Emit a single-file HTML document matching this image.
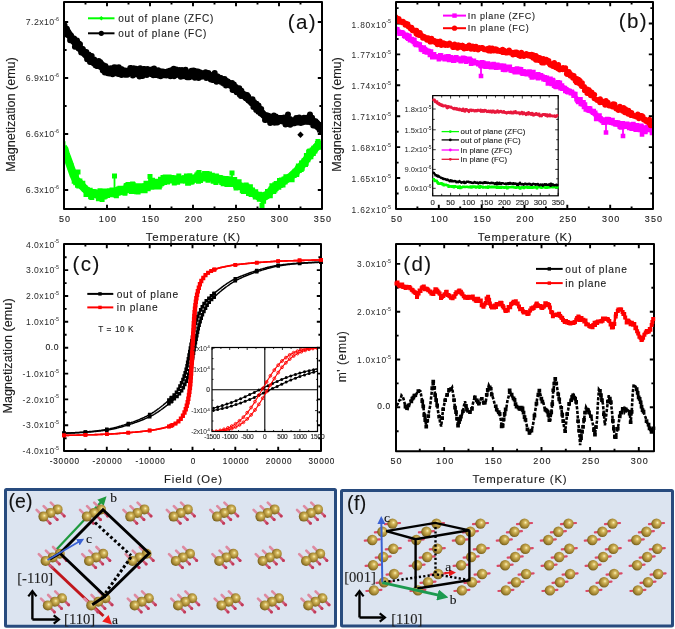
<!DOCTYPE html>
<html><head><meta charset="utf-8"><style>
html,body{margin:0;padding:0;background:#fff;}
svg{display:block;filter:blur(0.3px);}
</style></head><body>
<svg width="675" height="629" viewBox="0 0 675 629" font-family='"Liberation Sans", sans-serif'>
<rect x="64" y="2" width="258" height="207" fill="none" stroke="#000" stroke-width="2" stroke-linejoin="round"/><path d="M107.0 209v-4.2M107.0 2v4.2M150.0 209v-4.2M150.0 2v4.2M193.0 209v-4.2M193.0 2v4.2M236.0 209v-4.2M236.0 2v4.2M279.0 209v-4.2M279.0 2v4.2M85.5 209v-2.6M85.5 2v2.6M128.5 209v-2.6M128.5 2v2.6M171.5 209v-2.6M171.5 2v2.6M214.5 209v-2.6M214.5 2v2.6M257.5 209v-2.6M257.5 2v2.6M300.5 209v-2.6M300.5 2v2.6M64 22.0h4.2M322 22.0h-4.2M64 78.0h4.2M322 78.0h-4.2M64 134.0h4.2M322 134.0h-4.2M64 190.0h4.2M322 190.0h-4.2M64 50.0h2.6M322 50.0h-2.6M64 106.0h2.6M322 106.0h-2.6M64 162.0h2.6M322 162.0h-2.6" stroke="#000" stroke-width="1.9" fill="none"/>
<clipPath id="ca"><rect x="65" y="3" width="256" height="205"/></clipPath><g clip-path="url(#ca)">
<polyline points="63.0,147.0 64.5,149.2 66.0,154.5 67.5,158.3 69.0,162.4 70.5,166.7 72.1,171.1 73.6,175.4 75.1,178.6 76.6,180.4 78.1,181.8 79.6,183.1 81.1,184.7 82.6,186.5 84.1,188.2 85.6,189.5 87.1,190.8 88.6,191.8 90.2,192.6 91.7,193.1 93.2,193.7 94.7,194.1 96.2,194.5 97.7,194.8 99.2,195.0 100.7,195.0 102.2,194.9 103.7,194.6 105.2,194.4 106.8,194.1 108.3,193.7 109.8,193.4 111.3,193.2 112.8,192.9 114.3,192.7 115.8,192.4 117.3,192.1 118.8,191.8 120.3,191.4 121.8,190.8 123.4,190.1 124.9,189.3 126.4,188.6 127.9,188.0 129.4,187.6 130.9,187.6 132.4,187.7 133.9,187.7 135.4,187.8 136.9,187.9 138.4,188.0 139.9,188.0 141.5,187.9 143.0,187.6 144.5,187.2 146.0,186.6 147.5,186.1 149.0,185.6 150.5,185.2 152.0,184.8 153.5,184.4 155.0,184.0 156.5,183.6 158.1,183.2 159.6,182.7 161.1,182.2 162.6,181.6 164.1,180.8 165.6,180.1 167.1,179.5 168.6,179.1 170.1,179.0 171.6,179.0 173.1,179.1 174.6,179.2 176.2,179.3 177.7,179.4 179.2,179.5 180.7,179.5 182.2,179.4 183.7,179.4 185.2,179.2 186.7,179.1 188.2,179.0 189.7,178.8 191.2,178.7 192.8,178.4 194.3,178.2 195.8,177.9 197.3,177.7 198.8,177.5 200.3,177.5 201.8,177.5 203.3,177.5 204.8,177.5 206.3,177.5 207.8,177.5 209.4,177.5 210.9,177.5 212.4,177.6 213.9,177.8 215.4,178.1 216.9,178.4 218.4,178.7 219.9,179.0 221.4,179.3 222.9,179.6 224.4,179.9 225.9,180.3 227.5,180.7 229.0,181.1 230.5,181.6 232.0,182.1 233.5,182.8 235.0,183.5 236.5,184.2 238.0,185.0 239.5,185.8 241.0,186.5 242.5,187.3 244.1,188.0 245.6,188.8 247.1,189.6 248.6,190.4 250.1,191.2 251.6,192.2 253.1,193.1 254.6,194.0 256.1,194.8 257.6,195.8 259.1,196.7 260.6,197.3 262.2,197.5 263.7,197.2 265.2,196.5 266.7,195.5 268.2,193.8 269.7,192.0 271.2,190.6 272.7,189.2 274.2,187.9 275.7,186.7 277.2,185.5 278.8,184.3 280.3,183.2 281.8,182.2 283.3,181.3 284.8,180.4 286.3,179.5 287.8,178.5 289.3,177.5 290.8,176.4 292.3,175.1 293.8,173.7 295.4,172.3 296.9,170.8 298.4,169.2 299.9,167.6 301.4,165.9 302.9,164.1 304.4,162.1 305.9,160.1 307.4,158.1 308.9,156.1 310.4,154.3 311.9,152.4 313.5,150.6 315.0,148.8 316.5,147.0 318.0,145.3 319.5,143.7 321.0,142.0" fill="none" stroke="#00ff00" stroke-width="8.0" stroke-linejoin="round"/><path d="M114.5 192.6L114.5 176.0M262.0 197.5L262.0 205.5M150.0 185.3L150.0 176.5M199.0 177.5L199.0 172.5M232.0 182.1L232.0 173.0M78.0 181.7L78.0 172.0" stroke="#00ff00" stroke-width="1.8"/><path d="M60.5 141.2h5.0v5.0h-5.0zM61.6 147.7h5.0v5.0h-5.0zM61.6 147.6h5.0v5.0h-5.0zM63.0 154.2h5.0v5.0h-5.0zM63.2 152.2h5.0v5.0h-5.0zM64.0 150.6h5.0v5.0h-5.0zM65.1 155.4h5.0v5.0h-5.0zM65.4 156.5h5.0v5.0h-5.0zM66.3 160.6h5.0v5.0h-5.0zM66.6 159.6h5.0v5.0h-5.0zM67.9 165.1h5.0v5.0h-5.0zM68.4 163.1h5.0v5.0h-5.0zM69.0 165.3h5.0v5.0h-5.0zM70.0 170.1h5.0v5.0h-5.0zM70.4 170.2h5.0v5.0h-5.0zM71.2 169.8h5.0v5.0h-5.0zM71.7 178.7h5.0v5.0h-5.0zM72.6 178.1h5.0v5.0h-5.0zM73.2 180.2h5.0v5.0h-5.0zM73.9 176.5h5.0v5.0h-5.0zM75.0 182.7h5.0v5.0h-5.0zM75.4 181.5h5.0v5.0h-5.0zM76.3 183.5h5.0v5.0h-5.0zM77.4 178.4h5.0v5.0h-5.0zM78.1 181.5h5.0v5.0h-5.0zM78.6 180.9h5.0v5.0h-5.0zM79.2 184.1h5.0v5.0h-5.0zM79.7 180.7h5.0v5.0h-5.0zM80.3 180.8h5.0v5.0h-5.0zM81.7 185.3h5.0v5.0h-5.0zM82.0 187.1h5.0v5.0h-5.0zM82.4 185.1h5.0v5.0h-5.0zM83.5 191.9h5.0v5.0h-5.0zM84.4 187.5h5.0v5.0h-5.0zM85.0 187.2h5.0v5.0h-5.0zM85.9 191.9h5.0v5.0h-5.0zM85.9 188.4h5.0v5.0h-5.0zM87.0 187.7h5.0v5.0h-5.0zM87.7 187.8h5.0v5.0h-5.0zM88.1 194.2h5.0v5.0h-5.0zM89.3 195.0h5.0v5.0h-5.0zM90.2 192.3h5.0v5.0h-5.0zM90.7 189.1h5.0v5.0h-5.0zM91.1 193.0h5.0v5.0h-5.0zM92.3 189.3h5.0v5.0h-5.0zM92.8 189.8h5.0v5.0h-5.0zM93.5 192.4h5.0v5.0h-5.0zM94.4 191.4h5.0v5.0h-5.0zM94.6 190.8h5.0v5.0h-5.0zM95.9 196.3h5.0v5.0h-5.0zM96.5 189.7h5.0v5.0h-5.0zM97.3 193.2h5.0v5.0h-5.0zM97.5 188.3h5.0v5.0h-5.0zM98.7 189.3h5.0v5.0h-5.0zM99.0 190.0h5.0v5.0h-5.0zM99.6 197.1h5.0v5.0h-5.0zM100.9 193.8h5.0v5.0h-5.0zM101.6 194.6h5.0v5.0h-5.0zM102.4 188.4h5.0v5.0h-5.0zM102.8 193.7h5.0v5.0h-5.0zM103.3 191.0h5.0v5.0h-5.0zM103.8 190.4h5.0v5.0h-5.0zM105.0 193.1h5.0v5.0h-5.0zM105.8 189.0h5.0v5.0h-5.0zM106.6 191.0h5.0v5.0h-5.0zM106.9 188.2h5.0v5.0h-5.0zM107.6 189.9h5.0v5.0h-5.0zM108.6 190.2h5.0v5.0h-5.0zM109.5 187.6h5.0v5.0h-5.0zM110.3 189.0h5.0v5.0h-5.0zM110.4 189.6h5.0v5.0h-5.0zM111.4 190.3h5.0v5.0h-5.0zM112.4 192.4h5.0v5.0h-5.0zM112.8 190.9h5.0v5.0h-5.0zM113.6 189.8h5.0v5.0h-5.0zM113.9 193.3h5.0v5.0h-5.0zM115.1 186.9h5.0v5.0h-5.0zM116.0 186.5h5.0v5.0h-5.0zM116.7 187.9h5.0v5.0h-5.0zM117.4 185.8h5.0v5.0h-5.0zM118.0 189.4h5.0v5.0h-5.0zM118.3 189.8h5.0v5.0h-5.0zM119.5 185.8h5.0v5.0h-5.0zM119.8 189.7h5.0v5.0h-5.0zM121.0 187.6h5.0v5.0h-5.0zM121.1 186.2h5.0v5.0h-5.0zM122.4 190.8h5.0v5.0h-5.0zM122.6 189.7h5.0v5.0h-5.0zM123.5 183.6h5.0v5.0h-5.0zM124.1 183.1h5.0v5.0h-5.0zM125.2 188.2h5.0v5.0h-5.0zM125.5 181.9h5.0v5.0h-5.0zM126.4 187.7h5.0v5.0h-5.0zM126.8 183.7h5.0v5.0h-5.0zM127.7 184.0h5.0v5.0h-5.0zM128.5 185.2h5.0v5.0h-5.0zM129.0 188.9h5.0v5.0h-5.0zM130.1 181.5h5.0v5.0h-5.0zM130.6 181.9h5.0v5.0h-5.0zM131.6 187.1h5.0v5.0h-5.0zM132.3 184.2h5.0v5.0h-5.0zM132.8 183.6h5.0v5.0h-5.0zM133.9 189.3h5.0v5.0h-5.0zM134.4 183.3h5.0v5.0h-5.0zM135.3 186.9h5.0v5.0h-5.0zM135.6 189.4h5.0v5.0h-5.0zM136.5 187.5h5.0v5.0h-5.0zM136.9 187.2h5.0v5.0h-5.0zM138.3 187.3h5.0v5.0h-5.0zM138.4 188.3h5.0v5.0h-5.0zM139.1 183.2h5.0v5.0h-5.0zM139.7 186.2h5.0v5.0h-5.0zM140.6 188.0h5.0v5.0h-5.0zM141.7 188.0h5.0v5.0h-5.0zM142.4 187.9h5.0v5.0h-5.0zM142.6 188.2h5.0v5.0h-5.0zM143.5 180.8h5.0v5.0h-5.0zM144.3 182.8h5.0v5.0h-5.0zM145.2 183.2h5.0v5.0h-5.0zM145.7 186.2h5.0v5.0h-5.0zM146.6 182.5h5.0v5.0h-5.0zM147.5 181.3h5.0v5.0h-5.0zM148.1 178.7h5.0v5.0h-5.0zM148.5 180.2h5.0v5.0h-5.0zM149.3 184.8h5.0v5.0h-5.0zM150.0 177.7h5.0v5.0h-5.0zM150.5 179.1h5.0v5.0h-5.0zM151.3 180.2h5.0v5.0h-5.0zM152.1 181.5h5.0v5.0h-5.0zM152.8 180.7h5.0v5.0h-5.0zM153.5 184.4h5.0v5.0h-5.0zM154.4 178.8h5.0v5.0h-5.0zM155.5 181.4h5.0v5.0h-5.0zM156.0 183.4h5.0v5.0h-5.0zM156.8 184.4h5.0v5.0h-5.0zM157.5 182.8h5.0v5.0h-5.0zM158.0 176.8h5.0v5.0h-5.0zM159.0 181.3h5.0v5.0h-5.0zM159.6 180.6h5.0v5.0h-5.0zM160.1 178.6h5.0v5.0h-5.0zM160.5 175.1h5.0v5.0h-5.0zM161.5 176.0h5.0v5.0h-5.0zM162.0 180.1h5.0v5.0h-5.0zM162.7 174.4h5.0v5.0h-5.0zM163.7 175.8h5.0v5.0h-5.0zM164.6 175.4h5.0v5.0h-5.0zM165.0 179.6h5.0v5.0h-5.0zM166.1 175.3h5.0v5.0h-5.0zM166.6 174.4h5.0v5.0h-5.0zM167.0 175.4h5.0v5.0h-5.0zM168.4 174.9h5.0v5.0h-5.0zM168.6 178.6h5.0v5.0h-5.0zM169.3 175.3h5.0v5.0h-5.0zM170.4 178.4h5.0v5.0h-5.0zM170.6 176.7h5.0v5.0h-5.0zM171.8 180.5h5.0v5.0h-5.0zM172.1 178.7h5.0v5.0h-5.0zM172.9 176.5h5.0v5.0h-5.0zM173.5 177.2h5.0v5.0h-5.0zM174.7 176.2h5.0v5.0h-5.0zM175.1 179.7h5.0v5.0h-5.0zM176.3 173.5h5.0v5.0h-5.0zM176.7 176.4h5.0v5.0h-5.0zM177.5 177.3h5.0v5.0h-5.0zM178.1 176.5h5.0v5.0h-5.0zM178.6 177.5h5.0v5.0h-5.0zM179.4 177.1h5.0v5.0h-5.0zM180.5 176.7h5.0v5.0h-5.0zM180.7 178.0h5.0v5.0h-5.0zM182.0 175.3h5.0v5.0h-5.0zM182.5 177.7h5.0v5.0h-5.0zM182.9 178.6h5.0v5.0h-5.0zM183.9 173.4h5.0v5.0h-5.0zM184.4 175.7h5.0v5.0h-5.0zM185.1 180.8h5.0v5.0h-5.0zM185.9 180.7h5.0v5.0h-5.0zM186.2 180.3h5.0v5.0h-5.0zM187.3 173.2h5.0v5.0h-5.0zM188.4 179.1h5.0v5.0h-5.0zM188.6 179.7h5.0v5.0h-5.0zM189.7 179.3h5.0v5.0h-5.0zM190.2 177.6h5.0v5.0h-5.0zM190.7 178.1h5.0v5.0h-5.0zM192.0 177.6h5.0v5.0h-5.0zM192.0 176.3h5.0v5.0h-5.0zM192.9 177.2h5.0v5.0h-5.0zM194.2 175.5h5.0v5.0h-5.0zM194.3 172.5h5.0v5.0h-5.0zM195.5 171.3h5.0v5.0h-5.0zM196.0 178.7h5.0v5.0h-5.0zM196.9 176.9h5.0v5.0h-5.0zM197.5 172.5h5.0v5.0h-5.0zM198.0 178.1h5.0v5.0h-5.0zM199.0 172.7h5.0v5.0h-5.0zM199.2 176.1h5.0v5.0h-5.0zM200.2 173.2h5.0v5.0h-5.0zM200.9 172.5h5.0v5.0h-5.0zM201.7 172.6h5.0v5.0h-5.0zM202.1 170.9h5.0v5.0h-5.0zM202.9 172.0h5.0v5.0h-5.0zM203.9 171.2h5.0v5.0h-5.0zM204.5 171.1h5.0v5.0h-5.0zM205.5 177.8h5.0v5.0h-5.0zM206.1 175.4h5.0v5.0h-5.0zM207.0 171.4h5.0v5.0h-5.0zM207.6 175.2h5.0v5.0h-5.0zM208.2 174.9h5.0v5.0h-5.0zM208.7 175.4h5.0v5.0h-5.0zM209.8 172.7h5.0v5.0h-5.0zM210.1 174.4h5.0v5.0h-5.0zM210.7 178.7h5.0v5.0h-5.0zM212.1 174.0h5.0v5.0h-5.0zM212.5 175.4h5.0v5.0h-5.0zM213.4 180.0h5.0v5.0h-5.0zM213.9 173.5h5.0v5.0h-5.0zM214.7 178.3h5.0v5.0h-5.0zM214.9 175.9h5.0v5.0h-5.0zM215.8 178.4h5.0v5.0h-5.0zM216.9 175.1h5.0v5.0h-5.0zM217.5 176.9h5.0v5.0h-5.0zM217.9 175.3h5.0v5.0h-5.0zM219.2 179.7h5.0v5.0h-5.0zM219.3 180.1h5.0v5.0h-5.0zM220.3 177.6h5.0v5.0h-5.0zM220.7 181.3h5.0v5.0h-5.0zM221.9 179.5h5.0v5.0h-5.0zM222.3 180.6h5.0v5.0h-5.0zM222.9 180.3h5.0v5.0h-5.0zM223.5 176.1h5.0v5.0h-5.0zM224.4 182.1h5.0v5.0h-5.0zM225.1 176.8h5.0v5.0h-5.0zM226.1 178.5h5.0v5.0h-5.0zM226.7 176.2h5.0v5.0h-5.0zM227.8 181.9h5.0v5.0h-5.0zM228.6 178.1h5.0v5.0h-5.0zM229.2 181.4h5.0v5.0h-5.0zM229.8 177.6h5.0v5.0h-5.0zM230.6 178.8h5.0v5.0h-5.0zM231.4 178.7h5.0v5.0h-5.0zM231.4 177.9h5.0v5.0h-5.0zM232.2 177.0h5.0v5.0h-5.0zM233.1 183.4h5.0v5.0h-5.0zM233.6 185.6h5.0v5.0h-5.0zM234.7 180.0h5.0v5.0h-5.0zM235.2 179.5h5.0v5.0h-5.0zM235.9 182.1h5.0v5.0h-5.0zM236.6 179.2h5.0v5.0h-5.0zM237.2 184.9h5.0v5.0h-5.0zM238.4 182.7h5.0v5.0h-5.0zM239.1 184.5h5.0v5.0h-5.0zM239.8 188.3h5.0v5.0h-5.0zM240.0 187.6h5.0v5.0h-5.0zM241.0 189.1h5.0v5.0h-5.0zM242.0 189.0h5.0v5.0h-5.0zM242.3 186.7h5.0v5.0h-5.0zM243.2 186.1h5.0v5.0h-5.0zM243.6 182.6h5.0v5.0h-5.0zM244.3 183.5h5.0v5.0h-5.0zM245.2 187.2h5.0v5.0h-5.0zM246.0 191.1h5.0v5.0h-5.0zM246.8 187.3h5.0v5.0h-5.0zM247.9 184.3h5.0v5.0h-5.0zM248.1 186.9h5.0v5.0h-5.0zM248.6 191.9h5.0v5.0h-5.0zM250.0 187.5h5.0v5.0h-5.0zM250.1 187.8h5.0v5.0h-5.0zM250.8 189.7h5.0v5.0h-5.0zM252.2 192.0h5.0v5.0h-5.0zM252.8 194.4h5.0v5.0h-5.0zM253.2 189.3h5.0v5.0h-5.0zM253.7 193.6h5.0v5.0h-5.0zM254.6 193.3h5.0v5.0h-5.0zM255.3 193.3h5.0v5.0h-5.0zM256.4 195.1h5.0v5.0h-5.0zM256.8 196.8h5.0v5.0h-5.0zM257.2 191.8h5.0v5.0h-5.0zM258.6 194.5h5.0v5.0h-5.0zM259.1 192.3h5.0v5.0h-5.0zM259.4 195.4h5.0v5.0h-5.0zM260.1 197.6h5.0v5.0h-5.0zM261.1 198.8h5.0v5.0h-5.0zM261.6 194.2h5.0v5.0h-5.0zM262.7 192.1h5.0v5.0h-5.0zM263.4 194.1h5.0v5.0h-5.0zM263.7 191.5h5.0v5.0h-5.0zM265.0 188.9h5.0v5.0h-5.0zM265.7 191.4h5.0v5.0h-5.0zM266.5 192.9h5.0v5.0h-5.0zM267.0 193.1h5.0v5.0h-5.0zM267.8 193.3h5.0v5.0h-5.0zM268.1 187.5h5.0v5.0h-5.0zM268.7 186.3h5.0v5.0h-5.0zM269.4 183.2h5.0v5.0h-5.0zM270.9 185.2h5.0v5.0h-5.0zM271.3 189.0h5.0v5.0h-5.0zM272.3 182.3h5.0v5.0h-5.0zM272.5 187.6h5.0v5.0h-5.0zM273.6 185.9h5.0v5.0h-5.0zM273.7 180.9h5.0v5.0h-5.0zM274.5 184.5h5.0v5.0h-5.0zM275.3 184.7h5.0v5.0h-5.0zM276.3 184.8h5.0v5.0h-5.0zM277.0 177.9h5.0v5.0h-5.0zM277.6 182.9h5.0v5.0h-5.0zM278.3 182.7h5.0v5.0h-5.0zM279.1 177.5h5.0v5.0h-5.0zM280.2 177.5h5.0v5.0h-5.0zM280.5 182.5h5.0v5.0h-5.0zM281.5 178.1h5.0v5.0h-5.0zM281.6 176.5h5.0v5.0h-5.0zM282.6 179.6h5.0v5.0h-5.0zM283.4 174.2h5.0v5.0h-5.0zM284.2 176.5h5.0v5.0h-5.0zM284.6 175.0h5.0v5.0h-5.0zM285.5 176.3h5.0v5.0h-5.0zM286.6 176.4h5.0v5.0h-5.0zM287.1 176.2h5.0v5.0h-5.0zM287.8 174.1h5.0v5.0h-5.0zM288.1 177.2h5.0v5.0h-5.0zM288.8 176.1h5.0v5.0h-5.0zM289.6 177.2h5.0v5.0h-5.0zM290.3 171.7h5.0v5.0h-5.0zM291.7 173.1h5.0v5.0h-5.0zM291.6 170.7h5.0v5.0h-5.0zM292.6 168.7h5.0v5.0h-5.0zM293.1 170.4h5.0v5.0h-5.0zM294.2 172.0h5.0v5.0h-5.0zM294.5 170.6h5.0v5.0h-5.0zM295.2 165.5h5.0v5.0h-5.0zM295.9 163.5h5.0v5.0h-5.0zM296.8 168.0h5.0v5.0h-5.0zM297.8 165.4h5.0v5.0h-5.0zM298.7 166.9h5.0v5.0h-5.0zM299.0 160.5h5.0v5.0h-5.0zM299.7 165.7h5.0v5.0h-5.0zM300.8 160.0h5.0v5.0h-5.0zM301.5 158.5h5.0v5.0h-5.0zM301.7 158.2h5.0v5.0h-5.0zM303.0 161.9h5.0v5.0h-5.0zM303.7 160.7h5.0v5.0h-5.0zM303.9 153.1h5.0v5.0h-5.0zM305.0 154.0h5.0v5.0h-5.0zM305.4 157.2h5.0v5.0h-5.0zM306.1 149.4h5.0v5.0h-5.0zM307.0 148.7h5.0v5.0h-5.0zM307.8 148.4h5.0v5.0h-5.0zM308.4 154.3h5.0v5.0h-5.0zM309.2 149.0h5.0v5.0h-5.0zM309.7 147.6h5.0v5.0h-5.0zM310.8 151.1h5.0v5.0h-5.0zM311.2 145.8h5.0v5.0h-5.0zM312.4 148.5h5.0v5.0h-5.0zM312.8 145.3h5.0v5.0h-5.0zM313.3 144.2h5.0v5.0h-5.0zM313.9 143.8h5.0v5.0h-5.0zM314.9 141.0h5.0v5.0h-5.0zM315.5 138.9h5.0v5.0h-5.0zM316.4 144.7h5.0v5.0h-5.0zM317.1 144.6h5.0v5.0h-5.0zM317.4 140.4h5.0v5.0h-5.0zM318.5 141.1h5.0v5.0h-5.0zM112.0 173.5h5.0v5.0h-5.0zM259.5 203.0h5.0v5.0h-5.0zM147.5 174.0h5.0v5.0h-5.0zM196.5 170.0h5.0v5.0h-5.0zM229.5 170.5h5.0v5.0h-5.0zM75.5 169.5h5.0v5.0h-5.0z" fill="#00ff00"/>
<polyline points="63.0,28.0 64.5,28.4 66.0,29.8 67.5,31.9 69.0,34.5 70.5,36.8 72.1,38.9 73.6,40.8 75.1,42.6 76.6,44.4 78.1,46.1 79.6,47.8 81.1,49.5 82.6,51.2 84.1,53.0 85.6,54.6 87.1,56.1 88.6,57.5 90.2,58.8 91.7,60.0 93.2,61.1 94.7,62.1 96.2,63.1 97.7,64.1 99.2,65.1 100.7,66.1 102.2,67.2 103.7,68.4 105.2,69.5 106.8,70.0 108.3,70.5 109.8,70.8 111.3,71.0 112.8,71.1 114.3,71.1 115.8,71.1 117.3,71.2 118.8,71.2 120.3,71.3 121.8,71.4 123.4,71.4 124.9,71.5 126.4,71.5 127.9,71.6 129.4,71.6 130.9,71.7 132.4,71.7 133.9,71.8 135.4,71.8 136.9,71.9 138.4,71.9 139.9,71.9 141.5,72.0 143.0,72.0 144.5,72.1 146.0,72.1 147.5,72.2 149.0,72.2 150.5,72.2 152.0,72.3 153.5,72.3 155.0,72.4 156.5,72.4 158.1,72.5 159.6,72.6 161.1,72.6 162.6,72.7 164.1,72.8 165.6,72.8 167.1,72.8 168.6,72.9 170.1,72.9 171.6,72.9 173.1,72.9 174.6,73.0 176.2,73.0 177.7,73.1 179.2,73.1 180.7,73.2 182.2,73.2 183.7,73.3 185.2,73.4 186.7,73.4 188.2,73.5 189.7,73.6 191.2,73.7 192.8,73.8 194.3,73.9 195.8,74.0 197.3,74.1 198.8,74.2 200.3,74.4 201.8,74.6 203.3,74.8 204.8,75.0 206.3,75.2 207.8,75.5 209.4,75.7 210.9,76.0 212.4,76.4 213.9,76.7 215.4,77.2 216.9,77.6 218.4,78.1 219.9,78.7 221.4,79.4 222.9,80.1 224.4,80.8 225.9,81.6 227.5,82.5 229.0,83.5 230.5,84.7 232.0,85.8 233.5,87.0 235.0,88.2 236.5,89.4 238.0,90.6 239.5,91.8 241.0,93.0 242.5,94.2 244.1,95.5 245.6,96.8 247.1,98.1 248.6,99.3 250.1,100.6 251.6,101.9 253.1,103.3 254.6,104.7 256.1,106.2 257.6,108.0 259.1,109.8 260.6,111.6 262.2,113.3 263.7,114.9 265.2,116.3 266.7,117.5 268.2,118.7 269.7,119.4 271.2,119.7 272.7,119.8 274.2,119.9 275.7,120.0 277.2,120.1 278.8,120.2 280.3,120.3 281.8,120.5 283.3,120.7 284.8,120.8 286.3,121.0 287.8,121.1 289.3,121.2 290.8,121.2 292.3,121.2 293.8,121.1 295.4,121.1 296.9,121.1 298.4,121.0 299.9,121.0 301.4,121.0 302.9,121.0 304.4,120.9 305.9,120.9 307.4,120.9 308.9,120.9 310.4,120.9 311.9,121.2 313.5,121.7 315.0,122.4 316.5,123.4 318.0,125.3 319.5,128.0 321.0,131.3" fill="none" stroke="#000" stroke-width="7.5" stroke-linejoin="round"/><path d="M60.0 25.5a3.00 3.00 0 1 0 6.00 0a3.00 3.00 0 1 0 -6.00 0zM60.5 27.8a3.00 3.00 0 1 0 6.00 0a3.00 3.00 0 1 0 -6.00 0zM61.6 25.5a3.00 3.00 0 1 0 6.00 0a3.00 3.00 0 1 0 -6.00 0zM61.7 28.9a3.00 3.00 0 1 0 6.00 0a3.00 3.00 0 1 0 -6.00 0zM62.8 33.1a3.00 3.00 0 1 0 6.00 0a3.00 3.00 0 1 0 -6.00 0zM63.5 34.1a3.00 3.00 0 1 0 6.00 0a3.00 3.00 0 1 0 -6.00 0zM63.8 28.7a3.00 3.00 0 1 0 6.00 0a3.00 3.00 0 1 0 -6.00 0zM64.3 34.9a3.00 3.00 0 1 0 6.00 0a3.00 3.00 0 1 0 -6.00 0zM65.2 32.5a3.00 3.00 0 1 0 6.00 0a3.00 3.00 0 1 0 -6.00 0zM66.1 35.2a3.00 3.00 0 1 0 6.00 0a3.00 3.00 0 1 0 -6.00 0zM66.7 34.2a3.00 3.00 0 1 0 6.00 0a3.00 3.00 0 1 0 -6.00 0zM67.1 40.3a3.00 3.00 0 1 0 6.00 0a3.00 3.00 0 1 0 -6.00 0zM68.0 35.5a3.00 3.00 0 1 0 6.00 0a3.00 3.00 0 1 0 -6.00 0zM68.8 40.1a3.00 3.00 0 1 0 6.00 0a3.00 3.00 0 1 0 -6.00 0zM69.3 40.6a3.00 3.00 0 1 0 6.00 0a3.00 3.00 0 1 0 -6.00 0zM70.1 41.2a3.00 3.00 0 1 0 6.00 0a3.00 3.00 0 1 0 -6.00 0zM71.1 38.5a3.00 3.00 0 1 0 6.00 0a3.00 3.00 0 1 0 -6.00 0zM71.5 42.4a3.00 3.00 0 1 0 6.00 0a3.00 3.00 0 1 0 -6.00 0zM71.9 46.7a3.00 3.00 0 1 0 6.00 0a3.00 3.00 0 1 0 -6.00 0zM72.4 43.9a3.00 3.00 0 1 0 6.00 0a3.00 3.00 0 1 0 -6.00 0zM73.2 41.7a3.00 3.00 0 1 0 6.00 0a3.00 3.00 0 1 0 -6.00 0zM74.0 40.6a3.00 3.00 0 1 0 6.00 0a3.00 3.00 0 1 0 -6.00 0zM75.0 44.3a3.00 3.00 0 1 0 6.00 0a3.00 3.00 0 1 0 -6.00 0zM75.6 48.4a3.00 3.00 0 1 0 6.00 0a3.00 3.00 0 1 0 -6.00 0zM75.9 43.5a3.00 3.00 0 1 0 6.00 0a3.00 3.00 0 1 0 -6.00 0zM77.0 44.3a3.00 3.00 0 1 0 6.00 0a3.00 3.00 0 1 0 -6.00 0zM77.4 49.6a3.00 3.00 0 1 0 6.00 0a3.00 3.00 0 1 0 -6.00 0zM78.2 52.5a3.00 3.00 0 1 0 6.00 0a3.00 3.00 0 1 0 -6.00 0zM78.4 49.8a3.00 3.00 0 1 0 6.00 0a3.00 3.00 0 1 0 -6.00 0zM79.1 51.1a3.00 3.00 0 1 0 6.00 0a3.00 3.00 0 1 0 -6.00 0zM79.8 49.0a3.00 3.00 0 1 0 6.00 0a3.00 3.00 0 1 0 -6.00 0zM81.0 51.3a3.00 3.00 0 1 0 6.00 0a3.00 3.00 0 1 0 -6.00 0zM81.5 52.5a3.00 3.00 0 1 0 6.00 0a3.00 3.00 0 1 0 -6.00 0zM82.3 52.2a3.00 3.00 0 1 0 6.00 0a3.00 3.00 0 1 0 -6.00 0zM82.8 54.3a3.00 3.00 0 1 0 6.00 0a3.00 3.00 0 1 0 -6.00 0zM83.3 52.0a3.00 3.00 0 1 0 6.00 0a3.00 3.00 0 1 0 -6.00 0zM84.1 59.3a3.00 3.00 0 1 0 6.00 0a3.00 3.00 0 1 0 -6.00 0zM84.8 57.6a3.00 3.00 0 1 0 6.00 0a3.00 3.00 0 1 0 -6.00 0zM85.7 54.4a3.00 3.00 0 1 0 6.00 0a3.00 3.00 0 1 0 -6.00 0zM86.0 55.5a3.00 3.00 0 1 0 6.00 0a3.00 3.00 0 1 0 -6.00 0zM87.0 61.9a3.00 3.00 0 1 0 6.00 0a3.00 3.00 0 1 0 -6.00 0zM87.5 58.1a3.00 3.00 0 1 0 6.00 0a3.00 3.00 0 1 0 -6.00 0zM88.3 57.9a3.00 3.00 0 1 0 6.00 0a3.00 3.00 0 1 0 -6.00 0zM88.7 56.1a3.00 3.00 0 1 0 6.00 0a3.00 3.00 0 1 0 -6.00 0zM89.6 62.1a3.00 3.00 0 1 0 6.00 0a3.00 3.00 0 1 0 -6.00 0zM89.9 61.9a3.00 3.00 0 1 0 6.00 0a3.00 3.00 0 1 0 -6.00 0zM90.8 63.5a3.00 3.00 0 1 0 6.00 0a3.00 3.00 0 1 0 -6.00 0zM91.2 59.4a3.00 3.00 0 1 0 6.00 0a3.00 3.00 0 1 0 -6.00 0zM91.8 64.0a3.00 3.00 0 1 0 6.00 0a3.00 3.00 0 1 0 -6.00 0zM92.4 65.2a3.00 3.00 0 1 0 6.00 0a3.00 3.00 0 1 0 -6.00 0zM93.6 66.1a3.00 3.00 0 1 0 6.00 0a3.00 3.00 0 1 0 -6.00 0zM94.1 66.0a3.00 3.00 0 1 0 6.00 0a3.00 3.00 0 1 0 -6.00 0zM95.1 64.0a3.00 3.00 0 1 0 6.00 0a3.00 3.00 0 1 0 -6.00 0zM95.7 61.0a3.00 3.00 0 1 0 6.00 0a3.00 3.00 0 1 0 -6.00 0zM96.0 66.2a3.00 3.00 0 1 0 6.00 0a3.00 3.00 0 1 0 -6.00 0zM97.1 61.9a3.00 3.00 0 1 0 6.00 0a3.00 3.00 0 1 0 -6.00 0zM97.5 62.6a3.00 3.00 0 1 0 6.00 0a3.00 3.00 0 1 0 -6.00 0zM98.3 65.9a3.00 3.00 0 1 0 6.00 0a3.00 3.00 0 1 0 -6.00 0zM98.7 64.1a3.00 3.00 0 1 0 6.00 0a3.00 3.00 0 1 0 -6.00 0zM99.2 66.8a3.00 3.00 0 1 0 6.00 0a3.00 3.00 0 1 0 -6.00 0zM99.8 70.6a3.00 3.00 0 1 0 6.00 0a3.00 3.00 0 1 0 -6.00 0zM100.5 65.2a3.00 3.00 0 1 0 6.00 0a3.00 3.00 0 1 0 -6.00 0zM101.5 71.4a3.00 3.00 0 1 0 6.00 0a3.00 3.00 0 1 0 -6.00 0zM101.8 72.5a3.00 3.00 0 1 0 6.00 0a3.00 3.00 0 1 0 -6.00 0zM102.4 66.1a3.00 3.00 0 1 0 6.00 0a3.00 3.00 0 1 0 -6.00 0zM103.7 69.1a3.00 3.00 0 1 0 6.00 0a3.00 3.00 0 1 0 -6.00 0zM103.8 72.2a3.00 3.00 0 1 0 6.00 0a3.00 3.00 0 1 0 -6.00 0zM104.7 73.2a3.00 3.00 0 1 0 6.00 0a3.00 3.00 0 1 0 -6.00 0zM105.4 68.6a3.00 3.00 0 1 0 6.00 0a3.00 3.00 0 1 0 -6.00 0zM106.2 73.6a3.00 3.00 0 1 0 6.00 0a3.00 3.00 0 1 0 -6.00 0zM106.8 69.9a3.00 3.00 0 1 0 6.00 0a3.00 3.00 0 1 0 -6.00 0zM107.8 68.3a3.00 3.00 0 1 0 6.00 0a3.00 3.00 0 1 0 -6.00 0zM108.3 70.8a3.00 3.00 0 1 0 6.00 0a3.00 3.00 0 1 0 -6.00 0zM108.9 72.1a3.00 3.00 0 1 0 6.00 0a3.00 3.00 0 1 0 -6.00 0zM109.6 74.2a3.00 3.00 0 1 0 6.00 0a3.00 3.00 0 1 0 -6.00 0zM110.1 72.5a3.00 3.00 0 1 0 6.00 0a3.00 3.00 0 1 0 -6.00 0zM111.2 67.2a3.00 3.00 0 1 0 6.00 0a3.00 3.00 0 1 0 -6.00 0zM111.2 71.3a3.00 3.00 0 1 0 6.00 0a3.00 3.00 0 1 0 -6.00 0zM112.3 69.8a3.00 3.00 0 1 0 6.00 0a3.00 3.00 0 1 0 -6.00 0zM112.8 73.3a3.00 3.00 0 1 0 6.00 0a3.00 3.00 0 1 0 -6.00 0zM113.1 67.6a3.00 3.00 0 1 0 6.00 0a3.00 3.00 0 1 0 -6.00 0zM114.0 72.5a3.00 3.00 0 1 0 6.00 0a3.00 3.00 0 1 0 -6.00 0zM115.2 74.0a3.00 3.00 0 1 0 6.00 0a3.00 3.00 0 1 0 -6.00 0zM115.7 67.5a3.00 3.00 0 1 0 6.00 0a3.00 3.00 0 1 0 -6.00 0zM115.8 67.3a3.00 3.00 0 1 0 6.00 0a3.00 3.00 0 1 0 -6.00 0zM116.7 74.3a3.00 3.00 0 1 0 6.00 0a3.00 3.00 0 1 0 -6.00 0zM117.1 73.8a3.00 3.00 0 1 0 6.00 0a3.00 3.00 0 1 0 -6.00 0zM118.4 68.9a3.00 3.00 0 1 0 6.00 0a3.00 3.00 0 1 0 -6.00 0zM118.5 74.9a3.00 3.00 0 1 0 6.00 0a3.00 3.00 0 1 0 -6.00 0zM119.1 71.0a3.00 3.00 0 1 0 6.00 0a3.00 3.00 0 1 0 -6.00 0zM120.5 71.2a3.00 3.00 0 1 0 6.00 0a3.00 3.00 0 1 0 -6.00 0zM120.8 70.9a3.00 3.00 0 1 0 6.00 0a3.00 3.00 0 1 0 -6.00 0zM121.3 70.5a3.00 3.00 0 1 0 6.00 0a3.00 3.00 0 1 0 -6.00 0zM121.8 74.7a3.00 3.00 0 1 0 6.00 0a3.00 3.00 0 1 0 -6.00 0zM122.7 72.9a3.00 3.00 0 1 0 6.00 0a3.00 3.00 0 1 0 -6.00 0zM123.4 74.7a3.00 3.00 0 1 0 6.00 0a3.00 3.00 0 1 0 -6.00 0zM124.2 72.6a3.00 3.00 0 1 0 6.00 0a3.00 3.00 0 1 0 -6.00 0zM124.4 74.7a3.00 3.00 0 1 0 6.00 0a3.00 3.00 0 1 0 -6.00 0zM125.2 71.8a3.00 3.00 0 1 0 6.00 0a3.00 3.00 0 1 0 -6.00 0zM125.9 71.3a3.00 3.00 0 1 0 6.00 0a3.00 3.00 0 1 0 -6.00 0zM126.8 72.4a3.00 3.00 0 1 0 6.00 0a3.00 3.00 0 1 0 -6.00 0zM127.3 68.1a3.00 3.00 0 1 0 6.00 0a3.00 3.00 0 1 0 -6.00 0zM128.3 74.1a3.00 3.00 0 1 0 6.00 0a3.00 3.00 0 1 0 -6.00 0zM128.7 68.2a3.00 3.00 0 1 0 6.00 0a3.00 3.00 0 1 0 -6.00 0zM129.8 75.6a3.00 3.00 0 1 0 6.00 0a3.00 3.00 0 1 0 -6.00 0zM130.6 68.3a3.00 3.00 0 1 0 6.00 0a3.00 3.00 0 1 0 -6.00 0zM130.5 73.1a3.00 3.00 0 1 0 6.00 0a3.00 3.00 0 1 0 -6.00 0zM131.3 73.6a3.00 3.00 0 1 0 6.00 0a3.00 3.00 0 1 0 -6.00 0zM132.2 72.1a3.00 3.00 0 1 0 6.00 0a3.00 3.00 0 1 0 -6.00 0zM133.1 68.8a3.00 3.00 0 1 0 6.00 0a3.00 3.00 0 1 0 -6.00 0zM133.2 74.2a3.00 3.00 0 1 0 6.00 0a3.00 3.00 0 1 0 -6.00 0zM133.9 69.9a3.00 3.00 0 1 0 6.00 0a3.00 3.00 0 1 0 -6.00 0zM134.8 70.3a3.00 3.00 0 1 0 6.00 0a3.00 3.00 0 1 0 -6.00 0zM135.7 73.5a3.00 3.00 0 1 0 6.00 0a3.00 3.00 0 1 0 -6.00 0zM136.5 76.6a3.00 3.00 0 1 0 6.00 0a3.00 3.00 0 1 0 -6.00 0zM137.2 68.3a3.00 3.00 0 1 0 6.00 0a3.00 3.00 0 1 0 -6.00 0zM137.8 72.3a3.00 3.00 0 1 0 6.00 0a3.00 3.00 0 1 0 -6.00 0zM137.8 74.0a3.00 3.00 0 1 0 6.00 0a3.00 3.00 0 1 0 -6.00 0zM139.3 70.3a3.00 3.00 0 1 0 6.00 0a3.00 3.00 0 1 0 -6.00 0zM139.6 76.0a3.00 3.00 0 1 0 6.00 0a3.00 3.00 0 1 0 -6.00 0zM139.9 72.9a3.00 3.00 0 1 0 6.00 0a3.00 3.00 0 1 0 -6.00 0zM140.7 69.0a3.00 3.00 0 1 0 6.00 0a3.00 3.00 0 1 0 -6.00 0zM141.6 69.1a3.00 3.00 0 1 0 6.00 0a3.00 3.00 0 1 0 -6.00 0zM142.1 69.3a3.00 3.00 0 1 0 6.00 0a3.00 3.00 0 1 0 -6.00 0zM142.8 71.4a3.00 3.00 0 1 0 6.00 0a3.00 3.00 0 1 0 -6.00 0zM143.8 74.9a3.00 3.00 0 1 0 6.00 0a3.00 3.00 0 1 0 -6.00 0zM144.5 69.0a3.00 3.00 0 1 0 6.00 0a3.00 3.00 0 1 0 -6.00 0zM144.9 69.2a3.00 3.00 0 1 0 6.00 0a3.00 3.00 0 1 0 -6.00 0zM145.8 70.1a3.00 3.00 0 1 0 6.00 0a3.00 3.00 0 1 0 -6.00 0zM146.1 73.2a3.00 3.00 0 1 0 6.00 0a3.00 3.00 0 1 0 -6.00 0zM147.3 71.6a3.00 3.00 0 1 0 6.00 0a3.00 3.00 0 1 0 -6.00 0zM147.6 71.6a3.00 3.00 0 1 0 6.00 0a3.00 3.00 0 1 0 -6.00 0zM148.6 69.5a3.00 3.00 0 1 0 6.00 0a3.00 3.00 0 1 0 -6.00 0zM148.5 74.3a3.00 3.00 0 1 0 6.00 0a3.00 3.00 0 1 0 -6.00 0zM149.9 72.2a3.00 3.00 0 1 0 6.00 0a3.00 3.00 0 1 0 -6.00 0zM150.3 75.3a3.00 3.00 0 1 0 6.00 0a3.00 3.00 0 1 0 -6.00 0zM151.1 68.6a3.00 3.00 0 1 0 6.00 0a3.00 3.00 0 1 0 -6.00 0zM151.3 71.6a3.00 3.00 0 1 0 6.00 0a3.00 3.00 0 1 0 -6.00 0zM152.3 70.6a3.00 3.00 0 1 0 6.00 0a3.00 3.00 0 1 0 -6.00 0zM152.7 75.1a3.00 3.00 0 1 0 6.00 0a3.00 3.00 0 1 0 -6.00 0zM153.3 74.1a3.00 3.00 0 1 0 6.00 0a3.00 3.00 0 1 0 -6.00 0zM153.8 73.1a3.00 3.00 0 1 0 6.00 0a3.00 3.00 0 1 0 -6.00 0zM155.2 70.2a3.00 3.00 0 1 0 6.00 0a3.00 3.00 0 1 0 -6.00 0zM155.7 74.5a3.00 3.00 0 1 0 6.00 0a3.00 3.00 0 1 0 -6.00 0zM156.0 75.8a3.00 3.00 0 1 0 6.00 0a3.00 3.00 0 1 0 -6.00 0zM156.7 75.2a3.00 3.00 0 1 0 6.00 0a3.00 3.00 0 1 0 -6.00 0zM157.6 76.3a3.00 3.00 0 1 0 6.00 0a3.00 3.00 0 1 0 -6.00 0zM158.5 73.6a3.00 3.00 0 1 0 6.00 0a3.00 3.00 0 1 0 -6.00 0zM158.6 71.5a3.00 3.00 0 1 0 6.00 0a3.00 3.00 0 1 0 -6.00 0zM160.0 71.4a3.00 3.00 0 1 0 6.00 0a3.00 3.00 0 1 0 -6.00 0zM160.6 75.2a3.00 3.00 0 1 0 6.00 0a3.00 3.00 0 1 0 -6.00 0zM160.7 74.8a3.00 3.00 0 1 0 6.00 0a3.00 3.00 0 1 0 -6.00 0zM161.7 74.3a3.00 3.00 0 1 0 6.00 0a3.00 3.00 0 1 0 -6.00 0zM162.2 74.8a3.00 3.00 0 1 0 6.00 0a3.00 3.00 0 1 0 -6.00 0zM163.1 72.7a3.00 3.00 0 1 0 6.00 0a3.00 3.00 0 1 0 -6.00 0zM163.3 75.5a3.00 3.00 0 1 0 6.00 0a3.00 3.00 0 1 0 -6.00 0zM164.2 74.1a3.00 3.00 0 1 0 6.00 0a3.00 3.00 0 1 0 -6.00 0zM165.0 71.3a3.00 3.00 0 1 0 6.00 0a3.00 3.00 0 1 0 -6.00 0zM165.7 73.8a3.00 3.00 0 1 0 6.00 0a3.00 3.00 0 1 0 -6.00 0zM166.4 73.9a3.00 3.00 0 1 0 6.00 0a3.00 3.00 0 1 0 -6.00 0zM167.3 70.5a3.00 3.00 0 1 0 6.00 0a3.00 3.00 0 1 0 -6.00 0zM167.4 76.2a3.00 3.00 0 1 0 6.00 0a3.00 3.00 0 1 0 -6.00 0zM168.0 75.6a3.00 3.00 0 1 0 6.00 0a3.00 3.00 0 1 0 -6.00 0zM168.9 69.9a3.00 3.00 0 1 0 6.00 0a3.00 3.00 0 1 0 -6.00 0zM169.7 70.4a3.00 3.00 0 1 0 6.00 0a3.00 3.00 0 1 0 -6.00 0zM170.7 68.7a3.00 3.00 0 1 0 6.00 0a3.00 3.00 0 1 0 -6.00 0zM171.1 76.3a3.00 3.00 0 1 0 6.00 0a3.00 3.00 0 1 0 -6.00 0zM171.8 70.5a3.00 3.00 0 1 0 6.00 0a3.00 3.00 0 1 0 -6.00 0zM172.7 75.3a3.00 3.00 0 1 0 6.00 0a3.00 3.00 0 1 0 -6.00 0zM172.8 73.1a3.00 3.00 0 1 0 6.00 0a3.00 3.00 0 1 0 -6.00 0zM173.4 69.6a3.00 3.00 0 1 0 6.00 0a3.00 3.00 0 1 0 -6.00 0zM174.2 71.5a3.00 3.00 0 1 0 6.00 0a3.00 3.00 0 1 0 -6.00 0zM174.8 71.4a3.00 3.00 0 1 0 6.00 0a3.00 3.00 0 1 0 -6.00 0zM175.8 74.2a3.00 3.00 0 1 0 6.00 0a3.00 3.00 0 1 0 -6.00 0zM176.7 71.9a3.00 3.00 0 1 0 6.00 0a3.00 3.00 0 1 0 -6.00 0zM176.7 70.1a3.00 3.00 0 1 0 6.00 0a3.00 3.00 0 1 0 -6.00 0zM177.7 76.8a3.00 3.00 0 1 0 6.00 0a3.00 3.00 0 1 0 -6.00 0zM178.4 73.9a3.00 3.00 0 1 0 6.00 0a3.00 3.00 0 1 0 -6.00 0zM179.0 70.0a3.00 3.00 0 1 0 6.00 0a3.00 3.00 0 1 0 -6.00 0zM180.0 76.2a3.00 3.00 0 1 0 6.00 0a3.00 3.00 0 1 0 -6.00 0zM180.5 74.8a3.00 3.00 0 1 0 6.00 0a3.00 3.00 0 1 0 -6.00 0zM181.3 72.9a3.00 3.00 0 1 0 6.00 0a3.00 3.00 0 1 0 -6.00 0zM181.3 70.6a3.00 3.00 0 1 0 6.00 0a3.00 3.00 0 1 0 -6.00 0zM182.1 75.4a3.00 3.00 0 1 0 6.00 0a3.00 3.00 0 1 0 -6.00 0zM182.6 69.8a3.00 3.00 0 1 0 6.00 0a3.00 3.00 0 1 0 -6.00 0zM183.9 77.3a3.00 3.00 0 1 0 6.00 0a3.00 3.00 0 1 0 -6.00 0zM184.7 74.9a3.00 3.00 0 1 0 6.00 0a3.00 3.00 0 1 0 -6.00 0zM184.6 75.2a3.00 3.00 0 1 0 6.00 0a3.00 3.00 0 1 0 -6.00 0zM185.9 75.8a3.00 3.00 0 1 0 6.00 0a3.00 3.00 0 1 0 -6.00 0zM186.5 77.3a3.00 3.00 0 1 0 6.00 0a3.00 3.00 0 1 0 -6.00 0zM187.3 73.1a3.00 3.00 0 1 0 6.00 0a3.00 3.00 0 1 0 -6.00 0zM187.5 75.5a3.00 3.00 0 1 0 6.00 0a3.00 3.00 0 1 0 -6.00 0zM188.5 70.8a3.00 3.00 0 1 0 6.00 0a3.00 3.00 0 1 0 -6.00 0zM188.8 75.1a3.00 3.00 0 1 0 6.00 0a3.00 3.00 0 1 0 -6.00 0zM189.3 76.3a3.00 3.00 0 1 0 6.00 0a3.00 3.00 0 1 0 -6.00 0zM190.5 71.3a3.00 3.00 0 1 0 6.00 0a3.00 3.00 0 1 0 -6.00 0zM190.6 70.4a3.00 3.00 0 1 0 6.00 0a3.00 3.00 0 1 0 -6.00 0zM191.8 77.7a3.00 3.00 0 1 0 6.00 0a3.00 3.00 0 1 0 -6.00 0zM192.2 77.1a3.00 3.00 0 1 0 6.00 0a3.00 3.00 0 1 0 -6.00 0zM193.0 71.2a3.00 3.00 0 1 0 6.00 0a3.00 3.00 0 1 0 -6.00 0zM194.0 74.3a3.00 3.00 0 1 0 6.00 0a3.00 3.00 0 1 0 -6.00 0zM194.1 72.1a3.00 3.00 0 1 0 6.00 0a3.00 3.00 0 1 0 -6.00 0zM195.0 71.6a3.00 3.00 0 1 0 6.00 0a3.00 3.00 0 1 0 -6.00 0zM195.6 77.9a3.00 3.00 0 1 0 6.00 0a3.00 3.00 0 1 0 -6.00 0zM196.1 75.2a3.00 3.00 0 1 0 6.00 0a3.00 3.00 0 1 0 -6.00 0zM197.0 75.9a3.00 3.00 0 1 0 6.00 0a3.00 3.00 0 1 0 -6.00 0zM197.4 72.6a3.00 3.00 0 1 0 6.00 0a3.00 3.00 0 1 0 -6.00 0zM198.6 76.8a3.00 3.00 0 1 0 6.00 0a3.00 3.00 0 1 0 -6.00 0zM199.1 76.5a3.00 3.00 0 1 0 6.00 0a3.00 3.00 0 1 0 -6.00 0zM199.5 73.6a3.00 3.00 0 1 0 6.00 0a3.00 3.00 0 1 0 -6.00 0zM200.7 75.0a3.00 3.00 0 1 0 6.00 0a3.00 3.00 0 1 0 -6.00 0zM200.9 73.1a3.00 3.00 0 1 0 6.00 0a3.00 3.00 0 1 0 -6.00 0zM201.8 76.8a3.00 3.00 0 1 0 6.00 0a3.00 3.00 0 1 0 -6.00 0zM202.6 72.3a3.00 3.00 0 1 0 6.00 0a3.00 3.00 0 1 0 -6.00 0zM202.8 75.2a3.00 3.00 0 1 0 6.00 0a3.00 3.00 0 1 0 -6.00 0zM203.3 78.0a3.00 3.00 0 1 0 6.00 0a3.00 3.00 0 1 0 -6.00 0zM204.7 76.8a3.00 3.00 0 1 0 6.00 0a3.00 3.00 0 1 0 -6.00 0zM205.4 76.2a3.00 3.00 0 1 0 6.00 0a3.00 3.00 0 1 0 -6.00 0zM205.4 72.9a3.00 3.00 0 1 0 6.00 0a3.00 3.00 0 1 0 -6.00 0zM206.1 77.8a3.00 3.00 0 1 0 6.00 0a3.00 3.00 0 1 0 -6.00 0zM207.0 76.4a3.00 3.00 0 1 0 6.00 0a3.00 3.00 0 1 0 -6.00 0zM207.8 79.5a3.00 3.00 0 1 0 6.00 0a3.00 3.00 0 1 0 -6.00 0zM208.8 79.3a3.00 3.00 0 1 0 6.00 0a3.00 3.00 0 1 0 -6.00 0zM209.4 80.1a3.00 3.00 0 1 0 6.00 0a3.00 3.00 0 1 0 -6.00 0zM210.1 77.2a3.00 3.00 0 1 0 6.00 0a3.00 3.00 0 1 0 -6.00 0zM210.2 78.5a3.00 3.00 0 1 0 6.00 0a3.00 3.00 0 1 0 -6.00 0zM211.1 73.9a3.00 3.00 0 1 0 6.00 0a3.00 3.00 0 1 0 -6.00 0zM211.7 73.1a3.00 3.00 0 1 0 6.00 0a3.00 3.00 0 1 0 -6.00 0zM212.2 79.4a3.00 3.00 0 1 0 6.00 0a3.00 3.00 0 1 0 -6.00 0zM212.7 78.6a3.00 3.00 0 1 0 6.00 0a3.00 3.00 0 1 0 -6.00 0zM213.5 81.7a3.00 3.00 0 1 0 6.00 0a3.00 3.00 0 1 0 -6.00 0zM214.3 76.2a3.00 3.00 0 1 0 6.00 0a3.00 3.00 0 1 0 -6.00 0zM214.7 77.5a3.00 3.00 0 1 0 6.00 0a3.00 3.00 0 1 0 -6.00 0zM215.5 80.1a3.00 3.00 0 1 0 6.00 0a3.00 3.00 0 1 0 -6.00 0zM216.0 79.7a3.00 3.00 0 1 0 6.00 0a3.00 3.00 0 1 0 -6.00 0zM217.2 81.0a3.00 3.00 0 1 0 6.00 0a3.00 3.00 0 1 0 -6.00 0zM217.7 78.1a3.00 3.00 0 1 0 6.00 0a3.00 3.00 0 1 0 -6.00 0zM218.2 81.9a3.00 3.00 0 1 0 6.00 0a3.00 3.00 0 1 0 -6.00 0zM219.1 81.7a3.00 3.00 0 1 0 6.00 0a3.00 3.00 0 1 0 -6.00 0zM219.7 83.0a3.00 3.00 0 1 0 6.00 0a3.00 3.00 0 1 0 -6.00 0zM220.5 79.9a3.00 3.00 0 1 0 6.00 0a3.00 3.00 0 1 0 -6.00 0zM221.4 84.1a3.00 3.00 0 1 0 6.00 0a3.00 3.00 0 1 0 -6.00 0zM221.6 79.1a3.00 3.00 0 1 0 6.00 0a3.00 3.00 0 1 0 -6.00 0zM222.5 82.4a3.00 3.00 0 1 0 6.00 0a3.00 3.00 0 1 0 -6.00 0zM222.9 85.6a3.00 3.00 0 1 0 6.00 0a3.00 3.00 0 1 0 -6.00 0zM224.1 84.2a3.00 3.00 0 1 0 6.00 0a3.00 3.00 0 1 0 -6.00 0zM224.5 83.0a3.00 3.00 0 1 0 6.00 0a3.00 3.00 0 1 0 -6.00 0zM224.8 81.5a3.00 3.00 0 1 0 6.00 0a3.00 3.00 0 1 0 -6.00 0zM225.6 83.4a3.00 3.00 0 1 0 6.00 0a3.00 3.00 0 1 0 -6.00 0zM226.2 83.6a3.00 3.00 0 1 0 6.00 0a3.00 3.00 0 1 0 -6.00 0zM226.8 85.6a3.00 3.00 0 1 0 6.00 0a3.00 3.00 0 1 0 -6.00 0zM227.6 85.1a3.00 3.00 0 1 0 6.00 0a3.00 3.00 0 1 0 -6.00 0zM228.7 83.9a3.00 3.00 0 1 0 6.00 0a3.00 3.00 0 1 0 -6.00 0zM229.1 82.9a3.00 3.00 0 1 0 6.00 0a3.00 3.00 0 1 0 -6.00 0zM229.6 90.0a3.00 3.00 0 1 0 6.00 0a3.00 3.00 0 1 0 -6.00 0zM230.4 87.4a3.00 3.00 0 1 0 6.00 0a3.00 3.00 0 1 0 -6.00 0zM230.9 84.4a3.00 3.00 0 1 0 6.00 0a3.00 3.00 0 1 0 -6.00 0zM232.0 86.7a3.00 3.00 0 1 0 6.00 0a3.00 3.00 0 1 0 -6.00 0zM232.1 89.7a3.00 3.00 0 1 0 6.00 0a3.00 3.00 0 1 0 -6.00 0zM232.9 87.1a3.00 3.00 0 1 0 6.00 0a3.00 3.00 0 1 0 -6.00 0zM233.6 92.3a3.00 3.00 0 1 0 6.00 0a3.00 3.00 0 1 0 -6.00 0zM234.2 90.3a3.00 3.00 0 1 0 6.00 0a3.00 3.00 0 1 0 -6.00 0zM235.3 92.5a3.00 3.00 0 1 0 6.00 0a3.00 3.00 0 1 0 -6.00 0zM235.5 92.3a3.00 3.00 0 1 0 6.00 0a3.00 3.00 0 1 0 -6.00 0zM236.3 88.3a3.00 3.00 0 1 0 6.00 0a3.00 3.00 0 1 0 -6.00 0zM236.8 94.7a3.00 3.00 0 1 0 6.00 0a3.00 3.00 0 1 0 -6.00 0zM238.0 96.0a3.00 3.00 0 1 0 6.00 0a3.00 3.00 0 1 0 -6.00 0zM238.4 90.7a3.00 3.00 0 1 0 6.00 0a3.00 3.00 0 1 0 -6.00 0zM239.3 94.6a3.00 3.00 0 1 0 6.00 0a3.00 3.00 0 1 0 -6.00 0zM239.6 94.1a3.00 3.00 0 1 0 6.00 0a3.00 3.00 0 1 0 -6.00 0zM240.1 93.7a3.00 3.00 0 1 0 6.00 0a3.00 3.00 0 1 0 -6.00 0zM241.0 94.9a3.00 3.00 0 1 0 6.00 0a3.00 3.00 0 1 0 -6.00 0zM242.0 94.4a3.00 3.00 0 1 0 6.00 0a3.00 3.00 0 1 0 -6.00 0zM242.7 97.9a3.00 3.00 0 1 0 6.00 0a3.00 3.00 0 1 0 -6.00 0zM243.0 95.9a3.00 3.00 0 1 0 6.00 0a3.00 3.00 0 1 0 -6.00 0zM244.1 95.1a3.00 3.00 0 1 0 6.00 0a3.00 3.00 0 1 0 -6.00 0zM244.1 95.3a3.00 3.00 0 1 0 6.00 0a3.00 3.00 0 1 0 -6.00 0zM245.2 96.4a3.00 3.00 0 1 0 6.00 0a3.00 3.00 0 1 0 -6.00 0zM245.6 100.6a3.00 3.00 0 1 0 6.00 0a3.00 3.00 0 1 0 -6.00 0zM246.4 100.5a3.00 3.00 0 1 0 6.00 0a3.00 3.00 0 1 0 -6.00 0zM246.9 100.2a3.00 3.00 0 1 0 6.00 0a3.00 3.00 0 1 0 -6.00 0zM248.1 101.8a3.00 3.00 0 1 0 6.00 0a3.00 3.00 0 1 0 -6.00 0zM248.3 102.9a3.00 3.00 0 1 0 6.00 0a3.00 3.00 0 1 0 -6.00 0zM249.5 100.7a3.00 3.00 0 1 0 6.00 0a3.00 3.00 0 1 0 -6.00 0zM249.5 99.3a3.00 3.00 0 1 0 6.00 0a3.00 3.00 0 1 0 -6.00 0zM250.4 107.1a3.00 3.00 0 1 0 6.00 0a3.00 3.00 0 1 0 -6.00 0zM251.1 102.1a3.00 3.00 0 1 0 6.00 0a3.00 3.00 0 1 0 -6.00 0zM252.0 103.2a3.00 3.00 0 1 0 6.00 0a3.00 3.00 0 1 0 -6.00 0zM252.4 107.0a3.00 3.00 0 1 0 6.00 0a3.00 3.00 0 1 0 -6.00 0zM253.2 110.1a3.00 3.00 0 1 0 6.00 0a3.00 3.00 0 1 0 -6.00 0zM253.5 103.7a3.00 3.00 0 1 0 6.00 0a3.00 3.00 0 1 0 -6.00 0zM254.4 107.6a3.00 3.00 0 1 0 6.00 0a3.00 3.00 0 1 0 -6.00 0zM255.4 111.7a3.00 3.00 0 1 0 6.00 0a3.00 3.00 0 1 0 -6.00 0zM255.5 105.6a3.00 3.00 0 1 0 6.00 0a3.00 3.00 0 1 0 -6.00 0zM256.5 107.9a3.00 3.00 0 1 0 6.00 0a3.00 3.00 0 1 0 -6.00 0zM257.0 111.3a3.00 3.00 0 1 0 6.00 0a3.00 3.00 0 1 0 -6.00 0zM257.6 113.5a3.00 3.00 0 1 0 6.00 0a3.00 3.00 0 1 0 -6.00 0zM258.2 109.1a3.00 3.00 0 1 0 6.00 0a3.00 3.00 0 1 0 -6.00 0zM259.4 112.9a3.00 3.00 0 1 0 6.00 0a3.00 3.00 0 1 0 -6.00 0zM260.0 114.5a3.00 3.00 0 1 0 6.00 0a3.00 3.00 0 1 0 -6.00 0zM260.4 114.5a3.00 3.00 0 1 0 6.00 0a3.00 3.00 0 1 0 -6.00 0zM261.1 115.5a3.00 3.00 0 1 0 6.00 0a3.00 3.00 0 1 0 -6.00 0zM262.0 119.9a3.00 3.00 0 1 0 6.00 0a3.00 3.00 0 1 0 -6.00 0zM262.6 120.1a3.00 3.00 0 1 0 6.00 0a3.00 3.00 0 1 0 -6.00 0zM263.5 115.2a3.00 3.00 0 1 0 6.00 0a3.00 3.00 0 1 0 -6.00 0zM264.2 116.0a3.00 3.00 0 1 0 6.00 0a3.00 3.00 0 1 0 -6.00 0zM264.5 117.4a3.00 3.00 0 1 0 6.00 0a3.00 3.00 0 1 0 -6.00 0zM265.3 115.8a3.00 3.00 0 1 0 6.00 0a3.00 3.00 0 1 0 -6.00 0zM265.9 116.0a3.00 3.00 0 1 0 6.00 0a3.00 3.00 0 1 0 -6.00 0zM266.4 120.3a3.00 3.00 0 1 0 6.00 0a3.00 3.00 0 1 0 -6.00 0zM267.2 123.1a3.00 3.00 0 1 0 6.00 0a3.00 3.00 0 1 0 -6.00 0zM268.0 118.2a3.00 3.00 0 1 0 6.00 0a3.00 3.00 0 1 0 -6.00 0zM268.6 117.5a3.00 3.00 0 1 0 6.00 0a3.00 3.00 0 1 0 -6.00 0zM269.3 120.6a3.00 3.00 0 1 0 6.00 0a3.00 3.00 0 1 0 -6.00 0zM269.9 118.3a3.00 3.00 0 1 0 6.00 0a3.00 3.00 0 1 0 -6.00 0zM270.9 115.5a3.00 3.00 0 1 0 6.00 0a3.00 3.00 0 1 0 -6.00 0zM271.4 116.1a3.00 3.00 0 1 0 6.00 0a3.00 3.00 0 1 0 -6.00 0zM271.6 122.8a3.00 3.00 0 1 0 6.00 0a3.00 3.00 0 1 0 -6.00 0zM272.8 116.6a3.00 3.00 0 1 0 6.00 0a3.00 3.00 0 1 0 -6.00 0zM273.6 121.4a3.00 3.00 0 1 0 6.00 0a3.00 3.00 0 1 0 -6.00 0zM274.1 119.4a3.00 3.00 0 1 0 6.00 0a3.00 3.00 0 1 0 -6.00 0zM274.4 122.5a3.00 3.00 0 1 0 6.00 0a3.00 3.00 0 1 0 -6.00 0zM275.1 120.3a3.00 3.00 0 1 0 6.00 0a3.00 3.00 0 1 0 -6.00 0zM275.7 118.1a3.00 3.00 0 1 0 6.00 0a3.00 3.00 0 1 0 -6.00 0zM276.2 117.9a3.00 3.00 0 1 0 6.00 0a3.00 3.00 0 1 0 -6.00 0zM277.2 118.1a3.00 3.00 0 1 0 6.00 0a3.00 3.00 0 1 0 -6.00 0zM278.2 118.1a3.00 3.00 0 1 0 6.00 0a3.00 3.00 0 1 0 -6.00 0zM278.8 119.2a3.00 3.00 0 1 0 6.00 0a3.00 3.00 0 1 0 -6.00 0zM279.4 118.3a3.00 3.00 0 1 0 6.00 0a3.00 3.00 0 1 0 -6.00 0zM280.2 121.3a3.00 3.00 0 1 0 6.00 0a3.00 3.00 0 1 0 -6.00 0zM280.7 121.3a3.00 3.00 0 1 0 6.00 0a3.00 3.00 0 1 0 -6.00 0zM281.0 117.4a3.00 3.00 0 1 0 6.00 0a3.00 3.00 0 1 0 -6.00 0zM282.1 120.7a3.00 3.00 0 1 0 6.00 0a3.00 3.00 0 1 0 -6.00 0zM282.5 124.5a3.00 3.00 0 1 0 6.00 0a3.00 3.00 0 1 0 -6.00 0zM283.6 124.1a3.00 3.00 0 1 0 6.00 0a3.00 3.00 0 1 0 -6.00 0zM283.8 119.5a3.00 3.00 0 1 0 6.00 0a3.00 3.00 0 1 0 -6.00 0zM284.3 117.8a3.00 3.00 0 1 0 6.00 0a3.00 3.00 0 1 0 -6.00 0zM285.4 119.8a3.00 3.00 0 1 0 6.00 0a3.00 3.00 0 1 0 -6.00 0zM285.6 118.7a3.00 3.00 0 1 0 6.00 0a3.00 3.00 0 1 0 -6.00 0zM286.9 119.1a3.00 3.00 0 1 0 6.00 0a3.00 3.00 0 1 0 -6.00 0zM287.2 124.8a3.00 3.00 0 1 0 6.00 0a3.00 3.00 0 1 0 -6.00 0zM288.1 124.1a3.00 3.00 0 1 0 6.00 0a3.00 3.00 0 1 0 -6.00 0zM288.2 120.3a3.00 3.00 0 1 0 6.00 0a3.00 3.00 0 1 0 -6.00 0zM289.3 121.4a3.00 3.00 0 1 0 6.00 0a3.00 3.00 0 1 0 -6.00 0zM290.1 122.2a3.00 3.00 0 1 0 6.00 0a3.00 3.00 0 1 0 -6.00 0zM290.3 122.6a3.00 3.00 0 1 0 6.00 0a3.00 3.00 0 1 0 -6.00 0zM291.4 122.7a3.00 3.00 0 1 0 6.00 0a3.00 3.00 0 1 0 -6.00 0zM291.6 123.3a3.00 3.00 0 1 0 6.00 0a3.00 3.00 0 1 0 -6.00 0zM292.4 122.3a3.00 3.00 0 1 0 6.00 0a3.00 3.00 0 1 0 -6.00 0zM293.2 118.0a3.00 3.00 0 1 0 6.00 0a3.00 3.00 0 1 0 -6.00 0zM294.0 122.6a3.00 3.00 0 1 0 6.00 0a3.00 3.00 0 1 0 -6.00 0zM294.3 122.5a3.00 3.00 0 1 0 6.00 0a3.00 3.00 0 1 0 -6.00 0zM295.0 118.5a3.00 3.00 0 1 0 6.00 0a3.00 3.00 0 1 0 -6.00 0zM296.2 117.6a3.00 3.00 0 1 0 6.00 0a3.00 3.00 0 1 0 -6.00 0zM296.8 121.8a3.00 3.00 0 1 0 6.00 0a3.00 3.00 0 1 0 -6.00 0zM297.2 120.3a3.00 3.00 0 1 0 6.00 0a3.00 3.00 0 1 0 -6.00 0zM297.8 123.1a3.00 3.00 0 1 0 6.00 0a3.00 3.00 0 1 0 -6.00 0zM298.8 119.3a3.00 3.00 0 1 0 6.00 0a3.00 3.00 0 1 0 -6.00 0zM299.3 122.6a3.00 3.00 0 1 0 6.00 0a3.00 3.00 0 1 0 -6.00 0zM299.8 121.2a3.00 3.00 0 1 0 6.00 0a3.00 3.00 0 1 0 -6.00 0zM300.9 117.7a3.00 3.00 0 1 0 6.00 0a3.00 3.00 0 1 0 -6.00 0zM301.1 119.2a3.00 3.00 0 1 0 6.00 0a3.00 3.00 0 1 0 -6.00 0zM302.2 119.7a3.00 3.00 0 1 0 6.00 0a3.00 3.00 0 1 0 -6.00 0zM302.7 118.8a3.00 3.00 0 1 0 6.00 0a3.00 3.00 0 1 0 -6.00 0zM303.4 117.7a3.00 3.00 0 1 0 6.00 0a3.00 3.00 0 1 0 -6.00 0zM304.1 118.6a3.00 3.00 0 1 0 6.00 0a3.00 3.00 0 1 0 -6.00 0zM304.8 121.5a3.00 3.00 0 1 0 6.00 0a3.00 3.00 0 1 0 -6.00 0zM305.6 118.8a3.00 3.00 0 1 0 6.00 0a3.00 3.00 0 1 0 -6.00 0zM306.3 121.8a3.00 3.00 0 1 0 6.00 0a3.00 3.00 0 1 0 -6.00 0zM306.4 120.3a3.00 3.00 0 1 0 6.00 0a3.00 3.00 0 1 0 -6.00 0zM307.0 120.3a3.00 3.00 0 1 0 6.00 0a3.00 3.00 0 1 0 -6.00 0zM308.3 118.4a3.00 3.00 0 1 0 6.00 0a3.00 3.00 0 1 0 -6.00 0zM308.4 122.8a3.00 3.00 0 1 0 6.00 0a3.00 3.00 0 1 0 -6.00 0zM309.1 117.7a3.00 3.00 0 1 0 6.00 0a3.00 3.00 0 1 0 -6.00 0zM310.2 125.4a3.00 3.00 0 1 0 6.00 0a3.00 3.00 0 1 0 -6.00 0zM311.0 122.7a3.00 3.00 0 1 0 6.00 0a3.00 3.00 0 1 0 -6.00 0zM311.6 125.7a3.00 3.00 0 1 0 6.00 0a3.00 3.00 0 1 0 -6.00 0zM312.0 122.6a3.00 3.00 0 1 0 6.00 0a3.00 3.00 0 1 0 -6.00 0zM312.6 121.3a3.00 3.00 0 1 0 6.00 0a3.00 3.00 0 1 0 -6.00 0zM313.7 122.8a3.00 3.00 0 1 0 6.00 0a3.00 3.00 0 1 0 -6.00 0zM314.2 127.0a3.00 3.00 0 1 0 6.00 0a3.00 3.00 0 1 0 -6.00 0zM314.8 125.8a3.00 3.00 0 1 0 6.00 0a3.00 3.00 0 1 0 -6.00 0zM314.9 124.3a3.00 3.00 0 1 0 6.00 0a3.00 3.00 0 1 0 -6.00 0zM315.8 124.6a3.00 3.00 0 1 0 6.00 0a3.00 3.00 0 1 0 -6.00 0zM316.3 125.2a3.00 3.00 0 1 0 6.00 0a3.00 3.00 0 1 0 -6.00 0zM317.7 129.6a3.00 3.00 0 1 0 6.00 0a3.00 3.00 0 1 0 -6.00 0zM317.8 130.6a3.00 3.00 0 1 0 6.00 0a3.00 3.00 0 1 0 -6.00 0zM285.0 114.5a3.00 3.00 0 1 0 6.00 0a3.00 3.00 0 1 0 -6.00 0zM307.0 114.5a3.00 3.00 0 1 0 6.00 0a3.00 3.00 0 1 0 -6.00 0z" fill="#000"/>
<path d="M300.5 131.5l3.2 3.2-3.2 3.2-3.2-3.2z" fill="#000"/>
</g>
<path d="M88 18.3h26.5" stroke="#00ff00" stroke-width="2"/><path d="M101.3 16l2.3 2.3-2.3 2.3-2.3-2.3z" fill="#00ff00"/>
<path d="M88 33.3h26.5" stroke="#000" stroke-width="2"/><circle cx="101.3" cy="33.3" r="2.6" fill="#000"/>
<text x="118.2" y="22.3" font-size="10" text-anchor="start" letter-spacing="0.82" fill="#1c1c1c" stroke="#1c1c1c" stroke-width="0.12" font-family='"Liberation Sans", sans-serif' >out of plane (ZFC)</text>
<text x="118.2" y="37.3" font-size="10" text-anchor="start" letter-spacing="0.82" fill="#1c1c1c" stroke="#1c1c1c" stroke-width="0.12" font-family='"Liberation Sans", sans-serif' >out of plane (FC)</text>
<text x="302.3" y="28.7" font-size="20.5" text-anchor="middle" letter-spacing="1.4" fill="#111" stroke="#111" stroke-width="0.12" font-family='"Liberation Sans", sans-serif' >(a)</text>
<text x="59.0" y="25.0" font-size="8.8" text-anchor="end" fill="#2a2a2a" font-family='"Liberation Sans", sans-serif'><tspan letter-spacing="0.4">7.2x1</tspan><tspan>0</tspan><tspan font-size="5.4" dy="-4.2">-6</tspan></text>
<text x="59.0" y="81.0" font-size="8.8" text-anchor="end" fill="#2a2a2a" font-family='"Liberation Sans", sans-serif'><tspan letter-spacing="0.4">6.9x1</tspan><tspan>0</tspan><tspan font-size="5.4" dy="-4.2">-6</tspan></text>
<text x="59.0" y="137.0" font-size="8.8" text-anchor="end" fill="#2a2a2a" font-family='"Liberation Sans", sans-serif'><tspan letter-spacing="0.4">6.6x1</tspan><tspan>0</tspan><tspan font-size="5.4" dy="-4.2">-6</tspan></text>
<text x="59.0" y="193.0" font-size="8.8" text-anchor="end" fill="#2a2a2a" font-family='"Liberation Sans", sans-serif'><tspan letter-spacing="0.4">6.3x1</tspan><tspan>0</tspan><tspan font-size="5.4" dy="-4.2">-6</tspan></text>
<text x="65.0" y="221.6" font-size="9" text-anchor="middle" letter-spacing="1.1" fill="#1c1c1c" stroke="#1c1c1c" stroke-width="0.12" font-family='"Liberation Sans", sans-serif' >50</text>
<text x="108.0" y="221.6" font-size="9" text-anchor="middle" letter-spacing="1.1" fill="#1c1c1c" stroke="#1c1c1c" stroke-width="0.12" font-family='"Liberation Sans", sans-serif' >100</text>
<text x="151.0" y="221.6" font-size="9" text-anchor="middle" letter-spacing="1.1" fill="#1c1c1c" stroke="#1c1c1c" stroke-width="0.12" font-family='"Liberation Sans", sans-serif' >150</text>
<text x="194.0" y="221.6" font-size="9" text-anchor="middle" letter-spacing="1.1" fill="#1c1c1c" stroke="#1c1c1c" stroke-width="0.12" font-family='"Liberation Sans", sans-serif' >200</text>
<text x="237.0" y="221.6" font-size="9" text-anchor="middle" letter-spacing="1.1" fill="#1c1c1c" stroke="#1c1c1c" stroke-width="0.12" font-family='"Liberation Sans", sans-serif' >250</text>
<text x="280.0" y="221.6" font-size="9" text-anchor="middle" letter-spacing="1.1" fill="#1c1c1c" stroke="#1c1c1c" stroke-width="0.12" font-family='"Liberation Sans", sans-serif' >300</text>
<text x="323.0" y="221.6" font-size="9" text-anchor="middle" letter-spacing="1.1" fill="#1c1c1c" stroke="#1c1c1c" stroke-width="0.12" font-family='"Liberation Sans", sans-serif' >350</text>
<text x="193.3" y="240.6" font-size="11.4" text-anchor="middle" letter-spacing="0.85" fill="#1c1c1c" stroke="#1c1c1c" stroke-width="0.12" font-family='"Liberation Sans", sans-serif' >Temperature (K)</text>
<text x="0.0" y="0.0" font-size="13.4" text-anchor="middle" letter-spacing="0" fill="#1c1c1c" stroke="#1c1c1c" stroke-width="0.12" font-family='"Liberation Sans", sans-serif' textLength="114.6" lengthAdjust="spacingAndGlyphs" transform="translate(14.7 114.5) rotate(-90)">Magnetization (emu)</text>
<rect x="396" y="2" width="257" height="207" fill="none" stroke="#000" stroke-width="2" stroke-linejoin="round"/><path d="M438.8 209v-4.2M438.8 2v4.2M481.7 209v-4.2M481.7 2v4.2M524.5 209v-4.2M524.5 2v4.2M567.3 209v-4.2M567.3 2v4.2M610.2 209v-4.2M610.2 2v4.2M417.4 209v-2.6M417.4 2v2.6M460.2 209v-2.6M460.2 2v2.6M503.1 209v-2.6M503.1 2v2.6M545.9 209v-2.6M545.9 2v2.6M588.8 209v-2.6M588.8 2v2.6M631.6 209v-2.6M631.6 2v2.6M396 23.5h4.2M653 23.5h-4.2M396 54.4h4.2M653 54.4h-4.2M396 85.3h4.2M653 85.3h-4.2M396 116.2h4.2M653 116.2h-4.2M396 147.1h4.2M653 147.1h-4.2M396 178.0h4.2M653 178.0h-4.2M396 8.1h2.6M653 8.1h-2.6M396 39.0h2.6M653 39.0h-2.6M396 69.9h2.6M653 69.9h-2.6M396 100.8h2.6M653 100.8h-2.6M396 131.7h2.6M653 131.7h-2.6M396 162.6h2.6M653 162.6h-2.6M396 193.5h2.6M653 193.5h-2.6" stroke="#000" stroke-width="1.9" fill="none"/>
<clipPath id="cb"><rect x="397" y="3" width="255" height="205"/></clipPath><g clip-path="url(#cb)">
<polyline points="395.0,30.3 396.5,30.4 398.0,31.3 399.5,32.2 401.0,33.1 402.6,33.9 404.1,34.8 405.6,35.6 407.1,36.6 408.6,37.5 410.1,38.5 411.6,39.5 413.1,40.5 414.7,41.6 416.2,42.7 417.7,44.0 419.2,45.3 420.7,46.7 422.2,48.1 423.7,49.5 425.2,50.7 426.7,51.6 428.3,52.5 429.8,53.4 431.3,54.1 432.8,54.8 434.3,55.4 435.8,55.9 437.3,56.4 438.8,56.8 440.4,57.2 441.9,57.5 443.4,57.8 444.9,58.0 446.4,58.3 447.9,58.4 449.4,58.6 450.9,58.7 452.4,58.9 454.0,59.0 455.5,59.1 457.0,59.3 458.5,59.5 460.0,59.6 461.5,59.8 463.0,60.0 464.5,60.2 466.1,60.5 467.6,60.8 469.1,61.1 470.6,61.5 472.1,61.9 473.6,62.3 475.1,62.6 476.6,63.0 478.1,63.4 479.7,63.8 481.2,64.2 482.7,64.6 484.2,64.9 485.7,65.2 487.2,65.4 488.7,65.6 490.2,65.8 491.8,66.0 493.3,66.2 494.8,66.4 496.3,66.6 497.8,66.8 499.3,67.1 500.8,67.3 502.3,67.5 503.8,67.7 505.4,68.0 506.9,68.3 508.4,68.6 509.9,68.9 511.4,69.2 512.9,69.6 514.4,69.9 515.9,70.3 517.5,70.6 519.0,71.0 520.5,71.4 522.0,71.8 523.5,72.2 525.0,72.6 526.5,73.0 528.0,73.4 529.5,73.8 531.1,74.2 532.6,74.6 534.1,75.1 535.6,75.6 537.1,76.1 538.6,76.6 540.1,77.1 541.6,77.7 543.2,78.3 544.7,78.9 546.2,79.5 547.7,80.2 549.2,80.9 550.7,81.7 552.2,82.5 553.7,83.3 555.2,84.0 556.8,84.6 558.3,85.2 559.8,85.8 561.3,86.4 562.8,87.0 564.3,87.7 565.8,88.6 567.3,89.6 568.9,90.7 570.4,92.0 571.9,93.3 573.4,94.7 574.9,96.1 576.4,97.6 577.9,99.3 579.4,100.9 580.9,102.4 582.5,103.9 584.0,105.3 585.5,106.7 587.0,108.0 588.5,109.3 590.0,110.7 591.5,112.1 593.0,113.5 594.6,114.7 596.1,115.9 597.6,116.9 599.1,117.8 600.6,118.6 602.1,119.3 603.6,120.0 605.1,120.6 606.6,121.2 608.2,121.8 609.7,122.3 611.2,122.9 612.7,123.4 614.2,123.8 615.7,124.3 617.2,124.6 618.7,124.9 620.3,125.2 621.8,125.4 623.3,125.6 624.8,125.8 626.3,126.0 627.8,126.2 629.3,126.4 630.8,126.6 632.3,126.9 633.9,127.1 635.4,127.4 636.9,127.6 638.4,127.9 639.9,128.1 641.4,128.3 642.9,128.6 644.4,128.9 646.0,129.2 647.5,129.6 649.0,130.0 650.5,130.4 652.0,130.8" fill="none" stroke="#ff00ff" stroke-width="3.9" stroke-linejoin="round"/><path d="M481.0 64.2L481.0 76.0M606.0 120.9L606.0 132.5M623.0 125.6L623.0 136.0M642.0 128.4L642.0 134.5" stroke="#ff00ff" stroke-width="1.8"/><path d="M392.7 25.9h4.6v4.6h-4.6zM393.3 27.0h4.6v4.6h-4.6zM394.5 26.9h4.6v4.6h-4.6zM395.1 27.2h4.6v4.6h-4.6zM395.5 29.8h4.6v4.6h-4.6zM396.5 29.6h4.6v4.6h-4.6zM397.3 31.5h4.6v4.6h-4.6zM397.8 31.1h4.6v4.6h-4.6zM399.1 30.0h4.6v4.6h-4.6zM399.3 30.3h4.6v4.6h-4.6zM400.3 30.6h4.6v4.6h-4.6zM401.2 31.4h4.6v4.6h-4.6zM401.9 33.4h4.6v4.6h-4.6zM402.8 34.1h4.6v4.6h-4.6zM403.7 32.5h4.6v4.6h-4.6zM404.6 33.0h4.6v4.6h-4.6zM404.9 35.5h4.6v4.6h-4.6zM405.9 36.3h4.6v4.6h-4.6zM406.7 33.5h4.6v4.6h-4.6zM407.2 34.2h4.6v4.6h-4.6zM407.7 37.9h4.6v4.6h-4.6zM409.3 37.5h4.6v4.6h-4.6zM409.5 36.7h4.6v4.6h-4.6zM410.3 38.6h4.6v4.6h-4.6zM411.5 39.6h4.6v4.6h-4.6zM412.1 37.5h4.6v4.6h-4.6zM412.7 41.6h4.6v4.6h-4.6zM413.8 42.7h4.6v4.6h-4.6zM413.9 41.0h4.6v4.6h-4.6zM415.2 41.7h4.6v4.6h-4.6zM415.8 41.8h4.6v4.6h-4.6zM416.3 42.9h4.6v4.6h-4.6zM417.5 42.2h4.6v4.6h-4.6zM418.5 45.1h4.6v4.6h-4.6zM418.7 47.1h4.6v4.6h-4.6zM419.8 45.6h4.6v4.6h-4.6zM420.3 47.7h4.6v4.6h-4.6zM421.4 45.3h4.6v4.6h-4.6zM422.2 49.4h4.6v4.6h-4.6zM422.6 46.7h4.6v4.6h-4.6zM423.8 47.7h4.6v4.6h-4.6zM424.5 50.1h4.6v4.6h-4.6zM425.3 48.5h4.6v4.6h-4.6zM426.1 48.8h4.6v4.6h-4.6zM426.6 49.1h4.6v4.6h-4.6zM427.6 52.6h4.6v4.6h-4.6zM428.5 49.6h4.6v4.6h-4.6zM428.7 49.3h4.6v4.6h-4.6zM430.0 54.9h4.6v4.6h-4.6zM430.4 53.7h4.6v4.6h-4.6zM431.3 52.2h4.6v4.6h-4.6zM431.8 51.9h4.6v4.6h-4.6zM433.0 54.3h4.6v4.6h-4.6zM433.4 54.9h4.6v4.6h-4.6zM434.7 54.7h4.6v4.6h-4.6zM435.0 54.3h4.6v4.6h-4.6zM436.0 54.9h4.6v4.6h-4.6zM436.6 56.8h4.6v4.6h-4.6zM437.6 54.2h4.6v4.6h-4.6zM438.0 52.9h4.6v4.6h-4.6zM438.8 53.2h4.6v4.6h-4.6zM440.0 55.7h4.6v4.6h-4.6zM440.8 56.0h4.6v4.6h-4.6zM441.4 55.5h4.6v4.6h-4.6zM442.4 57.0h4.6v4.6h-4.6zM442.6 55.0h4.6v4.6h-4.6zM443.9 55.4h4.6v4.6h-4.6zM444.1 54.3h4.6v4.6h-4.6zM445.6 56.2h4.6v4.6h-4.6zM446.1 54.1h4.6v4.6h-4.6zM446.8 57.6h4.6v4.6h-4.6zM447.9 55.5h4.6v4.6h-4.6zM448.5 55.1h4.6v4.6h-4.6zM449.3 57.5h4.6v4.6h-4.6zM449.5 55.6h4.6v4.6h-4.6zM450.5 56.4h4.6v4.6h-4.6zM451.0 58.3h4.6v4.6h-4.6zM451.9 58.5h4.6v4.6h-4.6zM452.7 55.6h4.6v4.6h-4.6zM454.0 55.0h4.6v4.6h-4.6zM454.1 57.2h4.6v4.6h-4.6zM455.1 56.9h4.6v4.6h-4.6zM456.0 56.2h4.6v4.6h-4.6zM457.0 57.7h4.6v4.6h-4.6zM457.9 58.0h4.6v4.6h-4.6zM458.5 59.0h4.6v4.6h-4.6zM458.8 56.7h4.6v4.6h-4.6zM459.9 58.1h4.6v4.6h-4.6zM460.8 55.6h4.6v4.6h-4.6zM461.0 55.7h4.6v4.6h-4.6zM462.3 55.9h4.6v4.6h-4.6zM462.8 56.6h4.6v4.6h-4.6zM463.8 59.3h4.6v4.6h-4.6zM464.6 57.9h4.6v4.6h-4.6zM465.4 58.4h4.6v4.6h-4.6zM466.0 58.1h4.6v4.6h-4.6zM466.8 57.8h4.6v4.6h-4.6zM467.3 56.6h4.6v4.6h-4.6zM468.3 57.8h4.6v4.6h-4.6zM468.8 61.4h4.6v4.6h-4.6zM469.9 58.5h4.6v4.6h-4.6zM470.7 59.4h4.6v4.6h-4.6zM471.6 58.4h4.6v4.6h-4.6zM472.1 61.0h4.6v4.6h-4.6zM472.6 60.6h4.6v4.6h-4.6zM473.8 59.9h4.6v4.6h-4.6zM474.3 60.5h4.6v4.6h-4.6zM475.5 60.6h4.6v4.6h-4.6zM476.0 62.0h4.6v4.6h-4.6zM476.7 61.9h4.6v4.6h-4.6zM477.9 62.2h4.6v4.6h-4.6zM478.3 63.5h4.6v4.6h-4.6zM479.0 63.8h4.6v4.6h-4.6zM479.8 59.9h4.6v4.6h-4.6zM480.7 61.2h4.6v4.6h-4.6zM481.1 60.4h4.6v4.6h-4.6zM482.3 62.7h4.6v4.6h-4.6zM483.3 64.4h4.6v4.6h-4.6zM483.8 63.6h4.6v4.6h-4.6zM484.7 64.0h4.6v4.6h-4.6zM485.7 61.3h4.6v4.6h-4.6zM486.4 64.5h4.6v4.6h-4.6zM487.1 63.5h4.6v4.6h-4.6zM487.9 62.3h4.6v4.6h-4.6zM488.7 64.8h4.6v4.6h-4.6zM489.0 62.3h4.6v4.6h-4.6zM489.9 62.3h4.6v4.6h-4.6zM490.6 64.8h4.6v4.6h-4.6zM491.3 61.8h4.6v4.6h-4.6zM492.3 62.4h4.6v4.6h-4.6zM492.9 63.6h4.6v4.6h-4.6zM493.9 65.3h4.6v4.6h-4.6zM494.6 65.1h4.6v4.6h-4.6zM495.0 62.6h4.6v4.6h-4.6zM496.1 63.8h4.6v4.6h-4.6zM496.8 65.2h4.6v4.6h-4.6zM497.8 63.6h4.6v4.6h-4.6zM498.1 64.0h4.6v4.6h-4.6zM498.9 63.2h4.6v4.6h-4.6zM500.0 63.6h4.6v4.6h-4.6zM500.7 67.3h4.6v4.6h-4.6zM501.7 63.4h4.6v4.6h-4.6zM502.2 66.0h4.6v4.6h-4.6zM502.8 67.6h4.6v4.6h-4.6zM504.2 66.6h4.6v4.6h-4.6zM504.4 65.0h4.6v4.6h-4.6zM505.1 66.8h4.6v4.6h-4.6zM506.0 64.5h4.6v4.6h-4.6zM506.8 65.7h4.6v4.6h-4.6zM507.5 64.4h4.6v4.6h-4.6zM508.5 68.2h4.6v4.6h-4.6zM509.6 68.1h4.6v4.6h-4.6zM509.7 68.3h4.6v4.6h-4.6zM510.7 66.9h4.6v4.6h-4.6zM511.7 69.0h4.6v4.6h-4.6zM512.6 69.8h4.6v4.6h-4.6zM513.5 67.3h4.6v4.6h-4.6zM513.6 68.5h4.6v4.6h-4.6zM514.7 66.3h4.6v4.6h-4.6zM515.7 66.9h4.6v4.6h-4.6zM515.8 69.8h4.6v4.6h-4.6zM517.0 66.8h4.6v4.6h-4.6zM517.5 69.9h4.6v4.6h-4.6zM518.7 67.1h4.6v4.6h-4.6zM519.6 70.6h4.6v4.6h-4.6zM520.1 70.5h4.6v4.6h-4.6zM520.4 71.5h4.6v4.6h-4.6zM521.2 69.0h4.6v4.6h-4.6zM522.3 69.8h4.6v4.6h-4.6zM523.4 69.6h4.6v4.6h-4.6zM523.7 71.6h4.6v4.6h-4.6zM524.8 71.9h4.6v4.6h-4.6zM525.4 69.4h4.6v4.6h-4.6zM526.0 70.9h4.6v4.6h-4.6zM527.2 69.3h4.6v4.6h-4.6zM527.6 70.8h4.6v4.6h-4.6zM528.4 73.2h4.6v4.6h-4.6zM529.5 75.1h4.6v4.6h-4.6zM530.1 74.7h4.6v4.6h-4.6zM531.1 69.8h4.6v4.6h-4.6zM531.6 72.8h4.6v4.6h-4.6zM532.1 74.8h4.6v4.6h-4.6zM533.1 72.9h4.6v4.6h-4.6zM534.2 72.6h4.6v4.6h-4.6zM534.8 74.6h4.6v4.6h-4.6zM535.8 75.9h4.6v4.6h-4.6zM535.9 71.9h4.6v4.6h-4.6zM536.9 75.1h4.6v4.6h-4.6zM538.0 73.3h4.6v4.6h-4.6zM538.7 72.9h4.6v4.6h-4.6zM539.4 75.0h4.6v4.6h-4.6zM540.2 74.2h4.6v4.6h-4.6zM541.2 77.0h4.6v4.6h-4.6zM541.8 75.6h4.6v4.6h-4.6zM542.5 74.9h4.6v4.6h-4.6zM543.2 77.3h4.6v4.6h-4.6zM544.1 75.8h4.6v4.6h-4.6zM544.6 75.4h4.6v4.6h-4.6zM545.6 81.2h4.6v4.6h-4.6zM546.4 77.2h4.6v4.6h-4.6zM547.3 76.9h4.6v4.6h-4.6zM547.8 79.3h4.6v4.6h-4.6zM548.2 76.4h4.6v4.6h-4.6zM549.4 81.7h4.6v4.6h-4.6zM550.4 77.8h4.6v4.6h-4.6zM551.0 78.5h4.6v4.6h-4.6zM551.8 83.3h4.6v4.6h-4.6zM552.4 81.2h4.6v4.6h-4.6zM553.1 84.1h4.6v4.6h-4.6zM554.2 84.6h4.6v4.6h-4.6zM554.4 83.1h4.6v4.6h-4.6zM555.8 80.1h4.6v4.6h-4.6zM556.6 84.0h4.6v4.6h-4.6zM557.5 81.1h4.6v4.6h-4.6zM557.6 80.5h4.6v4.6h-4.6zM558.3 85.8h4.6v4.6h-4.6zM559.7 83.2h4.6v4.6h-4.6zM560.1 86.4h4.6v4.6h-4.6zM560.8 85.2h4.6v4.6h-4.6zM561.6 86.4h4.6v4.6h-4.6zM562.6 85.8h4.6v4.6h-4.6zM563.0 88.6h4.6v4.6h-4.6zM564.0 86.9h4.6v4.6h-4.6zM564.9 89.3h4.6v4.6h-4.6zM565.8 89.9h4.6v4.6h-4.6zM566.0 88.3h4.6v4.6h-4.6zM567.4 88.7h4.6v4.6h-4.6zM567.8 89.4h4.6v4.6h-4.6zM568.6 91.0h4.6v4.6h-4.6zM569.5 89.5h4.6v4.6h-4.6zM570.0 90.6h4.6v4.6h-4.6zM571.3 93.5h4.6v4.6h-4.6zM571.5 91.5h4.6v4.6h-4.6zM572.6 92.5h4.6v4.6h-4.6zM573.0 91.8h4.6v4.6h-4.6zM574.2 96.9h4.6v4.6h-4.6zM575.2 98.4h4.6v4.6h-4.6zM575.9 99.6h4.6v4.6h-4.6zM576.1 98.7h4.6v4.6h-4.6zM577.3 99.1h4.6v4.6h-4.6zM578.2 96.9h4.6v4.6h-4.6zM578.5 101.7h4.6v4.6h-4.6zM579.4 101.2h4.6v4.6h-4.6zM580.4 102.2h4.6v4.6h-4.6zM581.2 100.1h4.6v4.6h-4.6zM581.7 104.7h4.6v4.6h-4.6zM582.7 102.3h4.6v4.6h-4.6zM583.5 107.1h4.6v4.6h-4.6zM584.0 106.5h4.6v4.6h-4.6zM585.0 106.4h4.6v4.6h-4.6zM585.7 107.8h4.6v4.6h-4.6zM586.6 105.9h4.6v4.6h-4.6zM587.2 108.5h4.6v4.6h-4.6zM587.8 106.3h4.6v4.6h-4.6zM588.7 108.6h4.6v4.6h-4.6zM589.8 108.8h4.6v4.6h-4.6zM590.0 109.0h4.6v4.6h-4.6zM590.8 110.3h4.6v4.6h-4.6zM591.4 108.8h4.6v4.6h-4.6zM592.9 110.5h4.6v4.6h-4.6zM593.8 112.4h4.6v4.6h-4.6zM593.9 116.7h4.6v4.6h-4.6zM594.7 115.2h4.6v4.6h-4.6zM595.4 114.9h4.6v4.6h-4.6zM596.5 113.7h4.6v4.6h-4.6zM597.2 113.2h4.6v4.6h-4.6zM598.2 115.9h4.6v4.6h-4.6zM598.5 117.6h4.6v4.6h-4.6zM599.8 118.6h4.6v4.6h-4.6zM600.3 117.2h4.6v4.6h-4.6zM601.3 120.4h4.6v4.6h-4.6zM602.1 120.1h4.6v4.6h-4.6zM603.0 120.3h4.6v4.6h-4.6zM603.4 117.4h4.6v4.6h-4.6zM604.3 118.9h4.6v4.6h-4.6zM605.0 116.7h4.6v4.6h-4.6zM605.5 118.7h4.6v4.6h-4.6zM606.5 116.9h4.6v4.6h-4.6zM607.6 119.6h4.6v4.6h-4.6zM608.4 119.1h4.6v4.6h-4.6zM608.4 120.3h4.6v4.6h-4.6zM609.7 118.7h4.6v4.6h-4.6zM610.2 117.8h4.6v4.6h-4.6zM610.8 121.0h4.6v4.6h-4.6zM611.6 120.8h4.6v4.6h-4.6zM612.9 121.9h4.6v4.6h-4.6zM613.8 120.0h4.6v4.6h-4.6zM614.2 122.2h4.6v4.6h-4.6zM614.9 121.3h4.6v4.6h-4.6zM615.7 120.2h4.6v4.6h-4.6zM616.8 122.7h4.6v4.6h-4.6zM617.5 124.4h4.6v4.6h-4.6zM617.7 121.2h4.6v4.6h-4.6zM618.6 125.1h4.6v4.6h-4.6zM619.9 124.8h4.6v4.6h-4.6zM620.4 121.0h4.6v4.6h-4.6zM621.3 121.5h4.6v4.6h-4.6zM622.1 122.4h4.6v4.6h-4.6zM622.8 124.1h4.6v4.6h-4.6zM623.6 123.6h4.6v4.6h-4.6zM624.3 124.4h4.6v4.6h-4.6zM624.8 121.6h4.6v4.6h-4.6zM625.5 122.4h4.6v4.6h-4.6zM626.9 122.2h4.6v4.6h-4.6zM626.9 125.7h4.6v4.6h-4.6zM628.2 125.6h4.6v4.6h-4.6zM629.2 123.3h4.6v4.6h-4.6zM629.4 126.5h4.6v4.6h-4.6zM630.0 122.5h4.6v4.6h-4.6zM631.1 121.7h4.6v4.6h-4.6zM631.8 123.7h4.6v4.6h-4.6zM632.7 126.5h4.6v4.6h-4.6zM633.4 127.5h4.6v4.6h-4.6zM634.6 125.4h4.6v4.6h-4.6zM634.7 123.1h4.6v4.6h-4.6zM636.2 126.6h4.6v4.6h-4.6zM636.2 123.5h4.6v4.6h-4.6zM637.7 127.6h4.6v4.6h-4.6zM638.0 125.1h4.6v4.6h-4.6zM639.1 123.6h4.6v4.6h-4.6zM639.3 124.8h4.6v4.6h-4.6zM640.4 128.5h4.6v4.6h-4.6zM641.4 128.4h4.6v4.6h-4.6zM642.1 125.3h4.6v4.6h-4.6zM643.0 129.7h4.6v4.6h-4.6zM643.2 129.0h4.6v4.6h-4.6zM644.2 126.2h4.6v4.6h-4.6zM645.2 124.5h4.6v4.6h-4.6zM645.5 125.2h4.6v4.6h-4.6zM646.9 127.6h4.6v4.6h-4.6zM647.3 126.2h4.6v4.6h-4.6zM648.0 125.9h4.6v4.6h-4.6zM648.7 127.7h4.6v4.6h-4.6zM649.7 130.6h4.6v4.6h-4.6zM478.7 73.7h4.6v4.6h-4.6zM603.7 130.2h4.6v4.6h-4.6zM620.7 133.7h4.6v4.6h-4.6zM639.7 132.2h4.6v4.6h-4.6z" fill="#ff00ff"/>
<polyline points="395.0,18.6 396.5,18.7 398.0,19.7 399.5,20.7 401.0,21.7 402.6,22.6 404.1,23.5 405.6,24.4 407.1,25.4 408.6,26.4 410.1,27.4 411.6,28.5 413.1,29.5 414.7,30.6 416.2,31.6 417.7,32.7 419.2,33.8 420.7,34.9 422.2,36.0 423.7,37.1 425.2,38.0 426.7,38.8 428.3,39.5 429.8,40.2 431.3,40.8 432.8,41.4 434.3,41.9 435.8,42.4 437.3,42.7 438.8,43.0 440.4,43.3 441.9,43.6 443.4,43.9 444.9,44.1 446.4,44.4 447.9,44.6 449.4,44.9 450.9,45.1 452.4,45.4 454.0,45.6 455.5,45.8 457.0,46.0 458.5,46.2 460.0,46.4 461.5,46.5 463.0,46.7 464.5,46.8 466.1,47.0 467.6,47.1 469.1,47.3 470.6,47.4 472.1,47.5 473.6,47.7 475.1,47.8 476.6,48.0 478.1,48.1 479.7,48.3 481.2,48.4 482.7,48.6 484.2,48.7 485.7,48.8 487.2,49.0 488.7,49.1 490.2,49.3 491.8,49.4 493.3,49.6 494.8,49.7 496.3,49.9 497.8,50.2 499.3,50.4 500.8,50.7 502.3,50.9 503.8,51.2 505.4,51.5 506.9,51.7 508.4,52.0 509.9,52.3 511.4,52.6 512.9,52.9 514.4,53.2 515.9,53.4 517.5,53.7 519.0,54.0 520.5,54.3 522.0,54.5 523.5,54.8 525.0,55.1 526.5,55.4 528.0,55.8 529.5,56.1 531.1,56.5 532.6,56.9 534.1,57.3 535.6,57.8 537.1,58.2 538.6,58.8 540.1,59.3 541.6,59.9 543.2,60.5 544.7,61.1 546.2,61.7 547.7,62.3 549.2,63.0 550.7,63.7 552.2,64.4 553.7,65.1 555.2,65.8 556.8,66.5 558.3,67.2 559.8,67.8 561.3,68.5 562.8,69.3 564.3,70.1 565.8,71.0 567.3,72.1 568.9,73.2 570.4,74.5 571.9,75.8 573.4,77.2 574.9,78.5 576.4,79.9 577.9,81.5 579.4,83.0 580.9,84.4 582.5,85.8 584.0,87.1 585.5,88.4 587.0,89.8 588.5,91.2 590.0,92.6 591.5,94.2 593.0,95.7 594.6,97.2 596.1,98.5 597.6,99.6 599.1,100.6 600.6,101.4 602.1,102.2 603.6,102.9 605.1,103.5 606.6,104.1 608.2,104.7 609.7,105.1 611.2,105.6 612.7,106.0 614.2,106.3 615.7,106.8 617.2,107.2 618.7,107.8 620.3,108.5 621.8,109.2 623.3,110.1 624.8,110.9 626.3,111.7 627.8,112.4 629.3,113.1 630.8,113.7 632.3,114.2 633.9,114.8 635.4,115.4 636.9,115.9 638.4,116.6 639.9,117.2 641.4,117.8 642.9,118.5 644.4,119.2 646.0,120.0 647.5,120.9 649.0,121.9 650.5,123.0 652.0,124.1" fill="none" stroke="#ff0000" stroke-width="3.1" stroke-linejoin="round"/><path d="M392.7 19.5a2.70 2.70 0 1 0 5.40 0a2.70 2.70 0 1 0 -5.40 0zM393.1 17.1a2.70 2.70 0 1 0 5.40 0a2.70 2.70 0 1 0 -5.40 0zM394.2 21.1a2.70 2.70 0 1 0 5.40 0a2.70 2.70 0 1 0 -5.40 0zM394.3 19.6a2.70 2.70 0 1 0 5.40 0a2.70 2.70 0 1 0 -5.40 0zM395.5 19.5a2.70 2.70 0 1 0 5.40 0a2.70 2.70 0 1 0 -5.40 0zM396.1 18.8a2.70 2.70 0 1 0 5.40 0a2.70 2.70 0 1 0 -5.40 0zM397.2 20.6a2.70 2.70 0 1 0 5.40 0a2.70 2.70 0 1 0 -5.40 0zM397.4 21.4a2.70 2.70 0 1 0 5.40 0a2.70 2.70 0 1 0 -5.40 0zM398.8 21.6a2.70 2.70 0 1 0 5.40 0a2.70 2.70 0 1 0 -5.40 0zM399.3 22.5a2.70 2.70 0 1 0 5.40 0a2.70 2.70 0 1 0 -5.40 0zM400.3 21.5a2.70 2.70 0 1 0 5.40 0a2.70 2.70 0 1 0 -5.40 0zM400.8 22.3a2.70 2.70 0 1 0 5.40 0a2.70 2.70 0 1 0 -5.40 0zM401.5 22.9a2.70 2.70 0 1 0 5.40 0a2.70 2.70 0 1 0 -5.40 0zM402.6 25.1a2.70 2.70 0 1 0 5.40 0a2.70 2.70 0 1 0 -5.40 0zM403.5 23.4a2.70 2.70 0 1 0 5.40 0a2.70 2.70 0 1 0 -5.40 0zM403.8 24.9a2.70 2.70 0 1 0 5.40 0a2.70 2.70 0 1 0 -5.40 0zM405.0 24.0a2.70 2.70 0 1 0 5.40 0a2.70 2.70 0 1 0 -5.40 0zM405.8 26.7a2.70 2.70 0 1 0 5.40 0a2.70 2.70 0 1 0 -5.40 0zM405.9 26.1a2.70 2.70 0 1 0 5.40 0a2.70 2.70 0 1 0 -5.40 0zM407.1 27.1a2.70 2.70 0 1 0 5.40 0a2.70 2.70 0 1 0 -5.40 0zM407.9 28.8a2.70 2.70 0 1 0 5.40 0a2.70 2.70 0 1 0 -5.40 0zM408.9 27.5a2.70 2.70 0 1 0 5.40 0a2.70 2.70 0 1 0 -5.40 0zM409.4 28.8a2.70 2.70 0 1 0 5.40 0a2.70 2.70 0 1 0 -5.40 0zM409.8 30.6a2.70 2.70 0 1 0 5.40 0a2.70 2.70 0 1 0 -5.40 0zM410.8 30.8a2.70 2.70 0 1 0 5.40 0a2.70 2.70 0 1 0 -5.40 0zM411.6 30.3a2.70 2.70 0 1 0 5.40 0a2.70 2.70 0 1 0 -5.40 0zM412.4 31.3a2.70 2.70 0 1 0 5.40 0a2.70 2.70 0 1 0 -5.40 0zM413.5 33.7a2.70 2.70 0 1 0 5.40 0a2.70 2.70 0 1 0 -5.40 0zM413.8 30.5a2.70 2.70 0 1 0 5.40 0a2.70 2.70 0 1 0 -5.40 0zM414.5 34.5a2.70 2.70 0 1 0 5.40 0a2.70 2.70 0 1 0 -5.40 0zM415.5 33.2a2.70 2.70 0 1 0 5.40 0a2.70 2.70 0 1 0 -5.40 0zM416.3 35.2a2.70 2.70 0 1 0 5.40 0a2.70 2.70 0 1 0 -5.40 0zM417.3 32.7a2.70 2.70 0 1 0 5.40 0a2.70 2.70 0 1 0 -5.40 0zM417.8 34.2a2.70 2.70 0 1 0 5.40 0a2.70 2.70 0 1 0 -5.40 0zM418.4 35.3a2.70 2.70 0 1 0 5.40 0a2.70 2.70 0 1 0 -5.40 0zM419.7 36.2a2.70 2.70 0 1 0 5.40 0a2.70 2.70 0 1 0 -5.40 0zM420.1 38.0a2.70 2.70 0 1 0 5.40 0a2.70 2.70 0 1 0 -5.40 0zM421.0 36.4a2.70 2.70 0 1 0 5.40 0a2.70 2.70 0 1 0 -5.40 0zM421.6 36.8a2.70 2.70 0 1 0 5.40 0a2.70 2.70 0 1 0 -5.40 0zM422.2 38.0a2.70 2.70 0 1 0 5.40 0a2.70 2.70 0 1 0 -5.40 0zM423.3 38.1a2.70 2.70 0 1 0 5.40 0a2.70 2.70 0 1 0 -5.40 0zM424.2 40.0a2.70 2.70 0 1 0 5.40 0a2.70 2.70 0 1 0 -5.40 0zM424.5 37.9a2.70 2.70 0 1 0 5.40 0a2.70 2.70 0 1 0 -5.40 0zM425.5 38.0a2.70 2.70 0 1 0 5.40 0a2.70 2.70 0 1 0 -5.40 0zM426.1 40.0a2.70 2.70 0 1 0 5.40 0a2.70 2.70 0 1 0 -5.40 0zM426.8 38.9a2.70 2.70 0 1 0 5.40 0a2.70 2.70 0 1 0 -5.40 0zM427.6 41.9a2.70 2.70 0 1 0 5.40 0a2.70 2.70 0 1 0 -5.40 0zM428.9 38.5a2.70 2.70 0 1 0 5.40 0a2.70 2.70 0 1 0 -5.40 0zM429.7 41.1a2.70 2.70 0 1 0 5.40 0a2.70 2.70 0 1 0 -5.40 0zM430.0 41.4a2.70 2.70 0 1 0 5.40 0a2.70 2.70 0 1 0 -5.40 0zM431.1 41.7a2.70 2.70 0 1 0 5.40 0a2.70 2.70 0 1 0 -5.40 0zM431.3 40.4a2.70 2.70 0 1 0 5.40 0a2.70 2.70 0 1 0 -5.40 0zM432.8 42.6a2.70 2.70 0 1 0 5.40 0a2.70 2.70 0 1 0 -5.40 0zM433.2 41.6a2.70 2.70 0 1 0 5.40 0a2.70 2.70 0 1 0 -5.40 0zM434.2 41.5a2.70 2.70 0 1 0 5.40 0a2.70 2.70 0 1 0 -5.40 0zM434.6 44.5a2.70 2.70 0 1 0 5.40 0a2.70 2.70 0 1 0 -5.40 0zM435.4 42.0a2.70 2.70 0 1 0 5.40 0a2.70 2.70 0 1 0 -5.40 0zM436.2 41.9a2.70 2.70 0 1 0 5.40 0a2.70 2.70 0 1 0 -5.40 0zM437.4 41.2a2.70 2.70 0 1 0 5.40 0a2.70 2.70 0 1 0 -5.40 0zM437.8 44.6a2.70 2.70 0 1 0 5.40 0a2.70 2.70 0 1 0 -5.40 0zM438.6 45.3a2.70 2.70 0 1 0 5.40 0a2.70 2.70 0 1 0 -5.40 0zM439.7 44.9a2.70 2.70 0 1 0 5.40 0a2.70 2.70 0 1 0 -5.40 0zM440.5 44.4a2.70 2.70 0 1 0 5.40 0a2.70 2.70 0 1 0 -5.40 0zM440.8 42.9a2.70 2.70 0 1 0 5.40 0a2.70 2.70 0 1 0 -5.40 0zM441.5 44.6a2.70 2.70 0 1 0 5.40 0a2.70 2.70 0 1 0 -5.40 0zM442.7 45.3a2.70 2.70 0 1 0 5.40 0a2.70 2.70 0 1 0 -5.40 0zM442.9 43.7a2.70 2.70 0 1 0 5.40 0a2.70 2.70 0 1 0 -5.40 0zM443.9 44.6a2.70 2.70 0 1 0 5.40 0a2.70 2.70 0 1 0 -5.40 0zM445.1 45.2a2.70 2.70 0 1 0 5.40 0a2.70 2.70 0 1 0 -5.40 0zM445.9 44.7a2.70 2.70 0 1 0 5.40 0a2.70 2.70 0 1 0 -5.40 0zM446.1 45.0a2.70 2.70 0 1 0 5.40 0a2.70 2.70 0 1 0 -5.40 0zM446.8 43.2a2.70 2.70 0 1 0 5.40 0a2.70 2.70 0 1 0 -5.40 0zM448.1 44.7a2.70 2.70 0 1 0 5.40 0a2.70 2.70 0 1 0 -5.40 0zM448.7 44.7a2.70 2.70 0 1 0 5.40 0a2.70 2.70 0 1 0 -5.40 0zM449.2 44.8a2.70 2.70 0 1 0 5.40 0a2.70 2.70 0 1 0 -5.40 0zM450.2 47.2a2.70 2.70 0 1 0 5.40 0a2.70 2.70 0 1 0 -5.40 0zM450.6 47.4a2.70 2.70 0 1 0 5.40 0a2.70 2.70 0 1 0 -5.40 0zM451.9 44.2a2.70 2.70 0 1 0 5.40 0a2.70 2.70 0 1 0 -5.40 0zM452.5 45.7a2.70 2.70 0 1 0 5.40 0a2.70 2.70 0 1 0 -5.40 0zM453.4 45.3a2.70 2.70 0 1 0 5.40 0a2.70 2.70 0 1 0 -5.40 0zM453.7 46.6a2.70 2.70 0 1 0 5.40 0a2.70 2.70 0 1 0 -5.40 0zM454.9 48.0a2.70 2.70 0 1 0 5.40 0a2.70 2.70 0 1 0 -5.40 0zM455.5 45.0a2.70 2.70 0 1 0 5.40 0a2.70 2.70 0 1 0 -5.40 0zM456.4 45.3a2.70 2.70 0 1 0 5.40 0a2.70 2.70 0 1 0 -5.40 0zM457.0 46.0a2.70 2.70 0 1 0 5.40 0a2.70 2.70 0 1 0 -5.40 0zM458.0 47.0a2.70 2.70 0 1 0 5.40 0a2.70 2.70 0 1 0 -5.40 0zM458.7 47.2a2.70 2.70 0 1 0 5.40 0a2.70 2.70 0 1 0 -5.40 0zM459.5 45.4a2.70 2.70 0 1 0 5.40 0a2.70 2.70 0 1 0 -5.40 0zM459.9 45.5a2.70 2.70 0 1 0 5.40 0a2.70 2.70 0 1 0 -5.40 0zM460.8 46.4a2.70 2.70 0 1 0 5.40 0a2.70 2.70 0 1 0 -5.40 0zM461.4 48.8a2.70 2.70 0 1 0 5.40 0a2.70 2.70 0 1 0 -5.40 0zM462.4 48.4a2.70 2.70 0 1 0 5.40 0a2.70 2.70 0 1 0 -5.40 0zM463.3 46.8a2.70 2.70 0 1 0 5.40 0a2.70 2.70 0 1 0 -5.40 0zM463.8 48.4a2.70 2.70 0 1 0 5.40 0a2.70 2.70 0 1 0 -5.40 0zM465.0 47.0a2.70 2.70 0 1 0 5.40 0a2.70 2.70 0 1 0 -5.40 0zM465.6 48.1a2.70 2.70 0 1 0 5.40 0a2.70 2.70 0 1 0 -5.40 0zM466.4 45.2a2.70 2.70 0 1 0 5.40 0a2.70 2.70 0 1 0 -5.40 0zM467.2 46.5a2.70 2.70 0 1 0 5.40 0a2.70 2.70 0 1 0 -5.40 0zM468.3 49.0a2.70 2.70 0 1 0 5.40 0a2.70 2.70 0 1 0 -5.40 0zM468.8 48.9a2.70 2.70 0 1 0 5.40 0a2.70 2.70 0 1 0 -5.40 0zM469.2 48.1a2.70 2.70 0 1 0 5.40 0a2.70 2.70 0 1 0 -5.40 0zM470.0 46.2a2.70 2.70 0 1 0 5.40 0a2.70 2.70 0 1 0 -5.40 0zM471.2 47.1a2.70 2.70 0 1 0 5.40 0a2.70 2.70 0 1 0 -5.40 0zM471.7 49.3a2.70 2.70 0 1 0 5.40 0a2.70 2.70 0 1 0 -5.40 0zM472.8 47.5a2.70 2.70 0 1 0 5.40 0a2.70 2.70 0 1 0 -5.40 0zM473.3 46.4a2.70 2.70 0 1 0 5.40 0a2.70 2.70 0 1 0 -5.40 0zM474.0 47.1a2.70 2.70 0 1 0 5.40 0a2.70 2.70 0 1 0 -5.40 0zM475.1 48.0a2.70 2.70 0 1 0 5.40 0a2.70 2.70 0 1 0 -5.40 0zM475.4 49.8a2.70 2.70 0 1 0 5.40 0a2.70 2.70 0 1 0 -5.40 0zM476.3 48.3a2.70 2.70 0 1 0 5.40 0a2.70 2.70 0 1 0 -5.40 0zM477.0 47.6a2.70 2.70 0 1 0 5.40 0a2.70 2.70 0 1 0 -5.40 0zM477.9 48.4a2.70 2.70 0 1 0 5.40 0a2.70 2.70 0 1 0 -5.40 0zM479.1 47.8a2.70 2.70 0 1 0 5.40 0a2.70 2.70 0 1 0 -5.40 0zM479.8 47.7a2.70 2.70 0 1 0 5.40 0a2.70 2.70 0 1 0 -5.40 0zM480.5 48.5a2.70 2.70 0 1 0 5.40 0a2.70 2.70 0 1 0 -5.40 0zM481.2 48.9a2.70 2.70 0 1 0 5.40 0a2.70 2.70 0 1 0 -5.40 0zM481.4 49.5a2.70 2.70 0 1 0 5.40 0a2.70 2.70 0 1 0 -5.40 0zM482.4 49.1a2.70 2.70 0 1 0 5.40 0a2.70 2.70 0 1 0 -5.40 0zM483.4 49.6a2.70 2.70 0 1 0 5.40 0a2.70 2.70 0 1 0 -5.40 0zM484.5 48.7a2.70 2.70 0 1 0 5.40 0a2.70 2.70 0 1 0 -5.40 0zM484.8 50.2a2.70 2.70 0 1 0 5.40 0a2.70 2.70 0 1 0 -5.40 0zM485.7 50.7a2.70 2.70 0 1 0 5.40 0a2.70 2.70 0 1 0 -5.40 0zM486.7 47.9a2.70 2.70 0 1 0 5.40 0a2.70 2.70 0 1 0 -5.40 0zM487.1 50.2a2.70 2.70 0 1 0 5.40 0a2.70 2.70 0 1 0 -5.40 0zM488.2 51.0a2.70 2.70 0 1 0 5.40 0a2.70 2.70 0 1 0 -5.40 0zM488.8 49.4a2.70 2.70 0 1 0 5.40 0a2.70 2.70 0 1 0 -5.40 0zM489.6 48.1a2.70 2.70 0 1 0 5.40 0a2.70 2.70 0 1 0 -5.40 0zM490.4 49.0a2.70 2.70 0 1 0 5.40 0a2.70 2.70 0 1 0 -5.40 0zM491.1 50.7a2.70 2.70 0 1 0 5.40 0a2.70 2.70 0 1 0 -5.40 0zM491.5 49.2a2.70 2.70 0 1 0 5.40 0a2.70 2.70 0 1 0 -5.40 0zM492.9 49.0a2.70 2.70 0 1 0 5.40 0a2.70 2.70 0 1 0 -5.40 0zM493.8 49.3a2.70 2.70 0 1 0 5.40 0a2.70 2.70 0 1 0 -5.40 0zM494.4 51.0a2.70 2.70 0 1 0 5.40 0a2.70 2.70 0 1 0 -5.40 0zM494.8 50.1a2.70 2.70 0 1 0 5.40 0a2.70 2.70 0 1 0 -5.40 0zM495.8 50.8a2.70 2.70 0 1 0 5.40 0a2.70 2.70 0 1 0 -5.40 0zM496.7 50.8a2.70 2.70 0 1 0 5.40 0a2.70 2.70 0 1 0 -5.40 0zM496.9 51.3a2.70 2.70 0 1 0 5.40 0a2.70 2.70 0 1 0 -5.40 0zM498.3 50.2a2.70 2.70 0 1 0 5.40 0a2.70 2.70 0 1 0 -5.40 0zM498.5 50.1a2.70 2.70 0 1 0 5.40 0a2.70 2.70 0 1 0 -5.40 0zM499.9 49.4a2.70 2.70 0 1 0 5.40 0a2.70 2.70 0 1 0 -5.40 0zM500.1 52.4a2.70 2.70 0 1 0 5.40 0a2.70 2.70 0 1 0 -5.40 0zM501.5 50.5a2.70 2.70 0 1 0 5.40 0a2.70 2.70 0 1 0 -5.40 0zM501.7 52.0a2.70 2.70 0 1 0 5.40 0a2.70 2.70 0 1 0 -5.40 0zM502.7 52.1a2.70 2.70 0 1 0 5.40 0a2.70 2.70 0 1 0 -5.40 0zM503.7 52.9a2.70 2.70 0 1 0 5.40 0a2.70 2.70 0 1 0 -5.40 0zM504.6 51.6a2.70 2.70 0 1 0 5.40 0a2.70 2.70 0 1 0 -5.40 0zM505.1 52.5a2.70 2.70 0 1 0 5.40 0a2.70 2.70 0 1 0 -5.40 0zM506.0 51.4a2.70 2.70 0 1 0 5.40 0a2.70 2.70 0 1 0 -5.40 0zM506.4 50.2a2.70 2.70 0 1 0 5.40 0a2.70 2.70 0 1 0 -5.40 0zM507.5 52.5a2.70 2.70 0 1 0 5.40 0a2.70 2.70 0 1 0 -5.40 0zM508.0 52.9a2.70 2.70 0 1 0 5.40 0a2.70 2.70 0 1 0 -5.40 0zM509.2 52.4a2.70 2.70 0 1 0 5.40 0a2.70 2.70 0 1 0 -5.40 0zM509.8 53.8a2.70 2.70 0 1 0 5.40 0a2.70 2.70 0 1 0 -5.40 0zM510.3 54.8a2.70 2.70 0 1 0 5.40 0a2.70 2.70 0 1 0 -5.40 0zM511.4 52.5a2.70 2.70 0 1 0 5.40 0a2.70 2.70 0 1 0 -5.40 0zM511.6 52.7a2.70 2.70 0 1 0 5.40 0a2.70 2.70 0 1 0 -5.40 0zM513.0 52.2a2.70 2.70 0 1 0 5.40 0a2.70 2.70 0 1 0 -5.40 0zM513.6 54.4a2.70 2.70 0 1 0 5.40 0a2.70 2.70 0 1 0 -5.40 0zM514.1 52.3a2.70 2.70 0 1 0 5.40 0a2.70 2.70 0 1 0 -5.40 0zM515.1 53.3a2.70 2.70 0 1 0 5.40 0a2.70 2.70 0 1 0 -5.40 0zM516.0 55.5a2.70 2.70 0 1 0 5.40 0a2.70 2.70 0 1 0 -5.40 0zM516.7 53.3a2.70 2.70 0 1 0 5.40 0a2.70 2.70 0 1 0 -5.40 0zM517.6 56.2a2.70 2.70 0 1 0 5.40 0a2.70 2.70 0 1 0 -5.40 0zM518.0 54.3a2.70 2.70 0 1 0 5.40 0a2.70 2.70 0 1 0 -5.40 0zM518.7 52.4a2.70 2.70 0 1 0 5.40 0a2.70 2.70 0 1 0 -5.40 0zM519.5 55.9a2.70 2.70 0 1 0 5.40 0a2.70 2.70 0 1 0 -5.40 0zM520.2 54.9a2.70 2.70 0 1 0 5.40 0a2.70 2.70 0 1 0 -5.40 0zM521.2 56.3a2.70 2.70 0 1 0 5.40 0a2.70 2.70 0 1 0 -5.40 0zM522.2 54.8a2.70 2.70 0 1 0 5.40 0a2.70 2.70 0 1 0 -5.40 0zM523.0 55.1a2.70 2.70 0 1 0 5.40 0a2.70 2.70 0 1 0 -5.40 0zM523.6 53.6a2.70 2.70 0 1 0 5.40 0a2.70 2.70 0 1 0 -5.40 0zM524.5 54.2a2.70 2.70 0 1 0 5.40 0a2.70 2.70 0 1 0 -5.40 0zM525.4 55.7a2.70 2.70 0 1 0 5.40 0a2.70 2.70 0 1 0 -5.40 0zM525.9 55.3a2.70 2.70 0 1 0 5.40 0a2.70 2.70 0 1 0 -5.40 0zM526.3 54.6a2.70 2.70 0 1 0 5.40 0a2.70 2.70 0 1 0 -5.40 0zM527.5 54.8a2.70 2.70 0 1 0 5.40 0a2.70 2.70 0 1 0 -5.40 0zM527.7 56.3a2.70 2.70 0 1 0 5.40 0a2.70 2.70 0 1 0 -5.40 0zM529.0 54.5a2.70 2.70 0 1 0 5.40 0a2.70 2.70 0 1 0 -5.40 0zM530.1 54.8a2.70 2.70 0 1 0 5.40 0a2.70 2.70 0 1 0 -5.40 0zM530.4 58.0a2.70 2.70 0 1 0 5.40 0a2.70 2.70 0 1 0 -5.40 0zM531.6 55.4a2.70 2.70 0 1 0 5.40 0a2.70 2.70 0 1 0 -5.40 0zM531.6 56.6a2.70 2.70 0 1 0 5.40 0a2.70 2.70 0 1 0 -5.40 0zM533.1 60.0a2.70 2.70 0 1 0 5.40 0a2.70 2.70 0 1 0 -5.40 0zM533.3 55.7a2.70 2.70 0 1 0 5.40 0a2.70 2.70 0 1 0 -5.40 0zM534.6 57.7a2.70 2.70 0 1 0 5.40 0a2.70 2.70 0 1 0 -5.40 0zM534.9 57.1a2.70 2.70 0 1 0 5.40 0a2.70 2.70 0 1 0 -5.40 0zM535.8 60.2a2.70 2.70 0 1 0 5.40 0a2.70 2.70 0 1 0 -5.40 0zM536.3 58.2a2.70 2.70 0 1 0 5.40 0a2.70 2.70 0 1 0 -5.40 0zM537.0 57.8a2.70 2.70 0 1 0 5.40 0a2.70 2.70 0 1 0 -5.40 0zM538.4 61.2a2.70 2.70 0 1 0 5.40 0a2.70 2.70 0 1 0 -5.40 0zM539.1 62.7a2.70 2.70 0 1 0 5.40 0a2.70 2.70 0 1 0 -5.40 0zM539.4 62.3a2.70 2.70 0 1 0 5.40 0a2.70 2.70 0 1 0 -5.40 0zM540.6 58.8a2.70 2.70 0 1 0 5.40 0a2.70 2.70 0 1 0 -5.40 0zM541.1 62.9a2.70 2.70 0 1 0 5.40 0a2.70 2.70 0 1 0 -5.40 0zM542.3 62.2a2.70 2.70 0 1 0 5.40 0a2.70 2.70 0 1 0 -5.40 0zM542.5 61.0a2.70 2.70 0 1 0 5.40 0a2.70 2.70 0 1 0 -5.40 0zM543.6 59.5a2.70 2.70 0 1 0 5.40 0a2.70 2.70 0 1 0 -5.40 0zM544.7 62.2a2.70 2.70 0 1 0 5.40 0a2.70 2.70 0 1 0 -5.40 0zM545.1 60.7a2.70 2.70 0 1 0 5.40 0a2.70 2.70 0 1 0 -5.40 0zM546.0 60.6a2.70 2.70 0 1 0 5.40 0a2.70 2.70 0 1 0 -5.40 0zM546.9 64.0a2.70 2.70 0 1 0 5.40 0a2.70 2.70 0 1 0 -5.40 0zM547.6 65.1a2.70 2.70 0 1 0 5.40 0a2.70 2.70 0 1 0 -5.40 0zM548.5 64.4a2.70 2.70 0 1 0 5.40 0a2.70 2.70 0 1 0 -5.40 0zM548.7 64.0a2.70 2.70 0 1 0 5.40 0a2.70 2.70 0 1 0 -5.40 0zM550.1 66.3a2.70 2.70 0 1 0 5.40 0a2.70 2.70 0 1 0 -5.40 0zM550.5 66.1a2.70 2.70 0 1 0 5.40 0a2.70 2.70 0 1 0 -5.40 0zM551.6 62.8a2.70 2.70 0 1 0 5.40 0a2.70 2.70 0 1 0 -5.40 0zM552.2 66.8a2.70 2.70 0 1 0 5.40 0a2.70 2.70 0 1 0 -5.40 0zM553.0 67.5a2.70 2.70 0 1 0 5.40 0a2.70 2.70 0 1 0 -5.40 0zM554.0 67.0a2.70 2.70 0 1 0 5.40 0a2.70 2.70 0 1 0 -5.40 0zM554.1 66.2a2.70 2.70 0 1 0 5.40 0a2.70 2.70 0 1 0 -5.40 0zM555.4 68.7a2.70 2.70 0 1 0 5.40 0a2.70 2.70 0 1 0 -5.40 0zM555.7 64.8a2.70 2.70 0 1 0 5.40 0a2.70 2.70 0 1 0 -5.40 0zM556.9 69.8a2.70 2.70 0 1 0 5.40 0a2.70 2.70 0 1 0 -5.40 0zM557.2 68.0a2.70 2.70 0 1 0 5.40 0a2.70 2.70 0 1 0 -5.40 0zM558.2 68.6a2.70 2.70 0 1 0 5.40 0a2.70 2.70 0 1 0 -5.40 0zM558.7 69.2a2.70 2.70 0 1 0 5.40 0a2.70 2.70 0 1 0 -5.40 0zM560.0 69.5a2.70 2.70 0 1 0 5.40 0a2.70 2.70 0 1 0 -5.40 0zM560.4 67.6a2.70 2.70 0 1 0 5.40 0a2.70 2.70 0 1 0 -5.40 0zM561.3 68.6a2.70 2.70 0 1 0 5.40 0a2.70 2.70 0 1 0 -5.40 0zM562.3 68.1a2.70 2.70 0 1 0 5.40 0a2.70 2.70 0 1 0 -5.40 0zM562.8 67.9a2.70 2.70 0 1 0 5.40 0a2.70 2.70 0 1 0 -5.40 0zM563.9 73.7a2.70 2.70 0 1 0 5.40 0a2.70 2.70 0 1 0 -5.40 0zM564.4 74.3a2.70 2.70 0 1 0 5.40 0a2.70 2.70 0 1 0 -5.40 0zM565.5 74.2a2.70 2.70 0 1 0 5.40 0a2.70 2.70 0 1 0 -5.40 0zM566.2 71.8a2.70 2.70 0 1 0 5.40 0a2.70 2.70 0 1 0 -5.40 0zM567.1 73.3a2.70 2.70 0 1 0 5.40 0a2.70 2.70 0 1 0 -5.40 0zM567.7 75.9a2.70 2.70 0 1 0 5.40 0a2.70 2.70 0 1 0 -5.40 0zM568.1 74.7a2.70 2.70 0 1 0 5.40 0a2.70 2.70 0 1 0 -5.40 0zM569.1 74.9a2.70 2.70 0 1 0 5.40 0a2.70 2.70 0 1 0 -5.40 0zM570.2 78.0a2.70 2.70 0 1 0 5.40 0a2.70 2.70 0 1 0 -5.40 0zM570.9 76.1a2.70 2.70 0 1 0 5.40 0a2.70 2.70 0 1 0 -5.40 0zM571.2 75.8a2.70 2.70 0 1 0 5.40 0a2.70 2.70 0 1 0 -5.40 0zM571.9 77.7a2.70 2.70 0 1 0 5.40 0a2.70 2.70 0 1 0 -5.40 0zM572.7 81.0a2.70 2.70 0 1 0 5.40 0a2.70 2.70 0 1 0 -5.40 0zM573.8 82.5a2.70 2.70 0 1 0 5.40 0a2.70 2.70 0 1 0 -5.40 0zM574.2 78.6a2.70 2.70 0 1 0 5.40 0a2.70 2.70 0 1 0 -5.40 0zM575.4 82.5a2.70 2.70 0 1 0 5.40 0a2.70 2.70 0 1 0 -5.40 0zM575.8 79.5a2.70 2.70 0 1 0 5.40 0a2.70 2.70 0 1 0 -5.40 0zM577.0 84.0a2.70 2.70 0 1 0 5.40 0a2.70 2.70 0 1 0 -5.40 0zM577.3 80.7a2.70 2.70 0 1 0 5.40 0a2.70 2.70 0 1 0 -5.40 0zM578.6 83.4a2.70 2.70 0 1 0 5.40 0a2.70 2.70 0 1 0 -5.40 0zM578.9 86.3a2.70 2.70 0 1 0 5.40 0a2.70 2.70 0 1 0 -5.40 0zM579.5 83.0a2.70 2.70 0 1 0 5.40 0a2.70 2.70 0 1 0 -5.40 0zM580.3 86.1a2.70 2.70 0 1 0 5.40 0a2.70 2.70 0 1 0 -5.40 0zM581.6 86.7a2.70 2.70 0 1 0 5.40 0a2.70 2.70 0 1 0 -5.40 0zM581.9 90.4a2.70 2.70 0 1 0 5.40 0a2.70 2.70 0 1 0 -5.40 0zM582.7 89.8a2.70 2.70 0 1 0 5.40 0a2.70 2.70 0 1 0 -5.40 0zM584.1 89.0a2.70 2.70 0 1 0 5.40 0a2.70 2.70 0 1 0 -5.40 0zM584.4 93.2a2.70 2.70 0 1 0 5.40 0a2.70 2.70 0 1 0 -5.40 0zM585.4 91.0a2.70 2.70 0 1 0 5.40 0a2.70 2.70 0 1 0 -5.40 0zM586.1 89.8a2.70 2.70 0 1 0 5.40 0a2.70 2.70 0 1 0 -5.40 0zM586.8 90.6a2.70 2.70 0 1 0 5.40 0a2.70 2.70 0 1 0 -5.40 0zM587.9 94.3a2.70 2.70 0 1 0 5.40 0a2.70 2.70 0 1 0 -5.40 0zM588.0 95.5a2.70 2.70 0 1 0 5.40 0a2.70 2.70 0 1 0 -5.40 0zM589.0 92.2a2.70 2.70 0 1 0 5.40 0a2.70 2.70 0 1 0 -5.40 0zM589.8 95.4a2.70 2.70 0 1 0 5.40 0a2.70 2.70 0 1 0 -5.40 0zM590.8 94.3a2.70 2.70 0 1 0 5.40 0a2.70 2.70 0 1 0 -5.40 0zM591.6 98.5a2.70 2.70 0 1 0 5.40 0a2.70 2.70 0 1 0 -5.40 0zM591.8 94.6a2.70 2.70 0 1 0 5.40 0a2.70 2.70 0 1 0 -5.40 0zM592.6 99.1a2.70 2.70 0 1 0 5.40 0a2.70 2.70 0 1 0 -5.40 0zM593.5 99.4a2.70 2.70 0 1 0 5.40 0a2.70 2.70 0 1 0 -5.40 0zM594.4 100.2a2.70 2.70 0 1 0 5.40 0a2.70 2.70 0 1 0 -5.40 0zM595.5 99.7a2.70 2.70 0 1 0 5.40 0a2.70 2.70 0 1 0 -5.40 0zM596.2 101.0a2.70 2.70 0 1 0 5.40 0a2.70 2.70 0 1 0 -5.40 0zM597.2 102.6a2.70 2.70 0 1 0 5.40 0a2.70 2.70 0 1 0 -5.40 0zM597.5 98.9a2.70 2.70 0 1 0 5.40 0a2.70 2.70 0 1 0 -5.40 0zM598.3 101.1a2.70 2.70 0 1 0 5.40 0a2.70 2.70 0 1 0 -5.40 0zM598.8 100.6a2.70 2.70 0 1 0 5.40 0a2.70 2.70 0 1 0 -5.40 0zM600.2 102.4a2.70 2.70 0 1 0 5.40 0a2.70 2.70 0 1 0 -5.40 0zM601.0 103.0a2.70 2.70 0 1 0 5.40 0a2.70 2.70 0 1 0 -5.40 0zM601.8 103.1a2.70 2.70 0 1 0 5.40 0a2.70 2.70 0 1 0 -5.40 0zM602.4 105.1a2.70 2.70 0 1 0 5.40 0a2.70 2.70 0 1 0 -5.40 0zM603.3 100.8a2.70 2.70 0 1 0 5.40 0a2.70 2.70 0 1 0 -5.40 0zM603.8 101.8a2.70 2.70 0 1 0 5.40 0a2.70 2.70 0 1 0 -5.40 0zM604.8 102.5a2.70 2.70 0 1 0 5.40 0a2.70 2.70 0 1 0 -5.40 0zM605.2 102.5a2.70 2.70 0 1 0 5.40 0a2.70 2.70 0 1 0 -5.40 0zM606.3 105.8a2.70 2.70 0 1 0 5.40 0a2.70 2.70 0 1 0 -5.40 0zM607.1 105.7a2.70 2.70 0 1 0 5.40 0a2.70 2.70 0 1 0 -5.40 0zM607.7 105.3a2.70 2.70 0 1 0 5.40 0a2.70 2.70 0 1 0 -5.40 0zM608.7 106.1a2.70 2.70 0 1 0 5.40 0a2.70 2.70 0 1 0 -5.40 0zM609.3 105.0a2.70 2.70 0 1 0 5.40 0a2.70 2.70 0 1 0 -5.40 0zM609.7 106.8a2.70 2.70 0 1 0 5.40 0a2.70 2.70 0 1 0 -5.40 0zM610.4 103.9a2.70 2.70 0 1 0 5.40 0a2.70 2.70 0 1 0 -5.40 0zM611.3 105.1a2.70 2.70 0 1 0 5.40 0a2.70 2.70 0 1 0 -5.40 0zM612.0 104.3a2.70 2.70 0 1 0 5.40 0a2.70 2.70 0 1 0 -5.40 0zM613.4 108.7a2.70 2.70 0 1 0 5.40 0a2.70 2.70 0 1 0 -5.40 0zM613.8 108.1a2.70 2.70 0 1 0 5.40 0a2.70 2.70 0 1 0 -5.40 0zM614.8 108.9a2.70 2.70 0 1 0 5.40 0a2.70 2.70 0 1 0 -5.40 0zM615.7 110.3a2.70 2.70 0 1 0 5.40 0a2.70 2.70 0 1 0 -5.40 0zM616.3 107.6a2.70 2.70 0 1 0 5.40 0a2.70 2.70 0 1 0 -5.40 0zM617.2 106.4a2.70 2.70 0 1 0 5.40 0a2.70 2.70 0 1 0 -5.40 0zM617.7 107.1a2.70 2.70 0 1 0 5.40 0a2.70 2.70 0 1 0 -5.40 0zM618.6 109.6a2.70 2.70 0 1 0 5.40 0a2.70 2.70 0 1 0 -5.40 0zM619.6 110.4a2.70 2.70 0 1 0 5.40 0a2.70 2.70 0 1 0 -5.40 0zM619.9 111.0a2.70 2.70 0 1 0 5.40 0a2.70 2.70 0 1 0 -5.40 0zM620.9 107.6a2.70 2.70 0 1 0 5.40 0a2.70 2.70 0 1 0 -5.40 0zM621.9 108.8a2.70 2.70 0 1 0 5.40 0a2.70 2.70 0 1 0 -5.40 0zM622.1 112.5a2.70 2.70 0 1 0 5.40 0a2.70 2.70 0 1 0 -5.40 0zM622.7 109.0a2.70 2.70 0 1 0 5.40 0a2.70 2.70 0 1 0 -5.40 0zM623.8 112.0a2.70 2.70 0 1 0 5.40 0a2.70 2.70 0 1 0 -5.40 0zM624.9 112.1a2.70 2.70 0 1 0 5.40 0a2.70 2.70 0 1 0 -5.40 0zM625.4 114.0a2.70 2.70 0 1 0 5.40 0a2.70 2.70 0 1 0 -5.40 0zM625.9 110.4a2.70 2.70 0 1 0 5.40 0a2.70 2.70 0 1 0 -5.40 0zM627.3 114.6a2.70 2.70 0 1 0 5.40 0a2.70 2.70 0 1 0 -5.40 0zM627.7 112.7a2.70 2.70 0 1 0 5.40 0a2.70 2.70 0 1 0 -5.40 0zM628.4 115.4a2.70 2.70 0 1 0 5.40 0a2.70 2.70 0 1 0 -5.40 0zM628.9 112.7a2.70 2.70 0 1 0 5.40 0a2.70 2.70 0 1 0 -5.40 0zM629.9 114.8a2.70 2.70 0 1 0 5.40 0a2.70 2.70 0 1 0 -5.40 0zM631.2 116.0a2.70 2.70 0 1 0 5.40 0a2.70 2.70 0 1 0 -5.40 0zM631.5 115.6a2.70 2.70 0 1 0 5.40 0a2.70 2.70 0 1 0 -5.40 0zM632.5 115.9a2.70 2.70 0 1 0 5.40 0a2.70 2.70 0 1 0 -5.40 0zM633.4 116.7a2.70 2.70 0 1 0 5.40 0a2.70 2.70 0 1 0 -5.40 0zM633.5 115.9a2.70 2.70 0 1 0 5.40 0a2.70 2.70 0 1 0 -5.40 0zM634.8 116.4a2.70 2.70 0 1 0 5.40 0a2.70 2.70 0 1 0 -5.40 0zM635.1 114.3a2.70 2.70 0 1 0 5.40 0a2.70 2.70 0 1 0 -5.40 0zM636.2 118.5a2.70 2.70 0 1 0 5.40 0a2.70 2.70 0 1 0 -5.40 0zM637.2 115.4a2.70 2.70 0 1 0 5.40 0a2.70 2.70 0 1 0 -5.40 0zM637.6 117.3a2.70 2.70 0 1 0 5.40 0a2.70 2.70 0 1 0 -5.40 0zM638.7 117.6a2.70 2.70 0 1 0 5.40 0a2.70 2.70 0 1 0 -5.40 0zM639.1 115.6a2.70 2.70 0 1 0 5.40 0a2.70 2.70 0 1 0 -5.40 0zM640.1 116.5a2.70 2.70 0 1 0 5.40 0a2.70 2.70 0 1 0 -5.40 0zM641.0 119.7a2.70 2.70 0 1 0 5.40 0a2.70 2.70 0 1 0 -5.40 0zM641.6 119.9a2.70 2.70 0 1 0 5.40 0a2.70 2.70 0 1 0 -5.40 0zM642.2 119.3a2.70 2.70 0 1 0 5.40 0a2.70 2.70 0 1 0 -5.40 0zM643.3 121.3a2.70 2.70 0 1 0 5.40 0a2.70 2.70 0 1 0 -5.40 0zM643.6 120.2a2.70 2.70 0 1 0 5.40 0a2.70 2.70 0 1 0 -5.40 0zM644.5 120.9a2.70 2.70 0 1 0 5.40 0a2.70 2.70 0 1 0 -5.40 0zM645.7 121.4a2.70 2.70 0 1 0 5.40 0a2.70 2.70 0 1 0 -5.40 0zM646.2 123.1a2.70 2.70 0 1 0 5.40 0a2.70 2.70 0 1 0 -5.40 0zM646.7 119.4a2.70 2.70 0 1 0 5.40 0a2.70 2.70 0 1 0 -5.40 0zM647.9 125.5a2.70 2.70 0 1 0 5.40 0a2.70 2.70 0 1 0 -5.40 0zM648.9 121.4a2.70 2.70 0 1 0 5.40 0a2.70 2.70 0 1 0 -5.40 0zM649.0 123.4a2.70 2.70 0 1 0 5.40 0a2.70 2.70 0 1 0 -5.40 0z" fill="#ff0000"/>
</g>
<path d="M443 15.6h23" stroke="#ff00ff" stroke-width="2"/><rect x="452.3" y="13.4" width="4.4" height="4.4" fill="#ff00ff"/>
<path d="M443 28.2h23" stroke="#ff0000" stroke-width="2"/><circle cx="454.5" cy="28.2" r="2.6" fill="#ff0000"/>
<text x="467.8" y="19.2" font-size="9" text-anchor="start" letter-spacing="0.7" fill="#1c1c1c" stroke="#1c1c1c" stroke-width="0.12" font-family='"Liberation Sans", sans-serif' >In plane (ZFC)</text>
<text x="467.8" y="31.2" font-size="9" text-anchor="start" letter-spacing="0.7" fill="#1c1c1c" stroke="#1c1c1c" stroke-width="0.12" font-family='"Liberation Sans", sans-serif' >In plane (FC)</text>
<text x="633.3" y="27.8" font-size="20.5" text-anchor="middle" letter-spacing="1.4" fill="#111" stroke="#111" stroke-width="0.12" font-family='"Liberation Sans", sans-serif' >(b)</text>
<text x="391.0" y="27.5" font-size="8.4" text-anchor="end" fill="#2a2a2a" font-family='"Liberation Sans", sans-serif'><tspan letter-spacing="0.8">1.80x1</tspan><tspan>0</tspan><tspan font-size="5.4" dy="-4.2">-5</tspan></text>
<text x="391.0" y="58.4" font-size="8.4" text-anchor="end" fill="#2a2a2a" font-family='"Liberation Sans", sans-serif'><tspan letter-spacing="0.8">1.77x1</tspan><tspan>0</tspan><tspan font-size="5.4" dy="-4.2">-5</tspan></text>
<text x="391.0" y="89.3" font-size="8.4" text-anchor="end" fill="#2a2a2a" font-family='"Liberation Sans", sans-serif'><tspan letter-spacing="0.8">1.74x1</tspan><tspan>0</tspan><tspan font-size="5.4" dy="-4.2">-5</tspan></text>
<text x="391.0" y="120.2" font-size="8.4" text-anchor="end" fill="#2a2a2a" font-family='"Liberation Sans", sans-serif'><tspan letter-spacing="0.8">1.71x1</tspan><tspan>0</tspan><tspan font-size="5.4" dy="-4.2">-5</tspan></text>
<text x="391.0" y="151.1" font-size="8.4" text-anchor="end" fill="#2a2a2a" font-family='"Liberation Sans", sans-serif'><tspan letter-spacing="0.8">1.68x1</tspan><tspan>0</tspan><tspan font-size="5.4" dy="-4.2">-5</tspan></text>
<text x="391.0" y="182.0" font-size="8.4" text-anchor="end" fill="#2a2a2a" font-family='"Liberation Sans", sans-serif'><tspan letter-spacing="0.8">1.65x1</tspan><tspan>0</tspan><tspan font-size="5.4" dy="-4.2">-5</tspan></text>
<text x="391.0" y="212.9" font-size="8.4" text-anchor="end" fill="#2a2a2a" font-family='"Liberation Sans", sans-serif'><tspan letter-spacing="0.8">1.62x1</tspan><tspan>0</tspan><tspan font-size="5.4" dy="-4.2">-5</tspan></text>
<text x="397.0" y="221.6" font-size="9" text-anchor="middle" letter-spacing="1.1" fill="#1c1c1c" stroke="#1c1c1c" stroke-width="0.12" font-family='"Liberation Sans", sans-serif' >50</text>
<text x="439.8" y="221.6" font-size="9" text-anchor="middle" letter-spacing="1.1" fill="#1c1c1c" stroke="#1c1c1c" stroke-width="0.12" font-family='"Liberation Sans", sans-serif' >100</text>
<text x="482.7" y="221.6" font-size="9" text-anchor="middle" letter-spacing="1.1" fill="#1c1c1c" stroke="#1c1c1c" stroke-width="0.12" font-family='"Liberation Sans", sans-serif' >150</text>
<text x="525.5" y="221.6" font-size="9" text-anchor="middle" letter-spacing="1.1" fill="#1c1c1c" stroke="#1c1c1c" stroke-width="0.12" font-family='"Liberation Sans", sans-serif' >200</text>
<text x="568.3" y="221.6" font-size="9" text-anchor="middle" letter-spacing="1.1" fill="#1c1c1c" stroke="#1c1c1c" stroke-width="0.12" font-family='"Liberation Sans", sans-serif' >250</text>
<text x="611.2" y="221.6" font-size="9" text-anchor="middle" letter-spacing="1.1" fill="#1c1c1c" stroke="#1c1c1c" stroke-width="0.12" font-family='"Liberation Sans", sans-serif' >300</text>
<text x="654.0" y="221.6" font-size="9" text-anchor="middle" letter-spacing="1.1" fill="#1c1c1c" stroke="#1c1c1c" stroke-width="0.12" font-family='"Liberation Sans", sans-serif' >350</text>
<text x="525.2" y="240.6" font-size="11.4" text-anchor="middle" letter-spacing="0.85" fill="#1c1c1c" stroke="#1c1c1c" stroke-width="0.12" font-family='"Liberation Sans", sans-serif' >Temperature (K)</text>
<text x="0.0" y="0.0" font-size="13.4" text-anchor="middle" letter-spacing="0" fill="#1c1c1c" stroke="#1c1c1c" stroke-width="0.12" font-family='"Liberation Sans", sans-serif' textLength="114.6" lengthAdjust="spacingAndGlyphs" transform="translate(341.2 114.5) rotate(-90)">Magnetization (emu)</text>
<rect x="432.7" y="95.6" width="125.5" height="100.2" fill="#fff" stroke="#000" stroke-width="1.2"/>
<path d="M432.7 195.8v-3M432.7 95.6v3M441.7 195.8v-2M441.7 95.6v2M450.6 195.8v-3M450.6 95.6v3M459.6 195.8v-2M459.6 95.6v2M468.6 195.8v-3M468.6 95.6v3M477.5 195.8v-2M477.5 95.6v2M486.5 195.8v-3M486.5 95.6v3M495.5 195.8v-2M495.5 95.6v2M504.4 195.8v-3M504.4 95.6v3M513.4 195.8v-2M513.4 95.6v2M522.3 195.8v-3M522.3 95.6v3M531.3 195.8v-2M531.3 95.6v2M540.3 195.8v-3M540.3 95.6v3M549.2 195.8v-2M549.2 95.6v2M558.2 195.8v-3M558.2 95.6v3M432.7 109h3M558.2 109h-3M432.7 129.8h3M558.2 129.8h-3M432.7 149.7h3M558.2 149.7h-3M432.7 169.4h3M558.2 169.4h-3M432.7 188.3h3M558.2 188.3h-3M432.7 119.4h2M558.2 119.4h-2M432.7 139.7h2M558.2 139.7h-2M432.7 159.5h2M558.2 159.5h-2M432.7 178.8h2M558.2 178.8h-2" stroke="#000" stroke-width="0.8" fill="none"/>
<polyline points="433.5,179.5 435.0,180.8 436.6,181.8 438.1,182.7 439.6,183.4 441.2,183.9 442.7,184.4 444.2,184.8 445.7,185.2 447.3,185.5 448.8,185.8 450.3,186.0 451.9,186.3 453.4,186.5 454.9,186.7 456.5,186.8 458.0,186.9 459.5,187.0 461.1,187.0 462.6,187.0 464.1,187.0 465.6,187.0 467.2,187.0 468.7,187.0 470.2,187.0 471.8,187.0 473.3,187.0 474.8,187.0 476.4,187.0 477.9,187.0 479.4,187.0 481.0,187.0 482.5,187.0 484.0,187.0 485.5,187.0 487.1,187.0 488.6,187.0 490.1,187.0 491.7,187.0 493.2,187.0 494.7,187.0 496.3,187.1 497.8,187.1 499.3,187.1 500.9,187.1 502.4,187.2 503.9,187.2 505.5,187.3 507.0,187.3 508.5,187.3 510.0,187.4 511.6,187.4 513.1,187.4 514.6,187.5 516.2,187.5 517.7,187.5 519.2,187.5 520.8,187.5 522.3,187.5 523.8,187.5 525.4,187.5 526.9,187.5 528.4,187.5 529.9,187.5 531.5,187.5 533.0,187.5 534.5,187.4 536.1,187.4 537.6,187.4 539.1,187.4 540.7,187.4 542.2,187.3 543.7,187.3 545.3,187.3 546.8,187.3 548.3,187.2 549.8,187.2 551.4,187.2 552.9,187.1 554.4,187.1 556.0,187.1 557.5,187.0" fill="none" stroke="#00ff00" stroke-width="1.0" stroke-linejoin="round"/><path d="M432.5 177.9h2.4v2.4h-2.4zM433.2 179.0h2.4v2.4h-2.4zM433.7 179.5h2.4v2.4h-2.4zM434.1 179.8h2.4v2.4h-2.4zM434.6 179.4h2.4v2.4h-2.4zM435.6 179.8h2.4v2.4h-2.4zM436.2 181.1h2.4v2.4h-2.4zM436.6 181.5h2.4v2.4h-2.4zM437.3 182.5h2.4v2.4h-2.4zM438.7 182.3h2.4v2.4h-2.4zM439.1 182.7h2.4v2.4h-2.4zM439.5 182.3h2.4v2.4h-2.4zM440.3 182.1h2.4v2.4h-2.4zM441.4 183.3h2.4v2.4h-2.4zM442.0 182.8h2.4v2.4h-2.4zM442.6 184.0h2.4v2.4h-2.4zM442.9 183.5h2.4v2.4h-2.4zM443.7 183.6h2.4v2.4h-2.4zM444.5 183.9h2.4v2.4h-2.4zM444.7 183.5h2.4v2.4h-2.4zM445.7 183.9h2.4v2.4h-2.4zM446.2 184.0h2.4v2.4h-2.4zM447.3 184.5h2.4v2.4h-2.4zM447.4 185.5h2.4v2.4h-2.4zM448.5 184.9h2.4v2.4h-2.4zM449.4 185.1h2.4v2.4h-2.4zM449.5 185.3h2.4v2.4h-2.4zM450.7 185.7h2.4v2.4h-2.4zM451.4 185.1h2.4v2.4h-2.4zM451.4 185.1h2.4v2.4h-2.4zM452.6 185.4h2.4v2.4h-2.4zM452.7 186.1h2.4v2.4h-2.4zM453.8 185.1h2.4v2.4h-2.4zM454.4 185.6h2.4v2.4h-2.4zM454.9 185.4h2.4v2.4h-2.4zM455.6 185.5h2.4v2.4h-2.4zM456.7 185.6h2.4v2.4h-2.4zM457.0 186.6h2.4v2.4h-2.4zM457.5 185.6h2.4v2.4h-2.4zM458.6 185.2h2.4v2.4h-2.4zM459.1 186.8h2.4v2.4h-2.4zM460.0 186.0h2.4v2.4h-2.4zM460.2 186.3h2.4v2.4h-2.4zM461.0 185.9h2.4v2.4h-2.4zM462.0 185.6h2.4v2.4h-2.4zM462.5 185.6h2.4v2.4h-2.4zM463.1 185.7h2.4v2.4h-2.4zM463.6 185.9h2.4v2.4h-2.4zM464.1 185.9h2.4v2.4h-2.4zM465.5 185.5h2.4v2.4h-2.4zM465.5 185.7h2.4v2.4h-2.4zM466.8 185.7h2.4v2.4h-2.4zM467.0 185.8h2.4v2.4h-2.4zM468.2 186.0h2.4v2.4h-2.4zM468.4 186.0h2.4v2.4h-2.4zM469.5 185.3h2.4v2.4h-2.4zM469.9 186.1h2.4v2.4h-2.4zM470.3 186.4h2.4v2.4h-2.4zM471.4 185.7h2.4v2.4h-2.4zM472.0 185.3h2.4v2.4h-2.4zM472.7 185.9h2.4v2.4h-2.4zM473.2 185.2h2.4v2.4h-2.4zM473.6 185.5h2.4v2.4h-2.4zM474.6 185.6h2.4v2.4h-2.4zM474.9 186.4h2.4v2.4h-2.4zM476.0 185.7h2.4v2.4h-2.4zM476.6 185.9h2.4v2.4h-2.4zM477.1 185.2h2.4v2.4h-2.4zM478.1 186.1h2.4v2.4h-2.4zM478.3 186.6h2.4v2.4h-2.4zM479.1 184.9h2.4v2.4h-2.4zM480.1 185.9h2.4v2.4h-2.4zM480.5 185.8h2.4v2.4h-2.4zM481.4 185.5h2.4v2.4h-2.4zM482.0 186.3h2.4v2.4h-2.4zM482.9 185.9h2.4v2.4h-2.4zM483.6 186.0h2.4v2.4h-2.4zM484.1 185.9h2.4v2.4h-2.4zM484.8 185.8h2.4v2.4h-2.4zM485.0 186.4h2.4v2.4h-2.4zM486.1 186.2h2.4v2.4h-2.4zM486.9 186.5h2.4v2.4h-2.4zM487.2 185.3h2.4v2.4h-2.4zM488.0 185.5h2.4v2.4h-2.4zM488.6 185.7h2.4v2.4h-2.4zM489.6 186.0h2.4v2.4h-2.4zM489.8 186.1h2.4v2.4h-2.4zM490.5 186.1h2.4v2.4h-2.4zM490.9 185.5h2.4v2.4h-2.4zM491.9 186.0h2.4v2.4h-2.4zM492.7 185.5h2.4v2.4h-2.4zM493.6 186.2h2.4v2.4h-2.4zM494.3 185.5h2.4v2.4h-2.4zM494.5 185.5h2.4v2.4h-2.4zM495.7 186.2h2.4v2.4h-2.4zM495.7 186.5h2.4v2.4h-2.4zM496.9 185.9h2.4v2.4h-2.4zM497.0 185.4h2.4v2.4h-2.4zM497.9 186.5h2.4v2.4h-2.4zM498.3 185.7h2.4v2.4h-2.4zM499.6 186.5h2.4v2.4h-2.4zM500.3 186.3h2.4v2.4h-2.4zM500.4 185.7h2.4v2.4h-2.4zM501.4 186.1h2.4v2.4h-2.4zM501.8 186.4h2.4v2.4h-2.4zM502.7 186.1h2.4v2.4h-2.4zM503.4 186.5h2.4v2.4h-2.4zM503.7 186.1h2.4v2.4h-2.4zM505.0 185.8h2.4v2.4h-2.4zM505.2 185.4h2.4v2.4h-2.4zM506.0 187.0h2.4v2.4h-2.4zM506.3 186.8h2.4v2.4h-2.4zM507.0 186.4h2.4v2.4h-2.4zM507.8 186.1h2.4v2.4h-2.4zM508.6 186.1h2.4v2.4h-2.4zM509.7 186.1h2.4v2.4h-2.4zM510.4 185.8h2.4v2.4h-2.4zM510.7 186.0h2.4v2.4h-2.4zM511.4 185.6h2.4v2.4h-2.4zM512.2 185.9h2.4v2.4h-2.4zM513.0 186.2h2.4v2.4h-2.4zM513.3 186.4h2.4v2.4h-2.4zM514.3 186.3h2.4v2.4h-2.4zM514.7 186.7h2.4v2.4h-2.4zM515.5 186.0h2.4v2.4h-2.4zM516.3 186.4h2.4v2.4h-2.4zM516.8 185.4h2.4v2.4h-2.4zM517.6 186.1h2.4v2.4h-2.4zM518.3 186.8h2.4v2.4h-2.4zM518.4 186.2h2.4v2.4h-2.4zM519.1 187.3h2.4v2.4h-2.4zM519.8 186.3h2.4v2.4h-2.4zM520.5 186.4h2.4v2.4h-2.4zM521.2 186.1h2.4v2.4h-2.4zM521.8 186.3h2.4v2.4h-2.4zM522.6 186.9h2.4v2.4h-2.4zM523.5 185.8h2.4v2.4h-2.4zM524.4 186.0h2.4v2.4h-2.4zM524.7 186.3h2.4v2.4h-2.4zM525.4 186.2h2.4v2.4h-2.4zM526.1 185.4h2.4v2.4h-2.4zM527.0 186.7h2.4v2.4h-2.4zM527.7 186.4h2.4v2.4h-2.4zM528.5 185.9h2.4v2.4h-2.4zM528.7 186.6h2.4v2.4h-2.4zM529.7 186.6h2.4v2.4h-2.4zM530.0 185.9h2.4v2.4h-2.4zM531.1 186.5h2.4v2.4h-2.4zM531.3 186.0h2.4v2.4h-2.4zM532.5 185.8h2.4v2.4h-2.4zM532.8 186.3h2.4v2.4h-2.4zM533.7 186.4h2.4v2.4h-2.4zM534.2 185.8h2.4v2.4h-2.4zM534.7 185.4h2.4v2.4h-2.4zM535.5 185.4h2.4v2.4h-2.4zM535.8 187.2h2.4v2.4h-2.4zM536.5 186.2h2.4v2.4h-2.4zM537.6 186.0h2.4v2.4h-2.4zM538.2 186.1h2.4v2.4h-2.4zM539.1 186.2h2.4v2.4h-2.4zM539.2 185.8h2.4v2.4h-2.4zM540.3 186.5h2.4v2.4h-2.4zM540.9 186.1h2.4v2.4h-2.4zM541.6 185.5h2.4v2.4h-2.4zM542.4 185.8h2.4v2.4h-2.4zM542.9 185.5h2.4v2.4h-2.4zM543.6 186.3h2.4v2.4h-2.4zM544.2 186.2h2.4v2.4h-2.4zM545.0 186.5h2.4v2.4h-2.4zM545.4 186.7h2.4v2.4h-2.4zM546.3 186.1h2.4v2.4h-2.4zM547.1 186.3h2.4v2.4h-2.4zM547.3 186.0h2.4v2.4h-2.4zM548.6 185.7h2.4v2.4h-2.4zM549.1 186.2h2.4v2.4h-2.4zM550.0 185.7h2.4v2.4h-2.4zM550.1 185.8h2.4v2.4h-2.4zM550.9 185.3h2.4v2.4h-2.4zM551.4 184.9h2.4v2.4h-2.4zM551.9 186.0h2.4v2.4h-2.4zM552.6 185.8h2.4v2.4h-2.4zM553.4 185.5h2.4v2.4h-2.4zM554.6 186.0h2.4v2.4h-2.4zM554.7 185.6h2.4v2.4h-2.4zM555.8 186.3h2.4v2.4h-2.4zM556.1 186.1h2.4v2.4h-2.4z" fill="#00ff00"/>
<polyline points="433.5,172.6 435.0,174.2 436.6,175.4 438.1,176.5 439.6,177.3 441.2,178.0 442.7,178.5 444.2,179.0 445.7,179.5 447.3,179.9 448.8,180.3 450.3,180.6 451.9,180.9 453.4,181.2 454.9,181.4 456.5,181.6 458.0,181.8 459.5,182.0 461.1,182.1 462.6,182.1 464.1,182.2 465.6,182.3 467.2,182.4 468.7,182.4 470.2,182.5 471.8,182.5 473.3,182.6 474.8,182.6 476.4,182.6 477.9,182.7 479.4,182.7 481.0,182.8 482.5,182.8 484.0,182.8 485.5,182.9 487.1,182.9 488.6,183.0 490.1,183.0 491.7,183.1 493.2,183.1 494.7,183.2 496.3,183.2 497.8,183.3 499.3,183.3 500.9,183.4 502.4,183.4 503.9,183.5 505.5,183.5 507.0,183.6 508.5,183.6 510.0,183.7 511.6,183.7 513.1,183.8 514.6,183.8 516.2,183.9 517.7,183.9 519.2,184.0 520.8,184.0 522.3,184.1 523.8,184.1 525.4,184.2 526.9,184.2 528.4,184.2 529.9,184.3 531.5,184.3 533.0,184.4 534.5,184.4 536.1,184.5 537.6,184.5 539.1,184.5 540.7,184.6 542.2,184.6 543.7,184.7 545.3,184.7 546.8,184.7 548.3,184.8 549.8,184.8 551.4,184.8 552.9,184.9 554.4,184.9 556.0,185.0 557.5,185.0" fill="none" stroke="#000" stroke-width="1.0" stroke-linejoin="round"/><path d="M432.3 172.7a1.20 1.20 0 1 0 2.40 0a1.20 1.20 0 1 0 -2.40 0zM432.8 173.0a1.20 1.20 0 1 0 2.40 0a1.20 1.20 0 1 0 -2.40 0zM433.5 173.9a1.20 1.20 0 1 0 2.40 0a1.20 1.20 0 1 0 -2.40 0zM434.2 175.4a1.20 1.20 0 1 0 2.40 0a1.20 1.20 0 1 0 -2.40 0zM435.4 175.2a1.20 1.20 0 1 0 2.40 0a1.20 1.20 0 1 0 -2.40 0zM435.8 175.9a1.20 1.20 0 1 0 2.40 0a1.20 1.20 0 1 0 -2.40 0zM436.5 176.6a1.20 1.20 0 1 0 2.40 0a1.20 1.20 0 1 0 -2.40 0zM436.9 175.8a1.20 1.20 0 1 0 2.40 0a1.20 1.20 0 1 0 -2.40 0zM437.8 176.5a1.20 1.20 0 1 0 2.40 0a1.20 1.20 0 1 0 -2.40 0zM438.0 176.5a1.20 1.20 0 1 0 2.40 0a1.20 1.20 0 1 0 -2.40 0zM438.6 177.1a1.20 1.20 0 1 0 2.40 0a1.20 1.20 0 1 0 -2.40 0zM440.0 178.1a1.20 1.20 0 1 0 2.40 0a1.20 1.20 0 1 0 -2.40 0zM440.0 177.8a1.20 1.20 0 1 0 2.40 0a1.20 1.20 0 1 0 -2.40 0zM441.4 178.3a1.20 1.20 0 1 0 2.40 0a1.20 1.20 0 1 0 -2.40 0zM441.9 179.1a1.20 1.20 0 1 0 2.40 0a1.20 1.20 0 1 0 -2.40 0zM442.6 179.0a1.20 1.20 0 1 0 2.40 0a1.20 1.20 0 1 0 -2.40 0zM442.7 179.1a1.20 1.20 0 1 0 2.40 0a1.20 1.20 0 1 0 -2.40 0zM443.5 178.9a1.20 1.20 0 1 0 2.40 0a1.20 1.20 0 1 0 -2.40 0zM444.6 179.6a1.20 1.20 0 1 0 2.40 0a1.20 1.20 0 1 0 -2.40 0zM445.0 179.7a1.20 1.20 0 1 0 2.40 0a1.20 1.20 0 1 0 -2.40 0zM445.8 180.1a1.20 1.20 0 1 0 2.40 0a1.20 1.20 0 1 0 -2.40 0zM446.1 179.4a1.20 1.20 0 1 0 2.40 0a1.20 1.20 0 1 0 -2.40 0zM446.8 179.8a1.20 1.20 0 1 0 2.40 0a1.20 1.20 0 1 0 -2.40 0zM447.7 180.5a1.20 1.20 0 1 0 2.40 0a1.20 1.20 0 1 0 -2.40 0zM448.6 181.4a1.20 1.20 0 1 0 2.40 0a1.20 1.20 0 1 0 -2.40 0zM449.1 180.9a1.20 1.20 0 1 0 2.40 0a1.20 1.20 0 1 0 -2.40 0zM449.4 180.3a1.20 1.20 0 1 0 2.40 0a1.20 1.20 0 1 0 -2.40 0zM450.7 180.8a1.20 1.20 0 1 0 2.40 0a1.20 1.20 0 1 0 -2.40 0zM450.8 181.4a1.20 1.20 0 1 0 2.40 0a1.20 1.20 0 1 0 -2.40 0zM451.7 180.9a1.20 1.20 0 1 0 2.40 0a1.20 1.20 0 1 0 -2.40 0zM452.5 181.4a1.20 1.20 0 1 0 2.40 0a1.20 1.20 0 1 0 -2.40 0zM452.9 181.1a1.20 1.20 0 1 0 2.40 0a1.20 1.20 0 1 0 -2.40 0zM453.7 180.9a1.20 1.20 0 1 0 2.40 0a1.20 1.20 0 1 0 -2.40 0zM454.7 181.4a1.20 1.20 0 1 0 2.40 0a1.20 1.20 0 1 0 -2.40 0zM455.1 182.2a1.20 1.20 0 1 0 2.40 0a1.20 1.20 0 1 0 -2.40 0zM455.8 181.6a1.20 1.20 0 1 0 2.40 0a1.20 1.20 0 1 0 -2.40 0zM456.8 182.0a1.20 1.20 0 1 0 2.40 0a1.20 1.20 0 1 0 -2.40 0zM456.9 182.2a1.20 1.20 0 1 0 2.40 0a1.20 1.20 0 1 0 -2.40 0zM458.1 181.5a1.20 1.20 0 1 0 2.40 0a1.20 1.20 0 1 0 -2.40 0zM458.3 181.0a1.20 1.20 0 1 0 2.40 0a1.20 1.20 0 1 0 -2.40 0zM459.0 181.9a1.20 1.20 0 1 0 2.40 0a1.20 1.20 0 1 0 -2.40 0zM460.1 182.8a1.20 1.20 0 1 0 2.40 0a1.20 1.20 0 1 0 -2.40 0zM460.1 182.4a1.20 1.20 0 1 0 2.40 0a1.20 1.20 0 1 0 -2.40 0zM461.4 182.2a1.20 1.20 0 1 0 2.40 0a1.20 1.20 0 1 0 -2.40 0zM462.1 182.1a1.20 1.20 0 1 0 2.40 0a1.20 1.20 0 1 0 -2.40 0zM462.8 181.8a1.20 1.20 0 1 0 2.40 0a1.20 1.20 0 1 0 -2.40 0zM462.8 182.7a1.20 1.20 0 1 0 2.40 0a1.20 1.20 0 1 0 -2.40 0zM463.6 183.0a1.20 1.20 0 1 0 2.40 0a1.20 1.20 0 1 0 -2.40 0zM464.7 182.7a1.20 1.20 0 1 0 2.40 0a1.20 1.20 0 1 0 -2.40 0zM465.1 182.1a1.20 1.20 0 1 0 2.40 0a1.20 1.20 0 1 0 -2.40 0zM465.4 181.7a1.20 1.20 0 1 0 2.40 0a1.20 1.20 0 1 0 -2.40 0zM466.6 181.7a1.20 1.20 0 1 0 2.40 0a1.20 1.20 0 1 0 -2.40 0zM467.4 181.7a1.20 1.20 0 1 0 2.40 0a1.20 1.20 0 1 0 -2.40 0zM468.2 182.4a1.20 1.20 0 1 0 2.40 0a1.20 1.20 0 1 0 -2.40 0zM468.2 182.1a1.20 1.20 0 1 0 2.40 0a1.20 1.20 0 1 0 -2.40 0zM469.0 182.2a1.20 1.20 0 1 0 2.40 0a1.20 1.20 0 1 0 -2.40 0zM470.1 182.8a1.20 1.20 0 1 0 2.40 0a1.20 1.20 0 1 0 -2.40 0zM470.2 182.6a1.20 1.20 0 1 0 2.40 0a1.20 1.20 0 1 0 -2.40 0zM471.0 182.7a1.20 1.20 0 1 0 2.40 0a1.20 1.20 0 1 0 -2.40 0zM471.8 183.1a1.20 1.20 0 1 0 2.40 0a1.20 1.20 0 1 0 -2.40 0zM472.5 182.8a1.20 1.20 0 1 0 2.40 0a1.20 1.20 0 1 0 -2.40 0zM473.2 182.0a1.20 1.20 0 1 0 2.40 0a1.20 1.20 0 1 0 -2.40 0zM474.2 182.4a1.20 1.20 0 1 0 2.40 0a1.20 1.20 0 1 0 -2.40 0zM474.6 182.7a1.20 1.20 0 1 0 2.40 0a1.20 1.20 0 1 0 -2.40 0zM475.3 182.8a1.20 1.20 0 1 0 2.40 0a1.20 1.20 0 1 0 -2.40 0zM475.9 182.4a1.20 1.20 0 1 0 2.40 0a1.20 1.20 0 1 0 -2.40 0zM476.3 182.7a1.20 1.20 0 1 0 2.40 0a1.20 1.20 0 1 0 -2.40 0zM477.2 183.5a1.20 1.20 0 1 0 2.40 0a1.20 1.20 0 1 0 -2.40 0zM478.3 182.4a1.20 1.20 0 1 0 2.40 0a1.20 1.20 0 1 0 -2.40 0zM478.9 182.5a1.20 1.20 0 1 0 2.40 0a1.20 1.20 0 1 0 -2.40 0zM479.4 183.0a1.20 1.20 0 1 0 2.40 0a1.20 1.20 0 1 0 -2.40 0zM479.9 182.7a1.20 1.20 0 1 0 2.40 0a1.20 1.20 0 1 0 -2.40 0zM480.9 182.7a1.20 1.20 0 1 0 2.40 0a1.20 1.20 0 1 0 -2.40 0zM481.3 183.1a1.20 1.20 0 1 0 2.40 0a1.20 1.20 0 1 0 -2.40 0zM481.8 183.3a1.20 1.20 0 1 0 2.40 0a1.20 1.20 0 1 0 -2.40 0zM482.6 182.8a1.20 1.20 0 1 0 2.40 0a1.20 1.20 0 1 0 -2.40 0zM483.0 182.2a1.20 1.20 0 1 0 2.40 0a1.20 1.20 0 1 0 -2.40 0zM484.0 182.3a1.20 1.20 0 1 0 2.40 0a1.20 1.20 0 1 0 -2.40 0zM484.4 182.9a1.20 1.20 0 1 0 2.40 0a1.20 1.20 0 1 0 -2.40 0zM485.5 182.4a1.20 1.20 0 1 0 2.40 0a1.20 1.20 0 1 0 -2.40 0zM486.2 183.0a1.20 1.20 0 1 0 2.40 0a1.20 1.20 0 1 0 -2.40 0zM487.0 182.7a1.20 1.20 0 1 0 2.40 0a1.20 1.20 0 1 0 -2.40 0zM487.5 182.9a1.20 1.20 0 1 0 2.40 0a1.20 1.20 0 1 0 -2.40 0zM487.6 182.9a1.20 1.20 0 1 0 2.40 0a1.20 1.20 0 1 0 -2.40 0zM488.8 183.2a1.20 1.20 0 1 0 2.40 0a1.20 1.20 0 1 0 -2.40 0zM489.5 182.9a1.20 1.20 0 1 0 2.40 0a1.20 1.20 0 1 0 -2.40 0zM490.2 183.1a1.20 1.20 0 1 0 2.40 0a1.20 1.20 0 1 0 -2.40 0zM490.6 182.6a1.20 1.20 0 1 0 2.40 0a1.20 1.20 0 1 0 -2.40 0zM491.3 183.1a1.20 1.20 0 1 0 2.40 0a1.20 1.20 0 1 0 -2.40 0zM492.0 183.0a1.20 1.20 0 1 0 2.40 0a1.20 1.20 0 1 0 -2.40 0zM492.3 183.3a1.20 1.20 0 1 0 2.40 0a1.20 1.20 0 1 0 -2.40 0zM493.7 184.1a1.20 1.20 0 1 0 2.40 0a1.20 1.20 0 1 0 -2.40 0zM494.4 183.2a1.20 1.20 0 1 0 2.40 0a1.20 1.20 0 1 0 -2.40 0zM494.4 183.1a1.20 1.20 0 1 0 2.40 0a1.20 1.20 0 1 0 -2.40 0zM495.7 184.2a1.20 1.20 0 1 0 2.40 0a1.20 1.20 0 1 0 -2.40 0zM495.7 182.6a1.20 1.20 0 1 0 2.40 0a1.20 1.20 0 1 0 -2.40 0zM496.3 182.8a1.20 1.20 0 1 0 2.40 0a1.20 1.20 0 1 0 -2.40 0zM497.5 183.7a1.20 1.20 0 1 0 2.40 0a1.20 1.20 0 1 0 -2.40 0zM498.2 183.7a1.20 1.20 0 1 0 2.40 0a1.20 1.20 0 1 0 -2.40 0zM498.4 182.8a1.20 1.20 0 1 0 2.40 0a1.20 1.20 0 1 0 -2.40 0zM499.7 183.8a1.20 1.20 0 1 0 2.40 0a1.20 1.20 0 1 0 -2.40 0zM499.9 184.0a1.20 1.20 0 1 0 2.40 0a1.20 1.20 0 1 0 -2.40 0zM500.4 183.3a1.20 1.20 0 1 0 2.40 0a1.20 1.20 0 1 0 -2.40 0zM501.2 183.1a1.20 1.20 0 1 0 2.40 0a1.20 1.20 0 1 0 -2.40 0zM501.7 183.2a1.20 1.20 0 1 0 2.40 0a1.20 1.20 0 1 0 -2.40 0zM502.9 183.6a1.20 1.20 0 1 0 2.40 0a1.20 1.20 0 1 0 -2.40 0zM503.2 183.9a1.20 1.20 0 1 0 2.40 0a1.20 1.20 0 1 0 -2.40 0zM504.2 183.9a1.20 1.20 0 1 0 2.40 0a1.20 1.20 0 1 0 -2.40 0zM504.7 183.4a1.20 1.20 0 1 0 2.40 0a1.20 1.20 0 1 0 -2.40 0zM505.1 184.1a1.20 1.20 0 1 0 2.40 0a1.20 1.20 0 1 0 -2.40 0zM506.1 183.4a1.20 1.20 0 1 0 2.40 0a1.20 1.20 0 1 0 -2.40 0zM507.1 184.1a1.20 1.20 0 1 0 2.40 0a1.20 1.20 0 1 0 -2.40 0zM507.1 183.3a1.20 1.20 0 1 0 2.40 0a1.20 1.20 0 1 0 -2.40 0zM508.4 183.0a1.20 1.20 0 1 0 2.40 0a1.20 1.20 0 1 0 -2.40 0zM508.4 183.9a1.20 1.20 0 1 0 2.40 0a1.20 1.20 0 1 0 -2.40 0zM509.4 182.9a1.20 1.20 0 1 0 2.40 0a1.20 1.20 0 1 0 -2.40 0zM509.8 183.5a1.20 1.20 0 1 0 2.40 0a1.20 1.20 0 1 0 -2.40 0zM511.1 183.7a1.20 1.20 0 1 0 2.40 0a1.20 1.20 0 1 0 -2.40 0zM511.4 183.4a1.20 1.20 0 1 0 2.40 0a1.20 1.20 0 1 0 -2.40 0zM512.4 183.2a1.20 1.20 0 1 0 2.40 0a1.20 1.20 0 1 0 -2.40 0zM512.9 184.0a1.20 1.20 0 1 0 2.40 0a1.20 1.20 0 1 0 -2.40 0zM513.4 183.8a1.20 1.20 0 1 0 2.40 0a1.20 1.20 0 1 0 -2.40 0zM513.9 183.4a1.20 1.20 0 1 0 2.40 0a1.20 1.20 0 1 0 -2.40 0zM515.0 183.7a1.20 1.20 0 1 0 2.40 0a1.20 1.20 0 1 0 -2.40 0zM515.7 184.8a1.20 1.20 0 1 0 2.40 0a1.20 1.20 0 1 0 -2.40 0zM516.3 184.1a1.20 1.20 0 1 0 2.40 0a1.20 1.20 0 1 0 -2.40 0zM517.0 185.1a1.20 1.20 0 1 0 2.40 0a1.20 1.20 0 1 0 -2.40 0zM517.1 183.7a1.20 1.20 0 1 0 2.40 0a1.20 1.20 0 1 0 -2.40 0zM517.9 184.0a1.20 1.20 0 1 0 2.40 0a1.20 1.20 0 1 0 -2.40 0zM518.8 182.8a1.20 1.20 0 1 0 2.40 0a1.20 1.20 0 1 0 -2.40 0zM519.1 183.3a1.20 1.20 0 1 0 2.40 0a1.20 1.20 0 1 0 -2.40 0zM520.2 184.4a1.20 1.20 0 1 0 2.40 0a1.20 1.20 0 1 0 -2.40 0zM521.1 184.4a1.20 1.20 0 1 0 2.40 0a1.20 1.20 0 1 0 -2.40 0zM521.3 184.0a1.20 1.20 0 1 0 2.40 0a1.20 1.20 0 1 0 -2.40 0zM522.3 184.3a1.20 1.20 0 1 0 2.40 0a1.20 1.20 0 1 0 -2.40 0zM522.5 184.7a1.20 1.20 0 1 0 2.40 0a1.20 1.20 0 1 0 -2.40 0zM523.7 183.8a1.20 1.20 0 1 0 2.40 0a1.20 1.20 0 1 0 -2.40 0zM524.4 183.6a1.20 1.20 0 1 0 2.40 0a1.20 1.20 0 1 0 -2.40 0zM525.0 184.2a1.20 1.20 0 1 0 2.40 0a1.20 1.20 0 1 0 -2.40 0zM525.4 184.3a1.20 1.20 0 1 0 2.40 0a1.20 1.20 0 1 0 -2.40 0zM526.0 183.9a1.20 1.20 0 1 0 2.40 0a1.20 1.20 0 1 0 -2.40 0zM526.5 184.2a1.20 1.20 0 1 0 2.40 0a1.20 1.20 0 1 0 -2.40 0zM527.8 183.8a1.20 1.20 0 1 0 2.40 0a1.20 1.20 0 1 0 -2.40 0zM528.5 184.4a1.20 1.20 0 1 0 2.40 0a1.20 1.20 0 1 0 -2.40 0zM528.9 184.0a1.20 1.20 0 1 0 2.40 0a1.20 1.20 0 1 0 -2.40 0zM529.7 184.6a1.20 1.20 0 1 0 2.40 0a1.20 1.20 0 1 0 -2.40 0zM529.9 184.9a1.20 1.20 0 1 0 2.40 0a1.20 1.20 0 1 0 -2.40 0zM531.0 184.7a1.20 1.20 0 1 0 2.40 0a1.20 1.20 0 1 0 -2.40 0zM531.3 184.0a1.20 1.20 0 1 0 2.40 0a1.20 1.20 0 1 0 -2.40 0zM532.4 183.9a1.20 1.20 0 1 0 2.40 0a1.20 1.20 0 1 0 -2.40 0zM532.5 183.9a1.20 1.20 0 1 0 2.40 0a1.20 1.20 0 1 0 -2.40 0zM533.4 184.2a1.20 1.20 0 1 0 2.40 0a1.20 1.20 0 1 0 -2.40 0zM534.0 184.3a1.20 1.20 0 1 0 2.40 0a1.20 1.20 0 1 0 -2.40 0zM534.5 184.7a1.20 1.20 0 1 0 2.40 0a1.20 1.20 0 1 0 -2.40 0zM535.3 184.3a1.20 1.20 0 1 0 2.40 0a1.20 1.20 0 1 0 -2.40 0zM536.5 184.2a1.20 1.20 0 1 0 2.40 0a1.20 1.20 0 1 0 -2.40 0zM536.7 183.9a1.20 1.20 0 1 0 2.40 0a1.20 1.20 0 1 0 -2.40 0zM537.2 184.9a1.20 1.20 0 1 0 2.40 0a1.20 1.20 0 1 0 -2.40 0zM538.3 185.4a1.20 1.20 0 1 0 2.40 0a1.20 1.20 0 1 0 -2.40 0zM539.1 184.5a1.20 1.20 0 1 0 2.40 0a1.20 1.20 0 1 0 -2.40 0zM539.4 184.6a1.20 1.20 0 1 0 2.40 0a1.20 1.20 0 1 0 -2.40 0zM540.6 184.9a1.20 1.20 0 1 0 2.40 0a1.20 1.20 0 1 0 -2.40 0zM541.0 184.4a1.20 1.20 0 1 0 2.40 0a1.20 1.20 0 1 0 -2.40 0zM541.6 185.7a1.20 1.20 0 1 0 2.40 0a1.20 1.20 0 1 0 -2.40 0zM542.5 184.6a1.20 1.20 0 1 0 2.40 0a1.20 1.20 0 1 0 -2.40 0zM543.1 184.6a1.20 1.20 0 1 0 2.40 0a1.20 1.20 0 1 0 -2.40 0zM543.6 184.3a1.20 1.20 0 1 0 2.40 0a1.20 1.20 0 1 0 -2.40 0zM544.0 184.9a1.20 1.20 0 1 0 2.40 0a1.20 1.20 0 1 0 -2.40 0zM544.9 184.3a1.20 1.20 0 1 0 2.40 0a1.20 1.20 0 1 0 -2.40 0zM545.7 184.7a1.20 1.20 0 1 0 2.40 0a1.20 1.20 0 1 0 -2.40 0zM546.6 184.7a1.20 1.20 0 1 0 2.40 0a1.20 1.20 0 1 0 -2.40 0zM547.3 184.5a1.20 1.20 0 1 0 2.40 0a1.20 1.20 0 1 0 -2.40 0zM547.2 184.9a1.20 1.20 0 1 0 2.40 0a1.20 1.20 0 1 0 -2.40 0zM548.3 184.4a1.20 1.20 0 1 0 2.40 0a1.20 1.20 0 1 0 -2.40 0zM549.3 185.9a1.20 1.20 0 1 0 2.40 0a1.20 1.20 0 1 0 -2.40 0zM549.5 183.6a1.20 1.20 0 1 0 2.40 0a1.20 1.20 0 1 0 -2.40 0zM550.5 184.0a1.20 1.20 0 1 0 2.40 0a1.20 1.20 0 1 0 -2.40 0zM550.7 185.2a1.20 1.20 0 1 0 2.40 0a1.20 1.20 0 1 0 -2.40 0zM551.9 184.9a1.20 1.20 0 1 0 2.40 0a1.20 1.20 0 1 0 -2.40 0zM552.0 184.4a1.20 1.20 0 1 0 2.40 0a1.20 1.20 0 1 0 -2.40 0zM552.8 185.3a1.20 1.20 0 1 0 2.40 0a1.20 1.20 0 1 0 -2.40 0zM553.4 185.3a1.20 1.20 0 1 0 2.40 0a1.20 1.20 0 1 0 -2.40 0zM554.0 185.1a1.20 1.20 0 1 0 2.40 0a1.20 1.20 0 1 0 -2.40 0zM555.1 184.8a1.20 1.20 0 1 0 2.40 0a1.20 1.20 0 1 0 -2.40 0zM555.9 185.4a1.20 1.20 0 1 0 2.40 0a1.20 1.20 0 1 0 -2.40 0zM556.0 184.9a1.20 1.20 0 1 0 2.40 0a1.20 1.20 0 1 0 -2.40 0z" fill="#000"/>
<polyline points="433.5,100.5 435.0,101.8 436.6,102.8 438.1,103.7 439.6,104.4 441.2,104.9 442.7,105.5 444.2,106.0 445.7,106.4 447.3,106.8 448.8,107.2 450.3,107.6 451.9,107.9 453.4,108.3 454.9,108.6 456.5,109.0 458.0,109.3 459.5,109.5 461.1,109.8 462.6,110.0 464.1,110.1 465.6,110.2 467.2,110.3 468.7,110.4 470.2,110.5 471.8,110.6 473.3,110.7 474.8,110.8 476.4,110.9 477.9,110.9 479.4,111.0 481.0,111.1 482.5,111.1 484.0,111.2 485.5,111.3 487.1,111.4 488.6,111.4 490.1,111.5 491.7,111.6 493.2,111.7 494.7,111.7 496.3,111.8 497.8,111.9 499.3,111.9 500.9,112.0 502.4,112.1 503.9,112.1 505.5,112.2 507.0,112.3 508.5,112.4 510.0,112.4 511.6,112.5 513.1,112.6 514.6,112.7 516.2,112.8 517.7,112.8 519.2,112.9 520.8,113.1 522.3,113.2 523.8,113.3 525.4,113.5 526.9,113.6 528.4,113.8 529.9,113.9 531.5,114.1 533.0,114.3 534.5,114.4 536.1,114.6 537.6,114.8 539.1,114.9 540.7,115.1 542.2,115.2 543.7,115.3 545.3,115.5 546.8,115.6 548.3,115.7 549.8,115.9 551.4,116.0 552.9,116.1 554.4,116.2 556.0,116.3 557.5,116.5" fill="none" stroke="#e8183c" stroke-width="1.3" stroke-linejoin="round"/><path d="M432.2 99.9a1.40 1.40 0 1 0 2.80 0a1.40 1.40 0 1 0 -2.80 0zM433.1 99.8a1.40 1.40 0 1 0 2.80 0a1.40 1.40 0 1 0 -2.80 0zM433.7 100.9a1.40 1.40 0 1 0 2.80 0a1.40 1.40 0 1 0 -2.80 0zM433.9 101.9a1.40 1.40 0 1 0 2.80 0a1.40 1.40 0 1 0 -2.80 0zM434.6 102.2a1.40 1.40 0 1 0 2.80 0a1.40 1.40 0 1 0 -2.80 0zM435.8 103.2a1.40 1.40 0 1 0 2.80 0a1.40 1.40 0 1 0 -2.80 0zM435.7 101.7a1.40 1.40 0 1 0 2.80 0a1.40 1.40 0 1 0 -2.80 0zM437.0 103.9a1.40 1.40 0 1 0 2.80 0a1.40 1.40 0 1 0 -2.80 0zM437.7 103.3a1.40 1.40 0 1 0 2.80 0a1.40 1.40 0 1 0 -2.80 0zM438.1 104.8a1.40 1.40 0 1 0 2.80 0a1.40 1.40 0 1 0 -2.80 0zM438.6 104.4a1.40 1.40 0 1 0 2.80 0a1.40 1.40 0 1 0 -2.80 0zM439.3 104.5a1.40 1.40 0 1 0 2.80 0a1.40 1.40 0 1 0 -2.80 0zM439.9 105.5a1.40 1.40 0 1 0 2.80 0a1.40 1.40 0 1 0 -2.80 0zM440.8 105.0a1.40 1.40 0 1 0 2.80 0a1.40 1.40 0 1 0 -2.80 0zM441.5 106.1a1.40 1.40 0 1 0 2.80 0a1.40 1.40 0 1 0 -2.80 0zM442.2 106.0a1.40 1.40 0 1 0 2.80 0a1.40 1.40 0 1 0 -2.80 0zM443.2 105.9a1.40 1.40 0 1 0 2.80 0a1.40 1.40 0 1 0 -2.80 0zM443.7 105.7a1.40 1.40 0 1 0 2.80 0a1.40 1.40 0 1 0 -2.80 0zM444.3 106.1a1.40 1.40 0 1 0 2.80 0a1.40 1.40 0 1 0 -2.80 0zM445.2 106.2a1.40 1.40 0 1 0 2.80 0a1.40 1.40 0 1 0 -2.80 0zM445.3 107.6a1.40 1.40 0 1 0 2.80 0a1.40 1.40 0 1 0 -2.80 0zM445.9 108.0a1.40 1.40 0 1 0 2.80 0a1.40 1.40 0 1 0 -2.80 0zM446.9 107.6a1.40 1.40 0 1 0 2.80 0a1.40 1.40 0 1 0 -2.80 0zM447.2 106.5a1.40 1.40 0 1 0 2.80 0a1.40 1.40 0 1 0 -2.80 0zM447.8 107.0a1.40 1.40 0 1 0 2.80 0a1.40 1.40 0 1 0 -2.80 0zM448.9 107.1a1.40 1.40 0 1 0 2.80 0a1.40 1.40 0 1 0 -2.80 0zM449.5 106.9a1.40 1.40 0 1 0 2.80 0a1.40 1.40 0 1 0 -2.80 0zM450.5 107.7a1.40 1.40 0 1 0 2.80 0a1.40 1.40 0 1 0 -2.80 0zM451.0 108.1a1.40 1.40 0 1 0 2.80 0a1.40 1.40 0 1 0 -2.80 0zM451.5 108.1a1.40 1.40 0 1 0 2.80 0a1.40 1.40 0 1 0 -2.80 0zM452.2 108.9a1.40 1.40 0 1 0 2.80 0a1.40 1.40 0 1 0 -2.80 0zM452.7 109.1a1.40 1.40 0 1 0 2.80 0a1.40 1.40 0 1 0 -2.80 0zM453.2 108.2a1.40 1.40 0 1 0 2.80 0a1.40 1.40 0 1 0 -2.80 0zM454.0 108.6a1.40 1.40 0 1 0 2.80 0a1.40 1.40 0 1 0 -2.80 0zM455.0 109.4a1.40 1.40 0 1 0 2.80 0a1.40 1.40 0 1 0 -2.80 0zM455.3 108.5a1.40 1.40 0 1 0 2.80 0a1.40 1.40 0 1 0 -2.80 0zM456.1 109.5a1.40 1.40 0 1 0 2.80 0a1.40 1.40 0 1 0 -2.80 0zM456.5 109.4a1.40 1.40 0 1 0 2.80 0a1.40 1.40 0 1 0 -2.80 0zM457.8 110.1a1.40 1.40 0 1 0 2.80 0a1.40 1.40 0 1 0 -2.80 0zM458.0 108.9a1.40 1.40 0 1 0 2.80 0a1.40 1.40 0 1 0 -2.80 0zM458.7 109.5a1.40 1.40 0 1 0 2.80 0a1.40 1.40 0 1 0 -2.80 0zM459.9 109.7a1.40 1.40 0 1 0 2.80 0a1.40 1.40 0 1 0 -2.80 0zM460.3 110.7a1.40 1.40 0 1 0 2.80 0a1.40 1.40 0 1 0 -2.80 0zM461.2 110.7a1.40 1.40 0 1 0 2.80 0a1.40 1.40 0 1 0 -2.80 0zM461.7 109.0a1.40 1.40 0 1 0 2.80 0a1.40 1.40 0 1 0 -2.80 0zM462.5 110.9a1.40 1.40 0 1 0 2.80 0a1.40 1.40 0 1 0 -2.80 0zM462.6 111.0a1.40 1.40 0 1 0 2.80 0a1.40 1.40 0 1 0 -2.80 0zM463.6 111.4a1.40 1.40 0 1 0 2.80 0a1.40 1.40 0 1 0 -2.80 0zM464.3 109.5a1.40 1.40 0 1 0 2.80 0a1.40 1.40 0 1 0 -2.80 0zM465.2 109.3a1.40 1.40 0 1 0 2.80 0a1.40 1.40 0 1 0 -2.80 0zM465.5 110.2a1.40 1.40 0 1 0 2.80 0a1.40 1.40 0 1 0 -2.80 0zM466.4 110.8a1.40 1.40 0 1 0 2.80 0a1.40 1.40 0 1 0 -2.80 0zM466.6 110.5a1.40 1.40 0 1 0 2.80 0a1.40 1.40 0 1 0 -2.80 0zM467.5 111.8a1.40 1.40 0 1 0 2.80 0a1.40 1.40 0 1 0 -2.80 0zM468.2 110.1a1.40 1.40 0 1 0 2.80 0a1.40 1.40 0 1 0 -2.80 0zM468.7 110.2a1.40 1.40 0 1 0 2.80 0a1.40 1.40 0 1 0 -2.80 0zM469.9 109.9a1.40 1.40 0 1 0 2.80 0a1.40 1.40 0 1 0 -2.80 0zM470.2 110.8a1.40 1.40 0 1 0 2.80 0a1.40 1.40 0 1 0 -2.80 0zM471.4 110.3a1.40 1.40 0 1 0 2.80 0a1.40 1.40 0 1 0 -2.80 0zM471.7 110.1a1.40 1.40 0 1 0 2.80 0a1.40 1.40 0 1 0 -2.80 0zM472.4 110.5a1.40 1.40 0 1 0 2.80 0a1.40 1.40 0 1 0 -2.80 0zM473.1 111.2a1.40 1.40 0 1 0 2.80 0a1.40 1.40 0 1 0 -2.80 0zM473.8 111.1a1.40 1.40 0 1 0 2.80 0a1.40 1.40 0 1 0 -2.80 0zM474.0 110.4a1.40 1.40 0 1 0 2.80 0a1.40 1.40 0 1 0 -2.80 0zM474.9 110.5a1.40 1.40 0 1 0 2.80 0a1.40 1.40 0 1 0 -2.80 0zM475.5 111.0a1.40 1.40 0 1 0 2.80 0a1.40 1.40 0 1 0 -2.80 0zM476.3 110.2a1.40 1.40 0 1 0 2.80 0a1.40 1.40 0 1 0 -2.80 0zM476.7 110.2a1.40 1.40 0 1 0 2.80 0a1.40 1.40 0 1 0 -2.80 0zM478.1 110.6a1.40 1.40 0 1 0 2.80 0a1.40 1.40 0 1 0 -2.80 0zM478.1 110.6a1.40 1.40 0 1 0 2.80 0a1.40 1.40 0 1 0 -2.80 0zM479.2 109.9a1.40 1.40 0 1 0 2.80 0a1.40 1.40 0 1 0 -2.80 0zM479.5 111.5a1.40 1.40 0 1 0 2.80 0a1.40 1.40 0 1 0 -2.80 0zM480.7 111.6a1.40 1.40 0 1 0 2.80 0a1.40 1.40 0 1 0 -2.80 0zM481.2 110.3a1.40 1.40 0 1 0 2.80 0a1.40 1.40 0 1 0 -2.80 0zM481.4 110.4a1.40 1.40 0 1 0 2.80 0a1.40 1.40 0 1 0 -2.80 0zM482.6 111.5a1.40 1.40 0 1 0 2.80 0a1.40 1.40 0 1 0 -2.80 0zM483.4 110.2a1.40 1.40 0 1 0 2.80 0a1.40 1.40 0 1 0 -2.80 0zM484.0 110.9a1.40 1.40 0 1 0 2.80 0a1.40 1.40 0 1 0 -2.80 0zM484.4 110.5a1.40 1.40 0 1 0 2.80 0a1.40 1.40 0 1 0 -2.80 0zM484.8 111.1a1.40 1.40 0 1 0 2.80 0a1.40 1.40 0 1 0 -2.80 0zM485.5 111.8a1.40 1.40 0 1 0 2.80 0a1.40 1.40 0 1 0 -2.80 0zM486.7 111.1a1.40 1.40 0 1 0 2.80 0a1.40 1.40 0 1 0 -2.80 0zM487.1 111.0a1.40 1.40 0 1 0 2.80 0a1.40 1.40 0 1 0 -2.80 0zM487.5 111.8a1.40 1.40 0 1 0 2.80 0a1.40 1.40 0 1 0 -2.80 0zM488.7 111.9a1.40 1.40 0 1 0 2.80 0a1.40 1.40 0 1 0 -2.80 0zM489.2 110.9a1.40 1.40 0 1 0 2.80 0a1.40 1.40 0 1 0 -2.80 0zM489.8 111.7a1.40 1.40 0 1 0 2.80 0a1.40 1.40 0 1 0 -2.80 0zM490.3 112.3a1.40 1.40 0 1 0 2.80 0a1.40 1.40 0 1 0 -2.80 0zM491.0 111.0a1.40 1.40 0 1 0 2.80 0a1.40 1.40 0 1 0 -2.80 0zM491.5 112.0a1.40 1.40 0 1 0 2.80 0a1.40 1.40 0 1 0 -2.80 0zM492.1 111.0a1.40 1.40 0 1 0 2.80 0a1.40 1.40 0 1 0 -2.80 0zM493.4 112.5a1.40 1.40 0 1 0 2.80 0a1.40 1.40 0 1 0 -2.80 0zM493.7 111.9a1.40 1.40 0 1 0 2.80 0a1.40 1.40 0 1 0 -2.80 0zM494.5 112.4a1.40 1.40 0 1 0 2.80 0a1.40 1.40 0 1 0 -2.80 0zM495.0 111.5a1.40 1.40 0 1 0 2.80 0a1.40 1.40 0 1 0 -2.80 0zM496.0 111.9a1.40 1.40 0 1 0 2.80 0a1.40 1.40 0 1 0 -2.80 0zM496.1 110.7a1.40 1.40 0 1 0 2.80 0a1.40 1.40 0 1 0 -2.80 0zM497.0 111.3a1.40 1.40 0 1 0 2.80 0a1.40 1.40 0 1 0 -2.80 0zM497.4 112.4a1.40 1.40 0 1 0 2.80 0a1.40 1.40 0 1 0 -2.80 0zM498.2 111.8a1.40 1.40 0 1 0 2.80 0a1.40 1.40 0 1 0 -2.80 0zM499.5 111.1a1.40 1.40 0 1 0 2.80 0a1.40 1.40 0 1 0 -2.80 0zM499.9 111.7a1.40 1.40 0 1 0 2.80 0a1.40 1.40 0 1 0 -2.80 0zM500.4 112.2a1.40 1.40 0 1 0 2.80 0a1.40 1.40 0 1 0 -2.80 0zM501.2 112.4a1.40 1.40 0 1 0 2.80 0a1.40 1.40 0 1 0 -2.80 0zM502.1 111.6a1.40 1.40 0 1 0 2.80 0a1.40 1.40 0 1 0 -2.80 0zM502.4 111.3a1.40 1.40 0 1 0 2.80 0a1.40 1.40 0 1 0 -2.80 0zM503.2 112.5a1.40 1.40 0 1 0 2.80 0a1.40 1.40 0 1 0 -2.80 0zM504.0 112.7a1.40 1.40 0 1 0 2.80 0a1.40 1.40 0 1 0 -2.80 0zM504.4 112.4a1.40 1.40 0 1 0 2.80 0a1.40 1.40 0 1 0 -2.80 0zM505.2 113.3a1.40 1.40 0 1 0 2.80 0a1.40 1.40 0 1 0 -2.80 0zM506.0 112.8a1.40 1.40 0 1 0 2.80 0a1.40 1.40 0 1 0 -2.80 0zM506.8 112.5a1.40 1.40 0 1 0 2.80 0a1.40 1.40 0 1 0 -2.80 0zM506.9 112.2a1.40 1.40 0 1 0 2.80 0a1.40 1.40 0 1 0 -2.80 0zM508.2 112.9a1.40 1.40 0 1 0 2.80 0a1.40 1.40 0 1 0 -2.80 0zM508.1 112.5a1.40 1.40 0 1 0 2.80 0a1.40 1.40 0 1 0 -2.80 0zM509.4 112.0a1.40 1.40 0 1 0 2.80 0a1.40 1.40 0 1 0 -2.80 0zM510.1 113.0a1.40 1.40 0 1 0 2.80 0a1.40 1.40 0 1 0 -2.80 0zM510.2 113.0a1.40 1.40 0 1 0 2.80 0a1.40 1.40 0 1 0 -2.80 0zM511.1 113.0a1.40 1.40 0 1 0 2.80 0a1.40 1.40 0 1 0 -2.80 0zM512.1 113.2a1.40 1.40 0 1 0 2.80 0a1.40 1.40 0 1 0 -2.80 0zM512.1 112.0a1.40 1.40 0 1 0 2.80 0a1.40 1.40 0 1 0 -2.80 0zM513.3 112.0a1.40 1.40 0 1 0 2.80 0a1.40 1.40 0 1 0 -2.80 0zM514.1 111.5a1.40 1.40 0 1 0 2.80 0a1.40 1.40 0 1 0 -2.80 0zM514.6 112.9a1.40 1.40 0 1 0 2.80 0a1.40 1.40 0 1 0 -2.80 0zM515.4 113.1a1.40 1.40 0 1 0 2.80 0a1.40 1.40 0 1 0 -2.80 0zM515.7 112.9a1.40 1.40 0 1 0 2.80 0a1.40 1.40 0 1 0 -2.80 0zM516.3 112.6a1.40 1.40 0 1 0 2.80 0a1.40 1.40 0 1 0 -2.80 0zM517.1 112.8a1.40 1.40 0 1 0 2.80 0a1.40 1.40 0 1 0 -2.80 0zM517.6 112.6a1.40 1.40 0 1 0 2.80 0a1.40 1.40 0 1 0 -2.80 0zM518.4 114.1a1.40 1.40 0 1 0 2.80 0a1.40 1.40 0 1 0 -2.80 0zM519.6 112.8a1.40 1.40 0 1 0 2.80 0a1.40 1.40 0 1 0 -2.80 0zM520.0 113.1a1.40 1.40 0 1 0 2.80 0a1.40 1.40 0 1 0 -2.80 0zM520.4 112.1a1.40 1.40 0 1 0 2.80 0a1.40 1.40 0 1 0 -2.80 0zM521.1 114.0a1.40 1.40 0 1 0 2.80 0a1.40 1.40 0 1 0 -2.80 0zM522.3 113.8a1.40 1.40 0 1 0 2.80 0a1.40 1.40 0 1 0 -2.80 0zM522.5 112.6a1.40 1.40 0 1 0 2.80 0a1.40 1.40 0 1 0 -2.80 0zM523.6 113.3a1.40 1.40 0 1 0 2.80 0a1.40 1.40 0 1 0 -2.80 0zM523.9 113.7a1.40 1.40 0 1 0 2.80 0a1.40 1.40 0 1 0 -2.80 0zM524.6 114.8a1.40 1.40 0 1 0 2.80 0a1.40 1.40 0 1 0 -2.80 0zM525.6 113.2a1.40 1.40 0 1 0 2.80 0a1.40 1.40 0 1 0 -2.80 0zM526.1 112.8a1.40 1.40 0 1 0 2.80 0a1.40 1.40 0 1 0 -2.80 0zM526.7 114.3a1.40 1.40 0 1 0 2.80 0a1.40 1.40 0 1 0 -2.80 0zM527.2 112.4a1.40 1.40 0 1 0 2.80 0a1.40 1.40 0 1 0 -2.80 0zM528.3 113.2a1.40 1.40 0 1 0 2.80 0a1.40 1.40 0 1 0 -2.80 0zM528.5 114.1a1.40 1.40 0 1 0 2.80 0a1.40 1.40 0 1 0 -2.80 0zM529.6 113.9a1.40 1.40 0 1 0 2.80 0a1.40 1.40 0 1 0 -2.80 0zM529.6 114.5a1.40 1.40 0 1 0 2.80 0a1.40 1.40 0 1 0 -2.80 0zM530.6 113.2a1.40 1.40 0 1 0 2.80 0a1.40 1.40 0 1 0 -2.80 0zM531.3 115.0a1.40 1.40 0 1 0 2.80 0a1.40 1.40 0 1 0 -2.80 0zM532.3 113.8a1.40 1.40 0 1 0 2.80 0a1.40 1.40 0 1 0 -2.80 0zM532.4 115.3a1.40 1.40 0 1 0 2.80 0a1.40 1.40 0 1 0 -2.80 0zM533.6 114.4a1.40 1.40 0 1 0 2.80 0a1.40 1.40 0 1 0 -2.80 0zM534.1 114.5a1.40 1.40 0 1 0 2.80 0a1.40 1.40 0 1 0 -2.80 0zM534.8 113.5a1.40 1.40 0 1 0 2.80 0a1.40 1.40 0 1 0 -2.80 0zM535.4 114.3a1.40 1.40 0 1 0 2.80 0a1.40 1.40 0 1 0 -2.80 0zM536.4 114.2a1.40 1.40 0 1 0 2.80 0a1.40 1.40 0 1 0 -2.80 0zM536.5 114.9a1.40 1.40 0 1 0 2.80 0a1.40 1.40 0 1 0 -2.80 0zM537.3 114.8a1.40 1.40 0 1 0 2.80 0a1.40 1.40 0 1 0 -2.80 0zM537.8 113.8a1.40 1.40 0 1 0 2.80 0a1.40 1.40 0 1 0 -2.80 0zM538.3 116.1a1.40 1.40 0 1 0 2.80 0a1.40 1.40 0 1 0 -2.80 0zM539.1 115.7a1.40 1.40 0 1 0 2.80 0a1.40 1.40 0 1 0 -2.80 0zM540.3 116.0a1.40 1.40 0 1 0 2.80 0a1.40 1.40 0 1 0 -2.80 0zM541.0 114.7a1.40 1.40 0 1 0 2.80 0a1.40 1.40 0 1 0 -2.80 0zM541.0 114.8a1.40 1.40 0 1 0 2.80 0a1.40 1.40 0 1 0 -2.80 0zM542.1 114.5a1.40 1.40 0 1 0 2.80 0a1.40 1.40 0 1 0 -2.80 0zM542.7 114.6a1.40 1.40 0 1 0 2.80 0a1.40 1.40 0 1 0 -2.80 0zM543.4 114.4a1.40 1.40 0 1 0 2.80 0a1.40 1.40 0 1 0 -2.80 0zM544.2 115.6a1.40 1.40 0 1 0 2.80 0a1.40 1.40 0 1 0 -2.80 0zM544.6 114.8a1.40 1.40 0 1 0 2.80 0a1.40 1.40 0 1 0 -2.80 0zM545.7 114.6a1.40 1.40 0 1 0 2.80 0a1.40 1.40 0 1 0 -2.80 0zM546.0 116.3a1.40 1.40 0 1 0 2.80 0a1.40 1.40 0 1 0 -2.80 0zM546.8 115.2a1.40 1.40 0 1 0 2.80 0a1.40 1.40 0 1 0 -2.80 0zM547.5 115.0a1.40 1.40 0 1 0 2.80 0a1.40 1.40 0 1 0 -2.80 0zM547.8 116.0a1.40 1.40 0 1 0 2.80 0a1.40 1.40 0 1 0 -2.80 0zM548.4 114.7a1.40 1.40 0 1 0 2.80 0a1.40 1.40 0 1 0 -2.80 0zM549.3 116.0a1.40 1.40 0 1 0 2.80 0a1.40 1.40 0 1 0 -2.80 0zM550.3 115.7a1.40 1.40 0 1 0 2.80 0a1.40 1.40 0 1 0 -2.80 0zM551.0 116.0a1.40 1.40 0 1 0 2.80 0a1.40 1.40 0 1 0 -2.80 0zM551.6 116.2a1.40 1.40 0 1 0 2.80 0a1.40 1.40 0 1 0 -2.80 0zM551.8 116.1a1.40 1.40 0 1 0 2.80 0a1.40 1.40 0 1 0 -2.80 0zM553.1 115.7a1.40 1.40 0 1 0 2.80 0a1.40 1.40 0 1 0 -2.80 0zM553.7 116.7a1.40 1.40 0 1 0 2.80 0a1.40 1.40 0 1 0 -2.80 0zM554.4 116.8a1.40 1.40 0 1 0 2.80 0a1.40 1.40 0 1 0 -2.80 0zM554.8 115.8a1.40 1.40 0 1 0 2.80 0a1.40 1.40 0 1 0 -2.80 0zM555.8 115.4a1.40 1.40 0 1 0 2.80 0a1.40 1.40 0 1 0 -2.80 0zM555.7 115.8a1.40 1.40 0 1 0 2.80 0a1.40 1.40 0 1 0 -2.80 0z" fill="#e8183c"/>
<path d="M441.6 131.6h17.4" stroke="#00ff00" stroke-width="1.3"/><circle cx="450.3" cy="131.6" r="1.4" fill="#00ff00"/>
<text x="460.5" y="134.4" font-size="7.9" text-anchor="start" letter-spacing="0.05" fill="#1c1c1c" stroke="#1c1c1c" stroke-width="0.12" font-family='"Liberation Sans", sans-serif' >out of plane (ZFC)</text>
<path d="M441.6 139.9h17.4" stroke="#000" stroke-width="1.3"/><circle cx="450.3" cy="139.9" r="1.4" fill="#000"/>
<text x="460.5" y="142.7" font-size="7.9" text-anchor="start" letter-spacing="0.05" fill="#1c1c1c" stroke="#1c1c1c" stroke-width="0.12" font-family='"Liberation Sans", sans-serif' >out of plane (FC)</text>
<path d="M441.6 150h17.4" stroke="#ff00ff" stroke-width="1.3"/><circle cx="450.3" cy="150" r="1.4" fill="#ff00ff"/>
<text x="460.5" y="152.8" font-size="7.9" text-anchor="start" letter-spacing="0.05" fill="#1c1c1c" stroke="#1c1c1c" stroke-width="0.12" font-family='"Liberation Sans", sans-serif' >In plane (ZFC)</text>
<path d="M441.6 159.3h17.4" stroke="#e8183c" stroke-width="1.3"/><circle cx="450.3" cy="159.3" r="1.4" fill="#e8183c"/>
<text x="460.5" y="162.1" font-size="7.9" text-anchor="start" letter-spacing="0.05" fill="#1c1c1c" stroke="#1c1c1c" stroke-width="0.12" font-family='"Liberation Sans", sans-serif' >In plane (FC)</text>
<text x="431.5" y="111.7" font-size="7.6" text-anchor="end" fill="#1c1c1c" font-family='"Liberation Sans", sans-serif'><tspan letter-spacing="0">1.8x1</tspan><tspan>0</tspan><tspan font-size="4.8" dy="-3">-5</tspan></text>
<text x="431.5" y="132.5" font-size="7.6" text-anchor="end" fill="#1c1c1c" font-family='"Liberation Sans", sans-serif'><tspan letter-spacing="0">1.5x1</tspan><tspan>0</tspan><tspan font-size="4.8" dy="-3">-5</tspan></text>
<text x="431.5" y="152.4" font-size="7.6" text-anchor="end" fill="#1c1c1c" font-family='"Liberation Sans", sans-serif'><tspan letter-spacing="0">1.2x1</tspan><tspan>0</tspan><tspan font-size="4.8" dy="-3">-5</tspan></text>
<text x="431.5" y="172.1" font-size="7.6" text-anchor="end" fill="#1c1c1c" font-family='"Liberation Sans", sans-serif'><tspan letter-spacing="0">9.0x1</tspan><tspan>0</tspan><tspan font-size="4.8" dy="-3">-6</tspan></text>
<text x="431.5" y="191.0" font-size="7.6" text-anchor="end" fill="#1c1c1c" font-family='"Liberation Sans", sans-serif'><tspan letter-spacing="0">6.0x1</tspan><tspan>0</tspan><tspan font-size="4.8" dy="-3">-6</tspan></text>
<text x="432.7" y="204.8" font-size="7.8" text-anchor="middle" letter-spacing="0" fill="#1c1c1c" stroke="#1c1c1c" stroke-width="0.12" font-family='"Liberation Sans", sans-serif' >0</text>
<text x="450.6" y="204.8" font-size="7.8" text-anchor="middle" letter-spacing="0" fill="#1c1c1c" stroke="#1c1c1c" stroke-width="0.12" font-family='"Liberation Sans", sans-serif' >50</text>
<text x="468.6" y="204.8" font-size="7.8" text-anchor="middle" letter-spacing="0" fill="#1c1c1c" stroke="#1c1c1c" stroke-width="0.12" font-family='"Liberation Sans", sans-serif' >100</text>
<text x="486.5" y="204.8" font-size="7.8" text-anchor="middle" letter-spacing="0" fill="#1c1c1c" stroke="#1c1c1c" stroke-width="0.12" font-family='"Liberation Sans", sans-serif' >150</text>
<text x="504.4" y="204.8" font-size="7.8" text-anchor="middle" letter-spacing="0" fill="#1c1c1c" stroke="#1c1c1c" stroke-width="0.12" font-family='"Liberation Sans", sans-serif' >200</text>
<text x="522.3" y="204.8" font-size="7.8" text-anchor="middle" letter-spacing="0" fill="#1c1c1c" stroke="#1c1c1c" stroke-width="0.12" font-family='"Liberation Sans", sans-serif' >250</text>
<text x="540.3" y="204.8" font-size="7.8" text-anchor="middle" letter-spacing="0" fill="#1c1c1c" stroke="#1c1c1c" stroke-width="0.12" font-family='"Liberation Sans", sans-serif' >300</text>
<text x="558.2" y="204.8" font-size="7.8" text-anchor="middle" letter-spacing="0" fill="#1c1c1c" stroke="#1c1c1c" stroke-width="0.12" font-family='"Liberation Sans", sans-serif' >350</text>
<rect x="64" y="244" width="257" height="207" fill="none" stroke="#000" stroke-width="2" stroke-linejoin="round"/><path d="M106.8 451v-4.2M106.8 244v4.2M149.7 451v-4.2M149.7 244v4.2M192.5 451v-4.2M192.5 244v4.2M235.3 451v-4.2M235.3 244v4.2M278.2 451v-4.2M278.2 244v4.2M85.4 451v-2.6M85.4 244v2.6M128.2 451v-2.6M128.2 244v2.6M171.1 451v-2.6M171.1 244v2.6M213.9 451v-2.6M213.9 244v2.6M256.8 451v-2.6M256.8 244v2.6M299.6 451v-2.6M299.6 244v2.6M64 425.2h4.2M321 425.2h-4.2M64 399.4h4.2M321 399.4h-4.2M64 373.6h4.2M321 373.6h-4.2M64 347.7h4.2M321 347.7h-4.2M64 321.8h4.2M321 321.8h-4.2M64 296.0h4.2M321 296.0h-4.2M64 270.1h4.2M321 270.1h-4.2M64 438.2h2.6M321 438.2h-2.6M64 412.3h2.6M321 412.3h-2.6M64 386.5h2.6M321 386.5h-2.6M64 360.6h2.6M321 360.6h-2.6M64 334.8h2.6M321 334.8h-2.6M64 308.9h2.6M321 308.9h-2.6M64 283.1h2.6M321 283.1h-2.6M64 257.2h2.6M321 257.2h-2.6" stroke="#000" stroke-width="1.9" fill="none"/>
<polyline points="64.5,433.1 65.1,433.1 65.8,433.1 66.4,433.1 67.1,433.0 67.7,433.0 68.3,433.0 69.0,433.0 69.6,432.9 70.3,432.9 70.9,432.9 71.6,432.8 72.2,432.8 72.8,432.8 73.5,432.7 74.1,432.7 74.8,432.7 75.4,432.6 76.0,432.6 76.7,432.6 77.3,432.5 78.0,432.5 78.6,432.4 79.3,432.4 79.9,432.4 80.5,432.3 81.2,432.3 81.8,432.2 82.5,432.2 83.1,432.2 83.7,432.1 84.4,432.1 85.0,432.0 85.7,432.0 86.3,431.9 87.0,431.9 87.6,431.8 88.2,431.8 88.9,431.7 89.5,431.6 90.2,431.6 90.8,431.5 91.4,431.5 92.1,431.4 92.7,431.3 93.4,431.3 94.0,431.2 94.7,431.1 95.3,431.0 95.9,431.0 96.6,430.9 97.2,430.8 97.9,430.7 98.5,430.7 99.1,430.6 99.8,430.5 100.4,430.4 101.1,430.3 101.7,430.2 102.4,430.1 103.0,430.0 103.6,429.9 104.3,429.8 104.9,429.7 105.6,429.6 106.2,429.5 106.8,429.4 107.5,429.3 108.1,429.2 108.8,429.1 109.4,428.9 110.1,428.8 110.7,428.6 111.3,428.5 112.0,428.3 112.6,428.2 113.3,428.0 113.9,427.9 114.5,427.7 115.2,427.5 115.8,427.4 116.5,427.2 117.1,427.0 117.8,426.8 118.4,426.6 119.0,426.4 119.7,426.2 120.3,426.1 121.0,425.9 121.6,425.7 122.2,425.5 122.9,425.3 123.5,425.1 124.2,424.9 124.8,424.7 125.5,424.5 126.1,424.3 126.7,424.1 127.4,423.9 128.0,423.7 128.7,423.4 129.3,423.2 129.9,423.0 130.6,422.8 131.2,422.6 131.9,422.3 132.5,422.1 133.2,421.9 133.8,421.7 134.4,421.4 135.1,421.2 135.7,420.9 136.4,420.7 137.0,420.4 137.6,420.2 138.3,419.9 138.9,419.7 139.6,419.4 140.2,419.1 140.9,418.8 141.5,418.6 142.1,418.3 142.8,418.0 143.4,417.7 144.1,417.4 144.7,417.1 145.3,416.8 146.0,416.5 146.6,416.2 147.3,415.9 147.9,415.5 148.6,415.2 149.2,414.9 149.8,414.5 150.5,414.1 151.1,413.7 151.8,413.3 152.4,412.9 153.0,412.5 153.7,412.1 154.3,411.7 155.0,411.2 155.6,410.8 156.2,410.3 156.9,409.9 157.5,409.4 158.2,408.9 158.8,408.5 159.5,408.0 160.1,407.5 160.7,407.0 161.4,406.5 162.0,406.0 162.7,405.5 163.3,405.0 163.9,404.4 164.6,403.9 165.2,403.4 165.9,402.8 166.5,402.2 167.2,401.7 167.8,401.1 168.4,400.5 169.1,399.9 169.7,399.3 170.4,398.8 171.0,398.2 171.6,397.6 172.3,397.0 172.9,396.4 173.6,395.7 174.2,395.1 174.9,394.4 175.5,393.6 176.1,392.8 176.8,392.0 177.4,391.1 178.1,390.0 178.7,388.8 179.3,387.5 180.0,386.1 180.6,384.8 181.3,383.5 181.9,382.1 182.6,380.6 183.2,379.0 183.8,377.2 184.5,375.2 185.1,373.0 185.8,370.8 186.4,368.5 187.0,365.9 187.7,362.5 188.3,359.0 189.0,355.8 189.6,352.5 190.3,349.1 190.9,345.5 191.5,342.1 192.2,338.8 192.8,335.6 193.5,332.0 194.1,328.8 194.7,326.3 195.4,324.1 196.0,321.9 196.7,319.8 197.3,317.8 198.0,316.0 198.6,314.5 199.2,313.0 199.9,311.6 200.5,310.3 201.2,309.0 201.8,307.6 202.4,306.3 203.1,305.2 203.7,304.1 204.4,303.2 205.0,302.4 205.7,301.6 206.3,300.9 206.9,300.2 207.6,299.5 208.2,298.9 208.9,298.3 209.5,297.7 210.1,297.1 210.8,296.5 211.4,295.9 212.1,295.3 212.7,294.7 213.4,294.2 214.0,293.6 214.6,293.0 215.3,292.5 215.9,291.9 216.6,291.4 217.2,290.8 217.8,290.3 218.5,289.8 219.1,289.3 219.8,288.8 220.4,288.3 221.1,287.8 221.7,287.3 222.3,286.8 223.0,286.4 223.6,285.9 224.3,285.4 224.9,285.0 225.5,284.5 226.2,284.1 226.8,283.6 227.5,283.2 228.1,282.8 228.8,282.4 229.4,282.0 230.0,281.6 230.7,281.2 231.3,280.8 232.0,280.4 232.6,280.1 233.2,279.8 233.9,279.5 234.5,279.1 235.2,278.8 235.8,278.5 236.4,278.2 237.1,277.9 237.7,277.6 238.4,277.3 239.0,277.0 239.7,276.8 240.3,276.5 240.9,276.2 241.6,275.9 242.2,275.7 242.9,275.4 243.5,275.2 244.1,274.9 244.8,274.7 245.4,274.4 246.1,274.2 246.7,273.9 247.4,273.7 248.0,273.5 248.6,273.2 249.3,273.0 249.9,272.8 250.6,272.6 251.2,272.3 251.8,272.1 252.5,271.9 253.1,271.7 253.8,271.5 254.4,271.3 255.1,271.1 255.7,270.9 256.3,270.7 257.0,270.5 257.6,270.3 258.3,270.1 258.9,269.9 259.5,269.7 260.2,269.5 260.8,269.3 261.5,269.1 262.1,268.9 262.8,268.7 263.4,268.5 264.0,268.4 264.7,268.2 265.3,268.0 266.0,267.8 266.6,267.7 267.2,267.5 267.9,267.3 268.5,267.2 269.2,267.0 269.8,266.9 270.5,266.7 271.1,266.6 271.7,266.4 272.4,266.3 273.0,266.2 273.7,266.1 274.3,265.9 274.9,265.8 275.6,265.7 276.2,265.6 276.9,265.5 277.5,265.4 278.2,265.3 278.8,265.3 279.4,265.2 280.1,265.1 280.7,265.0 281.4,264.9 282.0,264.8 282.6,264.7 283.3,264.6 283.9,264.6 284.6,264.5 285.2,264.4 285.9,264.3 286.5,264.3 287.1,264.2 287.8,264.1 288.4,264.1 289.1,264.0 289.7,263.9 290.3,263.9 291.0,263.8 291.6,263.7 292.3,263.7 292.9,263.6 293.6,263.6 294.2,263.5 294.8,263.5 295.5,263.4 296.1,263.4 296.8,263.3 297.4,263.3 298.0,263.2 298.7,263.2 299.3,263.1 300.0,263.1 300.6,263.1 301.3,263.0 301.9,263.0 302.5,262.9 303.2,262.9 303.8,262.9 304.5,262.8 305.1,262.8 305.7,262.8 306.4,262.7 307.0,262.7 307.7,262.7 308.3,262.6 309.0,262.6 309.6,262.6 310.2,262.5 310.9,262.5 311.5,262.5 312.2,262.4 312.8,262.4 313.4,262.4 314.1,262.4 314.7,262.3 315.4,262.3 316.0,262.3 316.7,262.3 317.3,262.3 317.9,262.2 318.6,262.2 319.2,262.2 319.9,262.2 320.5,262.2" fill="none" stroke="#000" stroke-width="1.5"/><path d="M62.2 431.3h3.6v3.6h-3.6zM83.6 430.2h3.6v3.6h-3.6zM105.0 427.6h3.6v3.6h-3.6zM126.5 421.8h3.6v3.6h-3.6zM147.9 412.8h3.6v3.6h-3.6zM169.3 396.3h3.6v3.6h-3.6zM190.7 335.4h3.6v3.6h-3.6zM212.1 291.9h3.6v3.6h-3.6zM233.5 276.9h3.6v3.6h-3.6zM254.9 268.8h3.6v3.6h-3.6zM276.4 263.5h3.6v3.6h-3.6zM297.8 261.3h3.6v3.6h-3.6zM319.2 260.4h3.6v3.6h-3.6zM167.1 398.3h3.6v3.6h-3.6zM169.8 395.8h3.6v3.6h-3.6zM172.4 393.3h3.6v3.6h-3.6zM174.7 390.5h3.6v3.6h-3.6zM176.6 387.5h3.6v3.6h-3.6zM178.2 384.3h3.6v3.6h-3.6zM179.8 381.0h3.6v3.6h-3.6zM181.2 377.7h3.6v3.6h-3.6zM182.4 374.3h3.6v3.6h-3.6zM183.4 370.9h3.6v3.6h-3.6zM184.4 367.4h3.6v3.6h-3.6zM185.3 363.9h3.6v3.6h-3.6zM185.9 360.4h3.6v3.6h-3.6zM186.6 356.9h3.6v3.6h-3.6zM187.3 353.3h3.6v3.6h-3.6zM188.0 349.8h3.6v3.6h-3.6zM188.6 346.2h3.6v3.6h-3.6zM189.3 342.6h3.6v3.6h-3.6zM190.0 339.1h3.6v3.6h-3.6zM190.7 335.6h3.6v3.6h-3.6zM191.4 332.0h3.6v3.6h-3.6zM192.0 328.6h3.6v3.6h-3.6zM192.8 325.0h3.6v3.6h-3.6zM193.8 321.5h3.6v3.6h-3.6zM194.8 318.1h3.6v3.6h-3.6zM196.0 314.7h3.6v3.6h-3.6zM197.3 311.4h3.6v3.6h-3.6zM198.9 308.1h3.6v3.6h-3.6zM200.5 304.9h3.6v3.6h-3.6zM202.3 301.8h3.6v3.6h-3.6zM204.5 299.0h3.6v3.6h-3.6zM207.1 296.5h3.6v3.6h-3.6zM209.7 294.0h3.6v3.6h-3.6zM212.4 291.6h3.6v3.6h-3.6z" fill="#000"/><polyline points="64.5,433.2 65.1,433.2 65.8,433.2 66.4,433.2 67.1,433.2 67.7,433.1 68.3,433.1 69.0,433.1 69.6,433.1 70.3,433.1 70.9,433.0 71.6,433.0 72.2,433.0 72.8,433.0 73.5,432.9 74.1,432.9 74.8,432.9 75.4,432.8 76.0,432.8 76.7,432.8 77.3,432.7 78.0,432.7 78.6,432.7 79.3,432.6 79.9,432.6 80.5,432.6 81.2,432.5 81.8,432.5 82.5,432.5 83.1,432.4 83.7,432.4 84.4,432.3 85.0,432.3 85.7,432.3 86.3,432.2 87.0,432.2 87.6,432.1 88.2,432.1 88.9,432.0 89.5,432.0 90.2,431.9 90.8,431.9 91.4,431.8 92.1,431.8 92.7,431.7 93.4,431.7 94.0,431.6 94.7,431.5 95.3,431.5 95.9,431.4 96.6,431.3 97.2,431.3 97.9,431.2 98.5,431.1 99.1,431.1 99.8,431.0 100.4,430.9 101.1,430.8 101.7,430.8 102.4,430.7 103.0,430.6 103.6,430.5 104.3,430.4 104.9,430.3 105.6,430.2 106.2,430.1 106.8,430.1 107.5,430.0 108.1,429.9 108.8,429.8 109.4,429.7 110.1,429.6 110.7,429.5 111.3,429.3 112.0,429.2 112.6,429.1 113.3,429.0 113.9,428.8 114.5,428.7 115.2,428.5 115.8,428.4 116.5,428.2 117.1,428.1 117.8,427.9 118.4,427.7 119.0,427.6 119.7,427.4 120.3,427.2 121.0,427.0 121.6,426.9 122.2,426.7 122.9,426.5 123.5,426.3 124.2,426.1 124.8,425.9 125.5,425.7 126.1,425.5 126.7,425.3 127.4,425.1 128.0,424.9 128.7,424.7 129.3,424.5 129.9,424.3 130.6,424.1 131.2,423.9 131.9,423.7 132.5,423.5 133.2,423.3 133.8,423.1 134.4,422.8 135.1,422.6 135.7,422.4 136.4,422.2 137.0,421.9 137.6,421.7 138.3,421.5 138.9,421.2 139.6,421.0 140.2,420.7 140.9,420.5 141.5,420.2 142.1,420.0 142.8,419.7 143.4,419.5 144.1,419.2 144.7,418.9 145.3,418.6 146.0,418.4 146.6,418.1 147.3,417.8 147.9,417.5 148.6,417.2 149.2,416.9 149.8,416.6 150.5,416.3 151.1,415.9 151.8,415.6 152.4,415.3 153.0,415.0 153.7,414.6 154.3,414.2 155.0,413.8 155.6,413.4 156.2,413.0 156.9,412.6 157.5,412.2 158.2,411.8 158.8,411.3 159.5,410.9 160.1,410.4 160.7,410.0 161.4,409.5 162.0,409.0 162.7,408.6 163.3,408.1 163.9,407.6 164.6,407.1 165.2,406.6 165.9,406.1 166.5,405.6 167.2,405.1 167.8,404.6 168.4,404.0 169.1,403.5 169.7,402.9 170.4,402.4 171.0,401.8 171.6,401.2 172.3,400.7 172.9,400.1 173.6,399.5 174.2,398.9 174.9,398.3 175.5,397.7 176.1,397.1 176.8,396.5 177.4,395.9 178.1,395.2 178.7,394.5 179.3,393.8 180.0,393.0 180.6,392.2 181.3,391.3 181.9,390.2 182.6,389.1 183.2,387.8 183.8,386.4 184.5,385.1 185.1,383.8 185.8,382.4 186.4,380.9 187.0,379.4 187.7,377.6 188.3,375.6 189.0,373.5 189.6,371.3 190.3,369.1 190.9,366.6 191.5,363.4 192.2,359.8 192.8,356.6 193.5,353.3 194.1,349.9 194.7,346.3 195.4,342.9 196.0,339.6 196.7,336.4 197.3,332.9 198.0,329.5 198.6,326.9 199.2,324.6 199.9,322.4 200.5,320.2 201.2,318.2 201.8,316.4 202.4,314.8 203.1,313.3 203.7,311.9 204.4,310.6 205.0,309.3 205.7,307.9 206.3,306.6 206.9,305.4 207.6,304.3 208.2,303.4 208.9,302.6 209.5,301.8 210.1,301.0 210.8,300.3 211.4,299.7 212.1,299.0 212.7,298.4 213.4,297.8 214.0,297.2 214.6,296.6 215.3,296.1 215.9,295.5 216.6,294.9 217.2,294.3 217.8,293.7 218.5,293.2 219.1,292.6 219.8,292.0 220.4,291.5 221.1,291.0 221.7,290.4 222.3,289.9 223.0,289.4 223.6,288.9 224.3,288.4 224.9,287.9 225.5,287.4 226.2,286.9 226.8,286.5 227.5,286.0 228.1,285.5 228.8,285.1 229.4,284.6 230.0,284.2 230.7,283.7 231.3,283.3 232.0,282.9 232.6,282.5 233.2,282.1 233.9,281.7 234.5,281.3 235.2,280.9 235.8,280.5 236.4,280.2 237.1,279.9 237.7,279.5 238.4,279.2 239.0,278.9 239.7,278.6 240.3,278.3 240.9,278.0 241.6,277.7 242.2,277.4 242.9,277.1 243.5,276.8 244.1,276.6 244.8,276.3 245.4,276.0 246.1,275.7 246.7,275.5 247.4,275.2 248.0,275.0 248.6,274.7 249.3,274.5 249.9,274.2 250.6,274.0 251.2,273.7 251.8,273.5 252.5,273.3 253.1,273.1 253.8,272.8 254.4,272.6 255.1,272.4 255.7,272.2 256.3,272.0 257.0,271.7 257.6,271.5 258.3,271.3 258.9,271.1 259.5,270.9 260.2,270.7 260.8,270.5 261.5,270.3 262.1,270.1 262.8,269.9 263.4,269.7 264.0,269.5 264.7,269.3 265.3,269.2 266.0,269.0 266.6,268.8 267.2,268.6 267.9,268.4 268.5,268.2 269.2,268.0 269.8,267.9 270.5,267.7 271.1,267.5 271.7,267.4 272.4,267.2 273.0,267.1 273.7,266.9 274.3,266.8 274.9,266.6 275.6,266.5 276.2,266.3 276.9,266.2 277.5,266.1 278.2,266.0 278.8,265.9 279.4,265.8 280.1,265.7 280.7,265.6 281.4,265.5 282.0,265.4 282.6,265.3 283.3,265.2 283.9,265.1 284.6,265.0 285.2,264.9 285.9,264.8 286.5,264.7 287.1,264.7 287.8,264.6 288.4,264.5 289.1,264.4 289.7,264.4 290.3,264.3 291.0,264.2 291.6,264.1 292.3,264.1 292.9,264.0 293.6,263.9 294.2,263.9 294.8,263.8 295.5,263.8 296.1,263.7 296.8,263.6 297.4,263.6 298.0,263.5 298.7,263.5 299.3,263.4 300.0,263.4 300.6,263.3 301.3,263.3 301.9,263.2 302.5,263.2 303.2,263.2 303.8,263.1 304.5,263.1 305.1,263.0 305.7,263.0 306.4,263.0 307.0,262.9 307.7,262.9 308.3,262.8 309.0,262.8 309.6,262.8 310.2,262.7 310.9,262.7 311.5,262.7 312.2,262.6 312.8,262.6 313.4,262.6 314.1,262.5 314.7,262.5 315.4,262.5 316.0,262.4 316.7,262.4 317.3,262.4 317.9,262.4 318.6,262.3 319.2,262.3 319.9,262.3 320.5,262.3" fill="none" stroke="#000" stroke-width="1.5"/><path d="M62.2 431.4h3.6v3.6h-3.6zM83.6 430.5h3.6v3.6h-3.6zM105.0 428.3h3.6v3.6h-3.6zM126.5 423.0h3.6v3.6h-3.6zM147.9 414.9h3.6v3.6h-3.6zM169.3 399.9h3.6v3.6h-3.6zM190.7 356.4h3.6v3.6h-3.6zM212.1 295.5h3.6v3.6h-3.6zM233.5 279.0h3.6v3.6h-3.6zM254.9 270.0h3.6v3.6h-3.6zM276.4 264.2h3.6v3.6h-3.6zM297.8 261.6h3.6v3.6h-3.6zM319.2 260.5h3.6v3.6h-3.6zM167.1 401.8h3.6v3.6h-3.6zM169.9 399.4h3.6v3.6h-3.6zM172.5 397.0h3.6v3.6h-3.6zM175.2 394.6h3.6v3.6h-3.6zM177.6 391.9h3.6v3.6h-3.6zM179.8 389.0h3.6v3.6h-3.6zM181.5 385.8h3.6v3.6h-3.6zM183.0 382.6h3.6v3.6h-3.6zM184.5 379.3h3.6v3.6h-3.6zM185.8 376.0h3.6v3.6h-3.6zM186.9 372.6h3.6v3.6h-3.6zM187.9 369.1h3.6v3.6h-3.6zM188.9 365.6h3.6v3.6h-3.6zM189.6 362.1h3.6v3.6h-3.6zM190.3 358.6h3.6v3.6h-3.6zM191.0 355.0h3.6v3.6h-3.6zM191.7 351.5h3.6v3.6h-3.6zM192.3 348.0h3.6v3.6h-3.6zM193.0 344.4h3.6v3.6h-3.6zM193.6 340.8h3.6v3.6h-3.6zM194.3 337.3h3.6v3.6h-3.6zM195.0 333.8h3.6v3.6h-3.6zM195.7 330.3h3.6v3.6h-3.6zM196.4 326.8h3.6v3.6h-3.6zM197.3 323.3h3.6v3.6h-3.6zM198.3 319.8h3.6v3.6h-3.6zM199.4 316.4h3.6v3.6h-3.6zM200.6 313.0h3.6v3.6h-3.6zM202.1 309.7h3.6v3.6h-3.6zM203.7 306.5h3.6v3.6h-3.6zM205.3 303.3h3.6v3.6h-3.6zM207.4 300.4h3.6v3.6h-3.6zM209.8 297.7h3.6v3.6h-3.6zM212.4 295.2h3.6v3.6h-3.6z" fill="#000"/>
<polyline points="64.5,435.4 65.1,435.4 65.8,435.4 66.4,435.4 67.1,435.4 67.7,435.4 68.3,435.4 69.0,435.3 69.6,435.3 70.3,435.3 70.9,435.3 71.6,435.3 72.2,435.3 72.8,435.2 73.5,435.2 74.1,435.2 74.8,435.2 75.4,435.2 76.0,435.2 76.7,435.1 77.3,435.1 78.0,435.1 78.6,435.1 79.3,435.1 79.9,435.1 80.5,435.0 81.2,435.0 81.8,435.0 82.5,435.0 83.1,435.0 83.7,435.0 84.4,434.9 85.0,434.9 85.7,434.9 86.3,434.9 87.0,434.9 87.6,434.8 88.2,434.8 88.9,434.8 89.5,434.8 90.2,434.8 90.8,434.8 91.4,434.7 92.1,434.7 92.7,434.7 93.4,434.7 94.0,434.7 94.7,434.6 95.3,434.6 95.9,434.6 96.6,434.6 97.2,434.5 97.9,434.5 98.5,434.5 99.1,434.5 99.8,434.5 100.4,434.4 101.1,434.4 101.7,434.4 102.4,434.4 103.0,434.3 103.6,434.3 104.3,434.3 104.9,434.3 105.6,434.2 106.2,434.2 106.8,434.2 107.5,434.1 108.1,434.1 108.8,434.1 109.4,434.0 110.1,434.0 110.7,434.0 111.3,433.9 112.0,433.9 112.6,433.8 113.3,433.8 113.9,433.8 114.5,433.7 115.2,433.7 115.8,433.6 116.5,433.6 117.1,433.6 117.8,433.5 118.4,433.5 119.0,433.4 119.7,433.4 120.3,433.3 121.0,433.3 121.6,433.2 122.2,433.2 122.9,433.1 123.5,433.1 124.2,433.0 124.8,433.0 125.5,432.9 126.1,432.9 126.7,432.8 127.4,432.8 128.0,432.7 128.7,432.7 129.3,432.6 129.9,432.5 130.6,432.5 131.2,432.4 131.9,432.4 132.5,432.3 133.2,432.3 133.8,432.2 134.4,432.2 135.1,432.1 135.7,432.0 136.4,432.0 137.0,431.9 137.6,431.9 138.3,431.8 138.9,431.7 139.6,431.7 140.2,431.6 140.9,431.5 141.5,431.5 142.1,431.4 142.8,431.3 143.4,431.3 144.1,431.2 144.7,431.1 145.3,431.0 146.0,431.0 146.6,430.9 147.3,430.8 147.9,430.7 148.6,430.6 149.2,430.6 149.8,430.5 150.5,430.4 151.1,430.3 151.8,430.2 152.4,430.1 153.0,430.0 153.7,429.9 154.3,429.8 155.0,429.7 155.6,429.5 156.2,429.4 156.9,429.3 157.5,429.2 158.2,429.0 158.8,428.9 159.5,428.8 160.1,428.6 160.7,428.5 161.4,428.4 162.0,428.2 162.7,428.1 163.3,427.9 163.9,427.8 164.6,427.6 165.2,427.4 165.9,427.3 166.5,427.1 167.2,426.9 167.8,426.7 168.4,426.5 169.1,426.3 169.7,426.0 170.4,425.8 171.0,425.5 171.6,425.3 172.3,425.0 172.9,424.7 173.6,424.4 174.2,424.1 174.9,423.7 175.5,423.3 176.1,422.9 176.8,422.4 177.4,421.9 178.1,421.4 178.7,420.7 179.3,420.0 180.0,419.2 180.6,418.3 181.3,417.4 181.9,416.5 182.6,415.6 183.2,414.5 183.8,413.2 184.5,411.6 185.1,409.8 185.8,407.7 186.4,405.4 187.0,402.9 187.7,400.0 188.3,396.4 189.0,392.1 189.6,386.6 190.3,379.3 190.9,369.9 191.5,359.0 192.2,346.0 192.8,333.5 193.5,323.0 194.1,314.1 194.7,307.3 195.4,302.2 196.0,298.0 196.7,294.6 197.3,291.8 198.0,289.4 198.6,287.2 199.2,285.1 199.9,283.4 200.5,281.9 201.2,280.6 201.8,279.6 202.4,278.6 203.1,277.7 203.7,276.9 204.4,276.0 205.0,275.3 205.7,274.5 206.3,273.9 206.9,273.3 207.6,272.9 208.2,272.4 208.9,272.0 209.5,271.6 210.1,271.3 210.8,270.9 211.4,270.6 212.1,270.3 212.7,270.1 213.4,269.8 214.0,269.6 214.6,269.3 215.3,269.1 215.9,268.9 216.6,268.7 217.2,268.5 217.8,268.3 218.5,268.1 219.1,267.9 219.8,267.8 220.4,267.6 221.1,267.4 221.7,267.3 222.3,267.1 223.0,267.0 223.6,266.9 224.3,266.7 224.9,266.6 225.5,266.5 226.2,266.3 226.8,266.2 227.5,266.1 228.1,265.9 228.8,265.8 229.4,265.7 230.0,265.6 230.7,265.5 231.3,265.4 232.0,265.3 232.6,265.2 233.2,265.1 233.9,265.0 234.5,264.9 235.2,264.8 235.8,264.7 236.4,264.7 237.1,264.6 237.7,264.5 238.4,264.4 239.0,264.3 239.7,264.3 240.3,264.2 240.9,264.1 241.6,264.1 242.2,264.0 242.9,263.9 243.5,263.8 244.1,263.8 244.8,263.7 245.4,263.6 246.1,263.6 246.7,263.5 247.4,263.5 248.0,263.4 248.6,263.3 249.3,263.3 249.9,263.2 250.6,263.2 251.2,263.1 251.8,263.1 252.5,263.0 253.1,262.9 253.8,262.9 254.4,262.8 255.1,262.8 255.7,262.7 256.3,262.7 257.0,262.6 257.6,262.6 258.3,262.5 258.9,262.5 259.5,262.4 260.2,262.4 260.8,262.3 261.5,262.3 262.1,262.2 262.8,262.2 263.4,262.1 264.0,262.1 264.7,262.0 265.3,262.0 266.0,261.9 266.6,261.9 267.2,261.8 267.9,261.8 268.5,261.7 269.2,261.7 269.8,261.7 270.5,261.6 271.1,261.6 271.7,261.5 272.4,261.5 273.0,261.5 273.7,261.4 274.3,261.4 274.9,261.4 275.6,261.3 276.2,261.3 276.9,261.3 277.5,261.2 278.2,261.2 278.8,261.2 279.4,261.1 280.1,261.1 280.7,261.1 281.4,261.1 282.0,261.0 282.6,261.0 283.3,261.0 283.9,261.0 284.6,260.9 285.2,260.9 285.9,260.9 286.5,260.9 287.1,260.8 287.8,260.8 288.4,260.8 289.1,260.8 289.7,260.8 290.3,260.7 291.0,260.7 291.6,260.7 292.3,260.7 292.9,260.7 293.6,260.6 294.2,260.6 294.8,260.6 295.5,260.6 296.1,260.6 296.8,260.6 297.4,260.5 298.0,260.5 298.7,260.5 299.3,260.5 300.0,260.5 300.6,260.4 301.3,260.4 301.9,260.4 302.5,260.4 303.2,260.4 303.8,260.4 304.5,260.3 305.1,260.3 305.7,260.3 306.4,260.3 307.0,260.3 307.7,260.2 308.3,260.2 309.0,260.2 309.6,260.2 310.2,260.2 310.9,260.2 311.5,260.1 312.2,260.1 312.8,260.1 313.4,260.1 314.1,260.1 314.7,260.1 315.4,260.1 316.0,260.0 316.7,260.0 317.3,260.0 317.9,260.0 318.6,260.0 319.2,260.0 319.9,259.9 320.5,259.9" fill="none" stroke="#ff0000" stroke-width="1.6"/><path d="M62.1 433.6h3.7v3.7h-3.7zM83.6 433.1h3.7v3.7h-3.7zM105.0 432.3h3.7v3.7h-3.7zM126.4 430.8h3.7v3.7h-3.7zM147.8 428.6h3.7v3.7h-3.7zM169.2 423.7h3.7v3.7h-3.7zM190.7 337.7h3.7v3.7h-3.7zM212.1 267.7h3.7v3.7h-3.7zM233.5 263.0h3.7v3.7h-3.7zM254.9 260.8h3.7v3.7h-3.7zM276.3 259.3h3.7v3.7h-3.7zM297.7 258.6h3.7v3.7h-3.7zM319.1 258.1h3.7v3.7h-3.7zM167.1 424.5h3.7v3.7h-3.7zM170.5 423.1h3.7v3.7h-3.7zM173.6 421.5h3.7v3.7h-3.7zM176.5 419.3h3.7v3.7h-3.7zM178.8 416.5h3.7v3.7h-3.7zM180.8 413.5h3.7v3.7h-3.7zM182.4 410.3h3.7v3.7h-3.7zM183.6 406.9h3.7v3.7h-3.7zM184.6 403.4h3.7v3.7h-3.7zM185.5 399.9h3.7v3.7h-3.7zM186.2 396.4h3.7v3.7h-3.7zM186.8 392.8h3.7v3.7h-3.7zM187.3 389.2h3.7v3.7h-3.7zM187.7 385.6h3.7v3.7h-3.7zM188.0 382.0h3.7v3.7h-3.7zM188.3 378.4h3.7v3.7h-3.7zM188.6 374.9h3.7v3.7h-3.7zM188.9 371.1h3.7v3.7h-3.7zM189.1 367.7h3.7v3.7h-3.7zM189.3 364.2h3.7v3.7h-3.7zM189.5 360.4h3.7v3.7h-3.7zM189.7 356.7h3.7v3.7h-3.7zM189.9 353.2h3.7v3.7h-3.7zM190.1 349.6h3.7v3.7h-3.7zM190.3 345.8h3.7v3.7h-3.7zM190.4 342.5h3.7v3.7h-3.7zM190.6 338.8h3.7v3.7h-3.7zM190.8 335.3h3.7v3.7h-3.7zM191.0 331.6h3.7v3.7h-3.7zM191.2 328.1h3.7v3.7h-3.7zM191.4 324.6h3.7v3.7h-3.7zM191.6 320.9h3.7v3.7h-3.7zM191.9 317.3h3.7v3.7h-3.7zM192.1 313.8h3.7v3.7h-3.7zM192.4 310.1h3.7v3.7h-3.7zM192.8 306.6h3.7v3.7h-3.7zM193.2 303.1h3.7v3.7h-3.7zM193.7 299.5h3.7v3.7h-3.7zM194.2 296.0h3.7v3.7h-3.7zM194.9 292.4h3.7v3.7h-3.7zM195.7 288.9h3.7v3.7h-3.7zM196.7 285.5h3.7v3.7h-3.7zM197.8 282.1h3.7v3.7h-3.7zM199.3 278.8h3.7v3.7h-3.7zM201.3 275.8h3.7v3.7h-3.7zM203.5 273.0h3.7v3.7h-3.7zM206.2 270.7h3.7v3.7h-3.7zM209.4 268.9h3.7v3.7h-3.7zM212.7 267.5h3.7v3.7h-3.7z" fill="#ff0000"/><polyline points="64.5,435.5 65.1,435.5 65.8,435.4 66.4,435.4 67.1,435.4 67.7,435.4 68.3,435.4 69.0,435.4 69.6,435.3 70.3,435.3 70.9,435.3 71.6,435.3 72.2,435.3 72.8,435.3 73.5,435.3 74.1,435.2 74.8,435.2 75.4,435.2 76.0,435.2 76.7,435.2 77.3,435.2 78.0,435.1 78.6,435.1 79.3,435.1 79.9,435.1 80.5,435.1 81.2,435.0 81.8,435.0 82.5,435.0 83.1,435.0 83.7,435.0 84.4,435.0 85.0,434.9 85.7,434.9 86.3,434.9 87.0,434.9 87.6,434.9 88.2,434.8 88.9,434.8 89.5,434.8 90.2,434.8 90.8,434.8 91.4,434.8 92.1,434.7 92.7,434.7 93.4,434.7 94.0,434.7 94.7,434.7 95.3,434.6 95.9,434.6 96.6,434.6 97.2,434.6 97.9,434.6 98.5,434.5 99.1,434.5 99.8,434.5 100.4,434.5 101.1,434.4 101.7,434.4 102.4,434.4 103.0,434.4 103.6,434.3 104.3,434.3 104.9,434.3 105.6,434.3 106.2,434.2 106.8,434.2 107.5,434.2 108.1,434.1 108.8,434.1 109.4,434.1 110.1,434.0 110.7,434.0 111.3,434.0 112.0,433.9 112.6,433.9 113.3,433.9 113.9,433.8 114.5,433.8 115.2,433.7 115.8,433.7 116.5,433.7 117.1,433.6 117.8,433.6 118.4,433.5 119.0,433.5 119.7,433.4 120.3,433.4 121.0,433.3 121.6,433.3 122.2,433.2 122.9,433.2 123.5,433.1 124.2,433.1 124.8,433.0 125.5,433.0 126.1,432.9 126.7,432.9 127.4,432.8 128.0,432.8 128.7,432.7 129.3,432.7 129.9,432.6 130.6,432.6 131.2,432.5 131.9,432.5 132.5,432.4 133.2,432.3 133.8,432.3 134.4,432.2 135.1,432.2 135.7,432.1 136.4,432.1 137.0,432.0 137.6,431.9 138.3,431.9 138.9,431.8 139.6,431.8 140.2,431.7 140.9,431.6 141.5,431.6 142.1,431.5 142.8,431.4 143.4,431.3 144.1,431.3 144.7,431.2 145.3,431.1 146.0,431.1 146.6,431.0 147.3,430.9 147.9,430.8 148.6,430.7 149.2,430.7 149.8,430.6 150.5,430.5 151.1,430.4 151.8,430.3 152.4,430.2 153.0,430.1 153.7,430.0 154.3,429.9 155.0,429.8 155.6,429.7 156.2,429.6 156.9,429.5 157.5,429.3 158.2,429.2 158.8,429.1 159.5,428.9 160.1,428.8 160.7,428.7 161.4,428.5 162.0,428.4 162.7,428.3 163.3,428.1 163.9,428.0 164.6,427.8 165.2,427.6 165.9,427.5 166.5,427.3 167.2,427.1 167.8,426.9 168.4,426.7 169.1,426.5 169.7,426.3 170.4,426.1 171.0,425.8 171.6,425.6 172.3,425.3 172.9,425.1 173.6,424.8 174.2,424.5 174.9,424.1 175.5,423.8 176.1,423.4 176.8,423.0 177.4,422.5 178.1,422.1 178.7,421.5 179.3,420.9 180.0,420.1 180.6,419.4 181.3,418.5 181.9,417.7 182.6,416.8 183.2,415.8 183.8,414.8 184.5,413.5 185.1,412.0 185.8,410.3 186.4,408.2 187.0,406.0 187.7,403.6 188.3,400.8 189.0,397.4 189.6,393.2 190.3,388.1 190.9,381.3 191.5,372.4 192.2,361.9 192.8,349.4 193.5,336.4 194.1,325.5 194.7,316.1 195.4,308.8 196.0,303.3 196.7,299.0 197.3,295.4 198.0,292.5 198.6,290.0 199.2,287.7 199.9,285.6 200.5,283.8 201.2,282.2 201.8,280.9 202.4,279.8 203.1,278.9 203.7,278.0 204.4,277.1 205.0,276.2 205.7,275.4 206.3,274.7 206.9,274.0 207.6,273.5 208.2,273.0 208.9,272.5 209.5,272.1 210.1,271.7 210.8,271.3 211.4,271.0 212.1,270.7 212.7,270.4 213.4,270.1 214.0,269.9 214.6,269.6 215.3,269.4 215.9,269.1 216.6,268.9 217.2,268.7 217.8,268.5 218.5,268.3 219.1,268.1 219.8,268.0 220.4,267.8 221.1,267.6 221.7,267.5 222.3,267.3 223.0,267.2 223.6,267.0 224.3,266.9 224.9,266.8 225.5,266.6 226.2,266.5 226.8,266.4 227.5,266.2 228.1,266.1 228.8,266.0 229.4,265.9 230.0,265.7 230.7,265.6 231.3,265.5 232.0,265.4 232.6,265.3 233.2,265.2 233.9,265.1 234.5,265.0 235.2,264.9 235.8,264.8 236.4,264.8 237.1,264.7 237.7,264.6 238.4,264.5 239.0,264.4 239.7,264.4 240.3,264.3 240.9,264.2 241.6,264.1 242.2,264.1 242.9,264.0 243.5,263.9 244.1,263.9 244.8,263.8 245.4,263.7 246.1,263.7 246.7,263.6 247.4,263.5 248.0,263.5 248.6,263.4 249.3,263.4 249.9,263.3 250.6,263.2 251.2,263.2 251.8,263.1 252.5,263.1 253.1,263.0 253.8,263.0 254.4,262.9 255.1,262.9 255.7,262.8 256.3,262.7 257.0,262.7 257.6,262.6 258.3,262.6 258.9,262.5 259.5,262.5 260.2,262.4 260.8,262.4 261.5,262.3 262.1,262.3 262.8,262.2 263.4,262.2 264.0,262.1 264.7,262.1 265.3,262.0 266.0,262.0 266.6,261.9 267.2,261.9 267.9,261.8 268.5,261.8 269.2,261.8 269.8,261.7 270.5,261.7 271.1,261.6 271.7,261.6 272.4,261.6 273.0,261.5 273.7,261.5 274.3,261.4 274.9,261.4 275.6,261.4 276.2,261.3 276.9,261.3 277.5,261.3 278.2,261.2 278.8,261.2 279.4,261.2 280.1,261.1 280.7,261.1 281.4,261.1 282.0,261.1 282.6,261.0 283.3,261.0 283.9,261.0 284.6,261.0 285.2,260.9 285.9,260.9 286.5,260.9 287.1,260.9 287.8,260.9 288.4,260.8 289.1,260.8 289.7,260.8 290.3,260.8 291.0,260.7 291.6,260.7 292.3,260.7 292.9,260.7 293.6,260.7 294.2,260.6 294.8,260.6 295.5,260.6 296.1,260.6 296.8,260.6 297.4,260.6 298.0,260.5 298.7,260.5 299.3,260.5 300.0,260.5 300.6,260.5 301.3,260.4 301.9,260.4 302.5,260.4 303.2,260.4 303.8,260.4 304.5,260.4 305.1,260.3 305.7,260.3 306.4,260.3 307.0,260.3 307.7,260.3 308.3,260.3 309.0,260.2 309.6,260.2 310.2,260.2 310.9,260.2 311.5,260.2 312.2,260.2 312.8,260.1 313.4,260.1 314.1,260.1 314.7,260.1 315.4,260.1 316.0,260.1 316.7,260.0 317.3,260.0 317.9,260.0 318.6,260.0 319.2,260.0 319.9,260.0 320.5,260.0" fill="none" stroke="#ff0000" stroke-width="1.6"/><path d="M62.1 433.6h3.7v3.7h-3.7zM83.6 433.1h3.7v3.7h-3.7zM105.0 432.4h3.7v3.7h-3.7zM126.4 430.9h3.7v3.7h-3.7zM147.8 428.7h3.7v3.7h-3.7zM169.2 424.0h3.7v3.7h-3.7zM190.7 354.0h3.7v3.7h-3.7zM212.1 268.0h3.7v3.7h-3.7zM233.5 263.1h3.7v3.7h-3.7zM254.9 260.9h3.7v3.7h-3.7zM276.3 259.4h3.7v3.7h-3.7zM297.7 258.6h3.7v3.7h-3.7zM319.1 258.1h3.7v3.7h-3.7zM167.1 424.7h3.7v3.7h-3.7zM170.5 423.5h3.7v3.7h-3.7zM173.7 421.9h3.7v3.7h-3.7zM176.7 419.8h3.7v3.7h-3.7zM179.1 417.2h3.7v3.7h-3.7zM181.2 414.2h3.7v3.7h-3.7zM182.9 411.1h3.7v3.7h-3.7zM184.2 407.7h3.7v3.7h-3.7zM185.2 404.3h3.7v3.7h-3.7zM186.1 400.8h3.7v3.7h-3.7zM186.8 397.2h3.7v3.7h-3.7zM187.4 393.6h3.7v3.7h-3.7zM187.9 390.2h3.7v3.7h-3.7zM188.4 386.5h3.7v3.7h-3.7zM188.8 382.8h3.7v3.7h-3.7zM189.1 379.4h3.7v3.7h-3.7zM189.3 375.7h3.7v3.7h-3.7zM189.6 372.0h3.7v3.7h-3.7zM189.8 368.6h3.7v3.7h-3.7zM190.1 364.8h3.7v3.7h-3.7zM190.3 361.1h3.7v3.7h-3.7zM190.5 357.8h3.7v3.7h-3.7zM190.7 354.0h3.7v3.7h-3.7zM190.8 350.4h3.7v3.7h-3.7zM191.0 346.7h3.7v3.7h-3.7zM191.2 343.3h3.7v3.7h-3.7zM191.4 339.6h3.7v3.7h-3.7zM191.5 336.1h3.7v3.7h-3.7zM191.7 332.7h3.7v3.7h-3.7zM191.9 328.8h3.7v3.7h-3.7zM192.2 325.2h3.7v3.7h-3.7zM192.4 321.8h3.7v3.7h-3.7zM192.6 318.2h3.7v3.7h-3.7zM192.9 314.6h3.7v3.7h-3.7zM193.2 311.0h3.7v3.7h-3.7zM193.5 307.4h3.7v3.7h-3.7zM193.9 303.9h3.7v3.7h-3.7zM194.3 300.3h3.7v3.7h-3.7zM194.9 296.8h3.7v3.7h-3.7zM195.5 293.3h3.7v3.7h-3.7zM196.3 289.8h3.7v3.7h-3.7zM197.3 286.3h3.7v3.7h-3.7zM198.3 282.9h3.7v3.7h-3.7zM199.7 279.6h3.7v3.7h-3.7zM201.6 276.5h3.7v3.7h-3.7zM203.8 273.6h3.7v3.7h-3.7zM206.4 271.1h3.7v3.7h-3.7zM209.4 269.2h3.7v3.7h-3.7zM212.7 267.8h3.7v3.7h-3.7z" fill="#ff0000"/>
<path d="M87.3 293.9h26" stroke="#000" stroke-width="2"/><rect x="98.3" y="292.2" width="3.4" height="3.4" fill="#000"/>
<path d="M87.3 307.4h26" stroke="#ff0000" stroke-width="2"/><rect x="98.3" y="305.7" width="3.4" height="3.4" fill="#ff0000"/>
<text x="116.7" y="297.6" font-size="10.2" text-anchor="start" letter-spacing="0.75" fill="#1c1c1c" stroke="#1c1c1c" stroke-width="0.12" font-family='"Liberation Sans", sans-serif' >out of plane</text>
<text x="116.7" y="311.1" font-size="10.2" text-anchor="start" letter-spacing="0.75" fill="#1c1c1c" stroke="#1c1c1c" stroke-width="0.12" font-family='"Liberation Sans", sans-serif' >in plane</text>
<text x="98.3" y="331.8" font-size="8.2" text-anchor="start" letter-spacing="0.6" fill="#1c1c1c" stroke="#1c1c1c" stroke-width="0.12" font-family='"Liberation Sans", sans-serif' >T = 10 K</text>
<text x="86.6" y="270.5" font-size="20.5" text-anchor="middle" letter-spacing="1.4" fill="#111" stroke="#111" stroke-width="0.12" font-family='"Liberation Sans", sans-serif' >(c)</text>
<text x="59.0" y="247.5" font-size="8.6" text-anchor="end" fill="#2a2a2a" font-family='"Liberation Sans", sans-serif'><tspan letter-spacing="0.5">4.0x1</tspan><tspan>0</tspan><tspan font-size="5.4" dy="-4.2">-5</tspan></text>
<text x="59.0" y="273.3" font-size="8.6" text-anchor="end" fill="#2a2a2a" font-family='"Liberation Sans", sans-serif'><tspan letter-spacing="0.5">3.0x1</tspan><tspan>0</tspan><tspan font-size="5.4" dy="-4.2">-5</tspan></text>
<text x="59.0" y="299.2" font-size="8.6" text-anchor="end" fill="#2a2a2a" font-family='"Liberation Sans", sans-serif'><tspan letter-spacing="0.5">2.0x1</tspan><tspan>0</tspan><tspan font-size="5.4" dy="-4.2">-5</tspan></text>
<text x="59.0" y="325.0" font-size="8.6" text-anchor="end" fill="#2a2a2a" font-family='"Liberation Sans", sans-serif'><tspan letter-spacing="0.5">1.0x1</tspan><tspan>0</tspan><tspan font-size="5.4" dy="-4.2">-5</tspan></text>
<text x="59.0" y="349.5" font-size="8.6" text-anchor="end" letter-spacing="0.5" fill="#1c1c1c" stroke="#1c1c1c" stroke-width="0.12" font-family='"Liberation Sans", sans-serif' >0.0</text>
<text x="59.0" y="376.8" font-size="8.6" text-anchor="end" fill="#2a2a2a" font-family='"Liberation Sans", sans-serif'><tspan letter-spacing="0.5">-1.0x1</tspan><tspan>0</tspan><tspan font-size="5.4" dy="-4.2">-5</tspan></text>
<text x="59.0" y="402.6" font-size="8.6" text-anchor="end" fill="#2a2a2a" font-family='"Liberation Sans", sans-serif'><tspan letter-spacing="0.5">-2.0x1</tspan><tspan>0</tspan><tspan font-size="5.4" dy="-4.2">-5</tspan></text>
<text x="59.0" y="428.4" font-size="8.6" text-anchor="end" fill="#2a2a2a" font-family='"Liberation Sans", sans-serif'><tspan letter-spacing="0.5">-3.0x1</tspan><tspan>0</tspan><tspan font-size="5.4" dy="-4.2">-5</tspan></text>
<text x="59.0" y="454.3" font-size="8.6" text-anchor="end" fill="#2a2a2a" font-family='"Liberation Sans", sans-serif'><tspan letter-spacing="0.5">-4.0x1</tspan><tspan>0</tspan><tspan font-size="5.4" dy="-4.2">-5</tspan></text>
<text x="64.8" y="464.2" font-size="8.2" text-anchor="middle" letter-spacing="0.75" fill="#1c1c1c" stroke="#1c1c1c" stroke-width="0.12" font-family='"Liberation Sans", sans-serif' >-30000</text>
<text x="107.6" y="464.2" font-size="8.2" text-anchor="middle" letter-spacing="0.75" fill="#1c1c1c" stroke="#1c1c1c" stroke-width="0.12" font-family='"Liberation Sans", sans-serif' >-20000</text>
<text x="150.5" y="464.2" font-size="8.2" text-anchor="middle" letter-spacing="0.75" fill="#1c1c1c" stroke="#1c1c1c" stroke-width="0.12" font-family='"Liberation Sans", sans-serif' >-10000</text>
<text x="193.3" y="464.2" font-size="8.2" text-anchor="middle" letter-spacing="0.75" fill="#1c1c1c" stroke="#1c1c1c" stroke-width="0.12" font-family='"Liberation Sans", sans-serif' >0</text>
<text x="236.1" y="464.2" font-size="8.2" text-anchor="middle" letter-spacing="0.75" fill="#1c1c1c" stroke="#1c1c1c" stroke-width="0.12" font-family='"Liberation Sans", sans-serif' >10000</text>
<text x="279.0" y="464.2" font-size="8.2" text-anchor="middle" letter-spacing="0.75" fill="#1c1c1c" stroke="#1c1c1c" stroke-width="0.12" font-family='"Liberation Sans", sans-serif' >20000</text>
<text x="321.8" y="464.2" font-size="8.2" text-anchor="middle" letter-spacing="0.75" fill="#1c1c1c" stroke="#1c1c1c" stroke-width="0.12" font-family='"Liberation Sans", sans-serif' >30000</text>
<text x="193.4" y="482.7" font-size="11.3" text-anchor="middle" letter-spacing="0.85" fill="#1c1c1c" stroke="#1c1c1c" stroke-width="0.12" font-family='"Liberation Sans", sans-serif' >Field (Oe)</text>
<text x="0.0" y="0.0" font-size="13.4" text-anchor="middle" letter-spacing="0" fill="#1c1c1c" stroke="#1c1c1c" stroke-width="0.12" font-family='"Liberation Sans", sans-serif' textLength="115.2" lengthAdjust="spacingAndGlyphs" transform="translate(11.9 356) rotate(-90)">Magnetization (emu)</text>
<rect x="212" y="347.5" width="105.5" height="84.0" fill="#fff" stroke="#000" stroke-width="1.2"/>
<path d="M212 389.8H317.5M264.8 347.5V431.5" stroke="#000" stroke-width="1.1"/>
<path d="M212.1 431.5v-2.5M212.1 347.5v2.5M220.9 431.5v-1.5M220.9 347.5v1.5M229.7 431.5v-2.5M229.7 347.5v2.5M238.5 431.5v-1.5M238.5 347.5v1.5M247.2 431.5v-2.5M247.2 347.5v2.5M256.0 431.5v-1.5M256.0 347.5v1.5M264.8 431.5v-2.5M264.8 347.5v2.5M273.6 431.5v-1.5M273.6 347.5v1.5M282.4 431.5v-2.5M282.4 347.5v2.5M291.1 431.5v-1.5M291.1 347.5v1.5M299.9 431.5v-2.5M299.9 347.5v2.5M308.7 431.5v-1.5M308.7 347.5v1.5M317.5 431.5v-2.5M317.5 347.5v2.5M212 431.4h2.5M317.5 431.4h-2.5M212 421.0h1.5M317.5 421.0h-1.5M212 410.6h2.5M317.5 410.6h-2.5M212 400.2h1.5M317.5 400.2h-1.5M212 379.4h1.5M317.5 379.4h-1.5M212 369.0h2.5M317.5 369.0h-2.5M212 358.6h1.5M317.5 358.6h-1.5M212 348.2h2.5M317.5 348.2h-2.5" stroke="#000" stroke-width="0.8" fill="none"/>
<clipPath id="cj"><rect x="212.5" y="348" width="104.5" height="83"/></clipPath>
<g clip-path="url(#cj)"><polyline points="205.1,410.0 205.7,409.8 206.3,409.7 206.9,409.6 207.5,409.5 208.1,409.3 208.7,409.2 209.3,409.1 209.9,408.9 210.5,408.8 211.1,408.7 211.7,408.5 212.3,408.4 212.9,408.2 213.5,408.1 214.1,407.9 214.7,407.8 215.3,407.6 215.9,407.5 216.5,407.3 217.1,407.1 217.7,407.0 218.3,406.8 218.9,406.6 219.5,406.5 220.1,406.3 220.7,406.1 221.3,405.9 221.9,405.7 222.5,405.6 223.1,405.4 223.7,405.2 224.3,405.0 224.9,404.8 225.5,404.6 226.1,404.4 226.7,404.2 227.3,404.0 227.9,403.8 228.5,403.6 229.1,403.3 229.7,403.1 230.3,402.9 230.9,402.7 231.5,402.5 232.1,402.2 232.7,402.0 233.3,401.8 233.9,401.5 234.5,401.3 235.1,401.1 235.7,400.8 236.3,400.6 236.9,400.3 237.5,400.1 238.1,399.8 238.7,399.6 239.3,399.3 239.9,399.1 240.5,398.8 241.1,398.5 241.7,398.3 242.3,398.0 242.9,397.7 243.5,397.5 244.1,397.2 244.7,396.9 245.3,396.7 245.9,396.4 246.5,396.1 247.1,395.8 247.7,395.5 248.3,395.3 248.9,395.0 249.5,394.7 250.1,394.4 250.7,394.1 251.3,393.8 251.9,393.5 252.5,393.3 253.1,393.0 253.7,392.7 254.3,392.4 254.9,392.1 255.5,391.8 256.1,391.5 256.7,391.2 257.3,390.9 257.9,390.6 258.5,390.3 259.1,390.0 259.7,389.7 260.3,389.4 260.9,389.1 261.5,388.8 262.1,388.5 262.7,388.2 263.3,387.9 263.9,387.6 264.5,387.4 265.1,387.1 265.7,386.8 266.3,386.5 266.9,386.2 267.5,385.9 268.1,385.6 268.7,385.3 269.3,385.0 269.9,384.7 270.5,384.5 271.1,384.2 271.7,383.9 272.3,383.6 272.9,383.3 273.5,383.1 274.1,382.8 274.7,382.5 275.3,382.2 275.9,382.0 276.5,381.7 277.1,381.4 277.7,381.2 278.3,380.9 278.9,380.6 279.5,380.4 280.1,380.1 280.7,379.9 281.3,379.6 281.9,379.4 282.5,379.1 283.1,378.9 283.7,378.6 284.3,378.4 284.9,378.2 285.5,377.9 286.1,377.7 286.7,377.5 287.3,377.2 287.9,377.0 288.5,376.8 289.1,376.6 289.7,376.3 290.3,376.1 290.9,375.9 291.5,375.7 292.1,375.5 292.7,375.3 293.3,375.1 293.9,374.9 294.5,374.7 295.1,374.5 295.7,374.3 296.3,374.1 296.9,373.9 297.5,373.7 298.1,373.6 298.7,373.4 299.3,373.2 299.9,373.0 300.5,372.9 301.1,372.7 301.7,372.5 302.3,372.4 302.9,372.2 303.5,372.0 304.1,371.9 304.7,371.7 305.3,371.6 305.9,371.4 306.5,371.3 307.1,371.1 307.7,371.0 308.3,370.9 308.9,370.7 309.5,370.6 310.1,370.4 310.7,370.3 311.3,370.2 311.9,370.1 312.5,369.9 313.1,369.8 313.7,369.7 314.3,369.6 314.9,369.5 315.5,369.3 316.1,369.2 316.7,369.1 317.3,369.0 317.9,368.9 318.5,368.8 319.1,368.7 319.7,368.6 320.3,368.5 320.9,368.4 321.5,368.3 322.1,368.2 322.7,368.1 323.3,368.0 323.9,368.0 324.5,367.9" fill="none" stroke="#000" stroke-width="1.1"/><circle cx="208.6" cy="409.2" r="1.5" fill="#000"/><circle cx="213.2" cy="408.2" r="1.5" fill="#000"/><circle cx="217.7" cy="407.0" r="1.5" fill="#000"/><circle cx="222.3" cy="405.6" r="1.5" fill="#000"/><circle cx="226.9" cy="404.1" r="1.5" fill="#000"/><circle cx="231.4" cy="402.5" r="1.5" fill="#000"/><circle cx="236.0" cy="400.7" r="1.5" fill="#000"/><circle cx="240.6" cy="398.8" r="1.5" fill="#000"/><circle cx="245.1" cy="396.7" r="1.5" fill="#000"/><circle cx="249.7" cy="394.6" r="1.5" fill="#000"/><circle cx="254.3" cy="392.4" r="1.5" fill="#000"/><circle cx="258.8" cy="390.1" r="1.5" fill="#000"/><circle cx="263.4" cy="387.9" r="1.5" fill="#000"/><circle cx="268.0" cy="385.7" r="1.5" fill="#000"/><circle cx="272.5" cy="383.5" r="1.5" fill="#000"/><circle cx="277.1" cy="381.4" r="1.5" fill="#000"/><circle cx="281.7" cy="379.5" r="1.5" fill="#000"/><circle cx="286.2" cy="377.6" r="1.5" fill="#000"/><circle cx="290.8" cy="376.0" r="1.5" fill="#000"/><circle cx="295.4" cy="374.4" r="1.5" fill="#000"/><circle cx="299.9" cy="373.0" r="1.5" fill="#000"/><circle cx="304.5" cy="371.8" r="1.5" fill="#000"/><circle cx="309.1" cy="370.7" r="1.5" fill="#000"/><circle cx="313.6" cy="369.7" r="1.5" fill="#000"/><circle cx="318.2" cy="368.9" r="1.5" fill="#000"/><polyline points="205.1,411.7 205.7,411.6 206.3,411.6 206.9,411.5 207.5,411.4 208.1,411.3 208.7,411.2 209.3,411.1 209.9,411.0 210.5,410.9 211.1,410.8 211.7,410.7 212.3,410.6 212.9,410.5 213.5,410.4 214.1,410.3 214.7,410.1 215.3,410.0 215.9,409.9 216.5,409.8 217.1,409.7 217.7,409.5 218.3,409.4 218.9,409.3 219.5,409.2 220.1,409.0 220.7,408.9 221.3,408.7 221.9,408.6 222.5,408.5 223.1,408.3 223.7,408.2 224.3,408.0 224.9,407.9 225.5,407.7 226.1,407.6 226.7,407.4 227.3,407.2 227.9,407.1 228.5,406.9 229.1,406.7 229.7,406.6 230.3,406.4 230.9,406.2 231.5,406.0 232.1,405.9 232.7,405.7 233.3,405.5 233.9,405.3 234.5,405.1 235.1,404.9 235.7,404.7 236.3,404.5 236.9,404.3 237.5,404.1 238.1,403.9 238.7,403.7 239.3,403.5 239.9,403.3 240.5,403.0 241.1,402.8 241.7,402.6 242.3,402.4 242.9,402.1 243.5,401.9 244.1,401.7 244.7,401.4 245.3,401.2 245.9,401.0 246.5,400.7 247.1,400.5 247.7,400.2 248.3,400.0 248.9,399.7 249.5,399.5 250.1,399.2 250.7,399.0 251.3,398.7 251.9,398.4 252.5,398.2 253.1,397.9 253.7,397.6 254.3,397.4 254.9,397.1 255.5,396.8 256.1,396.5 256.7,396.3 257.3,396.0 257.9,395.7 258.5,395.4 259.1,395.1 259.7,394.9 260.3,394.6 260.9,394.3 261.5,394.0 262.1,393.7 262.7,393.4 263.3,393.1 263.9,392.8 264.5,392.5 265.1,392.2 265.7,392.0 266.3,391.7 266.9,391.4 267.5,391.1 268.1,390.8 268.7,390.5 269.3,390.2 269.9,389.9 270.5,389.6 271.1,389.3 271.7,389.0 272.3,388.7 272.9,388.4 273.5,388.1 274.1,387.8 274.7,387.5 275.3,387.2 275.9,386.9 276.5,386.6 277.1,386.3 277.7,386.1 278.3,385.8 278.9,385.5 279.5,385.2 280.1,384.9 280.7,384.6 281.3,384.3 281.9,384.1 282.5,383.8 283.1,383.5 283.7,383.2 284.3,382.9 284.9,382.7 285.5,382.4 286.1,382.1 286.7,381.9 287.3,381.6 287.9,381.3 288.5,381.1 289.1,380.8 289.7,380.5 290.3,380.3 290.9,380.0 291.5,379.8 292.1,379.5 292.7,379.3 293.3,379.0 293.9,378.8 294.5,378.5 295.1,378.3 295.7,378.1 296.3,377.8 296.9,377.6 297.5,377.4 298.1,377.1 298.7,376.9 299.3,376.7 299.9,376.5 300.5,376.3 301.1,376.0 301.7,375.8 302.3,375.6 302.9,375.4 303.5,375.2 304.1,375.0 304.7,374.8 305.3,374.6 305.9,374.4 306.5,374.2 307.1,374.0 307.7,373.9 308.3,373.7 308.9,373.5 309.5,373.3 310.1,373.1 310.7,373.0 311.3,372.8 311.9,372.6 312.5,372.5 313.1,372.3 313.7,372.1 314.3,372.0 314.9,371.8 315.5,371.7 316.1,371.5 316.7,371.4 317.3,371.2 317.9,371.1 318.5,370.9 319.1,370.8 319.7,370.7 320.3,370.5 320.9,370.4 321.5,370.3 322.1,370.1 322.7,370.0 323.3,369.9 323.9,369.8 324.5,369.6" fill="none" stroke="#000" stroke-width="1.1"/><circle cx="208.6" cy="411.2" r="1.5" fill="#000"/><circle cx="213.2" cy="410.4" r="1.5" fill="#000"/><circle cx="217.7" cy="409.5" r="1.5" fill="#000"/><circle cx="222.3" cy="408.5" r="1.5" fill="#000"/><circle cx="226.9" cy="407.4" r="1.5" fill="#000"/><circle cx="231.4" cy="406.1" r="1.5" fill="#000"/><circle cx="236.0" cy="404.6" r="1.5" fill="#000"/><circle cx="240.6" cy="403.0" r="1.5" fill="#000"/><circle cx="245.1" cy="401.3" r="1.5" fill="#000"/><circle cx="249.7" cy="399.4" r="1.5" fill="#000"/><circle cx="254.3" cy="397.4" r="1.5" fill="#000"/><circle cx="258.8" cy="395.3" r="1.5" fill="#000"/><circle cx="263.4" cy="393.1" r="1.5" fill="#000"/><circle cx="268.0" cy="390.8" r="1.5" fill="#000"/><circle cx="272.5" cy="388.6" r="1.5" fill="#000"/><circle cx="277.1" cy="386.4" r="1.5" fill="#000"/><circle cx="281.7" cy="384.2" r="1.5" fill="#000"/><circle cx="286.2" cy="382.1" r="1.5" fill="#000"/><circle cx="290.8" cy="380.1" r="1.5" fill="#000"/><circle cx="295.4" cy="378.2" r="1.5" fill="#000"/><circle cx="299.9" cy="376.5" r="1.5" fill="#000"/><circle cx="304.5" cy="374.9" r="1.5" fill="#000"/><circle cx="309.1" cy="373.4" r="1.5" fill="#000"/><circle cx="313.6" cy="372.2" r="1.5" fill="#000"/><circle cx="318.2" cy="371.0" r="1.5" fill="#000"/></g>
<g clip-path="url(#cj)"><polyline points="205.1,432.5 205.7,432.5 206.3,432.4 206.9,432.4 207.5,432.3 208.1,432.3 208.7,432.2 209.3,432.1 209.9,432.1 210.5,432.0 211.1,431.9 211.7,431.9 212.3,431.8 212.9,431.7 213.5,431.6 214.1,431.5 214.7,431.5 215.3,431.4 215.9,431.3 216.5,431.2 217.1,431.0 217.7,430.9 218.3,430.8 218.9,430.7 219.5,430.6 220.1,430.4 220.7,430.3 221.3,430.1 221.9,430.0 222.5,429.8 223.1,429.6 223.7,429.4 224.3,429.3 224.9,429.1 225.5,428.9 226.1,428.7 226.7,428.4 227.3,428.2 227.9,428.0 228.5,427.7 229.1,427.4 229.7,427.2 230.3,426.9 230.9,426.6 231.5,426.3 232.1,426.0 232.7,425.6 233.3,425.3 233.9,424.9 234.5,424.6 235.1,424.2 235.7,423.8 236.3,423.4 236.9,422.9 237.5,422.5 238.1,422.0 238.7,421.5 239.3,421.0 239.9,420.5 240.5,420.0 241.1,419.4 241.7,418.9 242.3,418.3 242.9,417.7 243.5,417.1 244.1,416.4 244.7,415.7 245.3,415.1 245.9,414.4 246.5,413.6 247.1,412.9 247.7,412.2 248.3,411.4 248.9,410.6 249.5,409.8 250.1,409.0 250.7,408.1 251.3,407.2 251.9,406.4 252.5,405.5 253.1,404.6 253.7,403.6 254.3,402.7 254.9,401.7 255.5,400.8 256.1,399.8 256.7,398.8 257.3,397.8 257.9,396.8 258.5,395.8 259.1,394.8 259.7,393.7 260.3,392.7 260.9,391.7 261.5,390.6 262.1,389.6 262.7,388.6 263.3,387.5 263.9,386.5 264.5,385.5 265.1,384.5 265.7,383.4 266.3,382.4 266.9,381.4 267.5,380.4 268.1,379.4 268.7,378.5 269.3,377.5 269.9,376.6 270.5,375.6 271.1,374.7 271.7,373.8 272.3,372.9 272.9,372.0 273.5,371.2 274.1,370.3 274.7,369.5 275.3,368.7 275.9,367.9 276.5,367.2 277.1,366.4 277.7,365.7 278.3,365.0 278.9,364.3 279.5,363.6 280.1,363.0 280.7,362.3 281.3,361.7 281.9,361.1 282.5,360.5 283.1,360.0 283.7,359.4 284.3,358.9 284.9,358.4 285.5,357.9 286.1,357.4 286.7,357.0 287.3,356.5 287.9,356.1 288.5,355.7 289.1,355.3 289.7,354.9 290.3,354.5 290.9,354.2 291.5,353.8 292.1,353.5 292.7,353.2 293.3,352.9 293.9,352.6 294.5,352.3 295.1,352.1 295.7,351.8 296.3,351.6 296.9,351.3 297.5,351.1 298.1,350.9 298.7,350.7 299.3,350.5 299.9,350.3 300.5,350.1 301.1,349.9 301.7,349.7 302.3,349.6 302.9,349.4 303.5,349.3 304.1,349.1 304.7,349.0 305.3,348.9 305.9,348.7 306.5,348.6 307.1,348.5 307.7,348.4 308.3,348.3 308.9,348.2 309.5,348.1 310.1,348.0 310.7,347.9 311.3,347.9 311.9,347.8 312.5,347.7 313.1,347.6 313.7,347.6 314.3,347.5 314.9,347.4 315.5,347.4 316.1,347.3 316.7,347.3 317.3,347.2 317.9,347.2 318.5,347.1 319.1,347.1 319.7,347.0 320.3,347.0 320.9,346.9 321.5,346.9 322.1,346.9 322.7,346.8 323.3,346.8 323.9,346.8 324.5,346.7" fill="none" stroke="#ff0000" stroke-width="1.1"/><circle cx="208.6" cy="432.2" r="1.4" fill="none" stroke="#ff0000" stroke-width="0.9"/><circle cx="212.5" cy="431.8" r="1.4" fill="none" stroke="#ff0000" stroke-width="0.9"/><circle cx="216.3" cy="431.2" r="1.4" fill="none" stroke="#ff0000" stroke-width="0.9"/><circle cx="220.2" cy="430.4" r="1.4" fill="none" stroke="#ff0000" stroke-width="0.9"/><circle cx="224.0" cy="429.3" r="1.4" fill="none" stroke="#ff0000" stroke-width="0.9"/><circle cx="227.9" cy="427.9" r="1.4" fill="none" stroke="#ff0000" stroke-width="0.9"/><circle cx="231.8" cy="426.1" r="1.4" fill="none" stroke="#ff0000" stroke-width="0.9"/><circle cx="235.6" cy="423.8" r="1.4" fill="none" stroke="#ff0000" stroke-width="0.9"/><circle cx="239.5" cy="420.8" r="1.4" fill="none" stroke="#ff0000" stroke-width="0.9"/><circle cx="243.4" cy="417.2" r="1.4" fill="none" stroke="#ff0000" stroke-width="0.9"/><circle cx="247.2" cy="412.7" r="1.4" fill="none" stroke="#ff0000" stroke-width="0.9"/><circle cx="251.1" cy="407.5" r="1.4" fill="none" stroke="#ff0000" stroke-width="0.9"/><circle cx="255.0" cy="401.6" r="1.4" fill="none" stroke="#ff0000" stroke-width="0.9"/><circle cx="258.8" cy="395.2" r="1.4" fill="none" stroke="#ff0000" stroke-width="0.9"/><circle cx="262.7" cy="388.6" r="1.4" fill="none" stroke="#ff0000" stroke-width="0.9"/><circle cx="266.6" cy="382.0" r="1.4" fill="none" stroke="#ff0000" stroke-width="0.9"/><circle cx="270.4" cy="375.8" r="1.4" fill="none" stroke="#ff0000" stroke-width="0.9"/><circle cx="274.3" cy="370.1" r="1.4" fill="none" stroke="#ff0000" stroke-width="0.9"/><circle cx="278.2" cy="365.2" r="1.4" fill="none" stroke="#ff0000" stroke-width="0.9"/><circle cx="282.0" cy="361.0" r="1.4" fill="none" stroke="#ff0000" stroke-width="0.9"/><circle cx="285.9" cy="357.6" r="1.4" fill="none" stroke="#ff0000" stroke-width="0.9"/><circle cx="289.7" cy="354.9" r="1.4" fill="none" stroke="#ff0000" stroke-width="0.9"/><circle cx="293.6" cy="352.7" r="1.4" fill="none" stroke="#ff0000" stroke-width="0.9"/><circle cx="297.5" cy="351.1" r="1.4" fill="none" stroke="#ff0000" stroke-width="0.9"/><circle cx="301.3" cy="349.8" r="1.4" fill="none" stroke="#ff0000" stroke-width="0.9"/><circle cx="305.2" cy="348.9" r="1.4" fill="none" stroke="#ff0000" stroke-width="0.9"/><circle cx="309.1" cy="348.2" r="1.4" fill="none" stroke="#ff0000" stroke-width="0.9"/><circle cx="312.9" cy="347.6" r="1.4" fill="none" stroke="#ff0000" stroke-width="0.9"/><circle cx="316.8" cy="347.3" r="1.4" fill="none" stroke="#ff0000" stroke-width="0.9"/><circle cx="320.7" cy="347.0" r="1.4" fill="none" stroke="#ff0000" stroke-width="0.9"/><polyline points="205.1,432.9 205.7,432.8 206.3,432.8 206.9,432.8 207.5,432.7 208.1,432.7 208.7,432.7 209.3,432.6 209.9,432.6 210.5,432.5 211.1,432.5 211.7,432.4 212.3,432.4 212.9,432.3 213.5,432.3 214.1,432.2 214.7,432.2 215.3,432.1 215.9,432.0 216.5,432.0 217.1,431.9 217.7,431.8 218.3,431.7 218.9,431.7 219.5,431.6 220.1,431.5 220.7,431.4 221.3,431.3 221.9,431.2 222.5,431.1 223.1,431.0 223.7,430.9 224.3,430.7 224.9,430.6 225.5,430.5 226.1,430.3 226.7,430.2 227.3,430.0 227.9,429.9 228.5,429.7 229.1,429.5 229.7,429.3 230.3,429.1 230.9,428.9 231.5,428.7 232.1,428.5 232.7,428.3 233.3,428.0 233.9,427.8 234.5,427.5 235.1,427.3 235.7,427.0 236.3,426.7 236.9,426.4 237.5,426.1 238.1,425.8 238.7,425.4 239.3,425.1 239.9,424.7 240.5,424.3 241.1,423.9 241.7,423.5 242.3,423.1 242.9,422.6 243.5,422.2 244.1,421.7 244.7,421.2 245.3,420.7 245.9,420.2 246.5,419.6 247.1,419.1 247.7,418.5 248.3,417.9 248.9,417.3 249.5,416.6 250.1,416.0 250.7,415.3 251.3,414.6 251.9,413.9 252.5,413.2 253.1,412.4 253.7,411.7 254.3,410.9 254.9,410.1 255.5,409.3 256.1,408.4 256.7,407.6 257.3,406.7 257.9,405.8 258.5,404.9 259.1,404.0 259.7,403.0 260.3,402.1 260.9,401.1 261.5,400.2 262.1,399.2 262.7,398.2 263.3,397.2 263.9,396.2 264.5,395.1 265.1,394.1 265.7,393.1 266.3,392.1 266.9,391.0 267.5,390.0 268.1,389.0 268.7,387.9 269.3,386.9 269.9,385.9 270.5,384.8 271.1,383.8 271.7,382.8 272.3,381.8 272.9,380.8 273.5,379.8 274.1,378.8 274.7,377.9 275.3,376.9 275.9,376.0 276.5,375.0 277.1,374.1 277.7,373.2 278.3,372.4 278.9,371.5 279.5,370.6 280.1,369.8 280.7,369.0 281.3,368.2 281.9,367.4 282.5,366.7 283.1,366.0 283.7,365.2 284.3,364.5 284.9,363.9 285.5,363.2 286.1,362.5 286.7,361.9 287.3,361.3 287.9,360.7 288.5,360.2 289.1,359.6 289.7,359.1 290.3,358.6 290.9,358.1 291.5,357.6 292.1,357.1 292.7,356.7 293.3,356.2 293.9,355.8 294.5,355.4 295.1,355.0 295.7,354.7 296.3,354.3 296.9,354.0 297.5,353.6 298.1,353.3 298.7,353.0 299.3,352.7 299.9,352.4 300.5,352.2 301.1,351.9 301.7,351.6 302.3,351.4 302.9,351.2 303.5,350.9 304.1,350.7 304.7,350.5 305.3,350.3 305.9,350.2 306.5,350.0 307.1,349.8 307.7,349.6 308.3,349.5 308.9,349.3 309.5,349.2 310.1,349.0 310.7,348.9 311.3,348.8 311.9,348.7 312.5,348.6 313.1,348.4 313.7,348.3 314.3,348.2 314.9,348.1 315.5,348.1 316.1,348.0 316.7,347.9 317.3,347.8 317.9,347.7 318.5,347.7 319.1,347.6 319.7,347.5 320.3,347.5 320.9,347.4 321.5,347.3 322.1,347.3 322.7,347.2 323.3,347.2 323.9,347.1 324.5,347.1" fill="none" stroke="#ff0000" stroke-width="1.1"/><circle cx="208.6" cy="432.7" r="1.4" fill="none" stroke="#ff0000" stroke-width="0.9"/><circle cx="212.5" cy="432.4" r="1.4" fill="none" stroke="#ff0000" stroke-width="0.9"/><circle cx="216.3" cy="432.0" r="1.4" fill="none" stroke="#ff0000" stroke-width="0.9"/><circle cx="220.2" cy="431.5" r="1.4" fill="none" stroke="#ff0000" stroke-width="0.9"/><circle cx="224.0" cy="430.8" r="1.4" fill="none" stroke="#ff0000" stroke-width="0.9"/><circle cx="227.9" cy="429.9" r="1.4" fill="none" stroke="#ff0000" stroke-width="0.9"/><circle cx="231.8" cy="428.6" r="1.4" fill="none" stroke="#ff0000" stroke-width="0.9"/><circle cx="235.6" cy="427.0" r="1.4" fill="none" stroke="#ff0000" stroke-width="0.9"/><circle cx="239.5" cy="424.9" r="1.4" fill="none" stroke="#ff0000" stroke-width="0.9"/><circle cx="243.4" cy="422.3" r="1.4" fill="none" stroke="#ff0000" stroke-width="0.9"/><circle cx="247.2" cy="418.9" r="1.4" fill="none" stroke="#ff0000" stroke-width="0.9"/><circle cx="251.1" cy="414.9" r="1.4" fill="none" stroke="#ff0000" stroke-width="0.9"/><circle cx="255.0" cy="410.0" r="1.4" fill="none" stroke="#ff0000" stroke-width="0.9"/><circle cx="258.8" cy="404.4" r="1.4" fill="none" stroke="#ff0000" stroke-width="0.9"/><circle cx="262.7" cy="398.2" r="1.4" fill="none" stroke="#ff0000" stroke-width="0.9"/><circle cx="266.6" cy="391.6" r="1.4" fill="none" stroke="#ff0000" stroke-width="0.9"/><circle cx="270.4" cy="385.0" r="1.4" fill="none" stroke="#ff0000" stroke-width="0.9"/><circle cx="274.3" cy="378.5" r="1.4" fill="none" stroke="#ff0000" stroke-width="0.9"/><circle cx="278.2" cy="372.6" r="1.4" fill="none" stroke="#ff0000" stroke-width="0.9"/><circle cx="282.0" cy="367.3" r="1.4" fill="none" stroke="#ff0000" stroke-width="0.9"/><circle cx="285.9" cy="362.8" r="1.4" fill="none" stroke="#ff0000" stroke-width="0.9"/><circle cx="289.7" cy="359.1" r="1.4" fill="none" stroke="#ff0000" stroke-width="0.9"/><circle cx="293.6" cy="356.0" r="1.4" fill="none" stroke="#ff0000" stroke-width="0.9"/><circle cx="297.5" cy="353.6" r="1.4" fill="none" stroke="#ff0000" stroke-width="0.9"/><circle cx="301.3" cy="351.8" r="1.4" fill="none" stroke="#ff0000" stroke-width="0.9"/><circle cx="305.2" cy="350.4" r="1.4" fill="none" stroke="#ff0000" stroke-width="0.9"/><circle cx="309.1" cy="349.3" r="1.4" fill="none" stroke="#ff0000" stroke-width="0.9"/><circle cx="312.9" cy="348.5" r="1.4" fill="none" stroke="#ff0000" stroke-width="0.9"/><circle cx="316.8" cy="347.9" r="1.4" fill="none" stroke="#ff0000" stroke-width="0.9"/><circle cx="320.7" cy="347.4" r="1.4" fill="none" stroke="#ff0000" stroke-width="0.9"/></g>
<text x="210" y="350.7" font-size="6.6" text-anchor="end" fill="#1c1c1c" font-family='"Liberation Sans", sans-serif' letter-spacing="-0.2">2x10<tspan font-size="4.2" dy="-2.6">-6</tspan></text>
<text x="210" y="371.5" font-size="6.6" text-anchor="end" fill="#1c1c1c" font-family='"Liberation Sans", sans-serif' letter-spacing="-0.2">1x10<tspan font-size="4.2" dy="-2.6">-6</tspan></text>
<text x="210.0" y="392.3" font-size="6.6" text-anchor="end" letter-spacing="0" fill="#1c1c1c" stroke="#1c1c1c" stroke-width="0.12" font-family='"Liberation Sans", sans-serif' >0</text>
<text x="210" y="413.1" font-size="6.6" text-anchor="end" fill="#1c1c1c" font-family='"Liberation Sans", sans-serif' letter-spacing="-0.2">-1x10<tspan font-size="4.2" dy="-2.6">-6</tspan></text>
<text x="210" y="433.9" font-size="6.6" text-anchor="end" fill="#1c1c1c" font-family='"Liberation Sans", sans-serif' letter-spacing="-0.2">-2x10<tspan font-size="4.2" dy="-2.6">-6</tspan></text>
<text x="212.1" y="438.5" font-size="6.6" text-anchor="middle" letter-spacing="-0.2" fill="#1c1c1c" stroke="#1c1c1c" stroke-width="0.12" font-family='"Liberation Sans", sans-serif' >-1500</text>
<text x="229.7" y="438.5" font-size="6.6" text-anchor="middle" letter-spacing="-0.2" fill="#1c1c1c" stroke="#1c1c1c" stroke-width="0.12" font-family='"Liberation Sans", sans-serif' >-1000</text>
<text x="247.2" y="438.5" font-size="6.6" text-anchor="middle" letter-spacing="-0.2" fill="#1c1c1c" stroke="#1c1c1c" stroke-width="0.12" font-family='"Liberation Sans", sans-serif' >-500</text>
<text x="264.8" y="438.5" font-size="6.6" text-anchor="middle" letter-spacing="-0.2" fill="#1c1c1c" stroke="#1c1c1c" stroke-width="0.12" font-family='"Liberation Sans", sans-serif' >0</text>
<text x="282.4" y="438.5" font-size="6.6" text-anchor="middle" letter-spacing="-0.2" fill="#1c1c1c" stroke="#1c1c1c" stroke-width="0.12" font-family='"Liberation Sans", sans-serif' >500</text>
<text x="299.9" y="438.5" font-size="6.6" text-anchor="middle" letter-spacing="-0.2" fill="#1c1c1c" stroke="#1c1c1c" stroke-width="0.12" font-family='"Liberation Sans", sans-serif' >1000</text>
<text x="317.5" y="438.5" font-size="6.6" text-anchor="middle" letter-spacing="-0.2" fill="#1c1c1c" stroke="#1c1c1c" stroke-width="0.12" font-family='"Liberation Sans", sans-serif' >1500</text>
<rect x="396" y="244" width="258" height="207.3" fill="none" stroke="#000" stroke-width="2" stroke-linejoin="round"/><path d="M444.2 451.3v-4.2M444.2 244v4.2M492.8 451.3v-4.2M492.8 244v4.2M541.5 451.3v-4.2M541.5 244v4.2M590.1 451.3v-4.2M590.1 244v4.2M638.8 451.3v-4.2M638.8 244v4.2M419.8 451.3v-2.6M419.8 244v2.6M468.5 451.3v-2.6M468.5 244v2.6M517.1 451.3v-2.6M517.1 244v2.6M565.8 451.3v-2.6M565.8 244v2.6M614.5 451.3v-2.6M614.5 244v2.6M396 407.3h4.2M654 407.3h-4.2M396 359.5h4.2M654 359.5h-4.2M396 311.7h4.2M654 311.7h-4.2M396 263.9h4.2M654 263.9h-4.2M396 431.2h2.6M654 431.2h-2.6M396 383.4h2.6M654 383.4h-2.6M396 335.6h2.6M654 335.6h-2.6M396 287.8h2.6M654 287.8h-2.6" stroke="#000" stroke-width="1.9" fill="none"/>
<polyline points="396.5,283.8 398.0,284.2 399.5,284.7 401.0,285.1 402.5,285.4 404.1,285.7 405.6,286.2 407.1,286.8 408.6,287.6 410.1,288.5 411.6,289.5 413.1,290.7 414.6,292.1 416.2,294.6 417.7,295.0 419.2,292.1 420.7,289.8 422.2,288.1 423.7,287.9 425.2,288.8 426.7,289.9 428.2,290.8 429.8,291.5 431.3,292.2 432.8,292.5 434.3,291.3 435.8,289.6 437.3,290.8 438.8,293.6 440.3,295.9 441.9,297.3 443.4,295.8 444.9,292.9 446.4,292.1 447.9,294.6 449.4,297.5 450.9,297.7 452.4,297.1 453.9,296.2 455.5,295.1 457.0,293.4 458.5,292.0 460.0,292.3 461.5,294.0 463.0,295.5 464.5,296.6 466.0,297.5 467.6,297.8 469.1,297.9 470.6,298.0 472.1,298.2 473.6,298.6 475.1,299.0 476.6,299.4 478.1,299.9 479.6,300.5 481.2,302.6 482.7,305.4 484.2,304.6 485.7,301.9 487.2,299.4 488.7,299.7 490.2,303.9 491.7,307.2 493.3,307.1 494.8,306.6 496.3,305.9 497.8,304.9 499.3,303.5 500.8,302.5 502.3,304.1 503.8,308.2 505.3,311.6 506.9,311.4 508.4,308.4 509.9,305.6 511.4,304.3 512.9,303.2 514.4,302.6 515.9,302.9 517.4,304.8 519.0,307.2 520.5,308.8 522.0,310.0 523.5,311.2 525.0,312.3 526.5,312.9 528.0,313.2 529.5,312.1 531.0,309.9 532.6,307.7 534.1,306.4 535.6,305.2 537.1,304.5 538.6,304.4 540.1,305.7 541.6,307.3 543.1,308.0 544.7,305.1 546.2,303.0 547.7,303.0 549.2,305.3 550.7,310.5 552.2,313.8 553.7,315.9 555.2,315.5 556.7,314.2 558.3,313.6 559.8,315.2 561.3,317.7 562.8,319.2 564.3,320.5 565.8,321.6 567.3,322.4 568.8,322.8 570.4,323.1 571.9,323.3 573.4,323.3 574.9,321.6 576.4,319.1 577.9,317.7 579.4,317.9 580.9,318.4 582.4,319.0 584.0,320.0 585.5,321.5 587.0,323.3 588.5,324.6 590.0,325.8 591.5,326.6 593.0,326.2 594.5,324.2 596.1,322.6 597.6,321.6 599.1,320.8 600.6,320.2 602.1,319.8 603.6,319.4 605.1,319.3 606.6,319.8 608.1,320.9 609.7,322.3 611.2,324.7 612.7,327.4 614.2,323.5 615.7,315.2 617.2,312.2 618.7,310.2 620.2,309.6 621.8,310.8 623.3,313.2 624.8,316.3 626.3,320.7 627.8,322.2 629.3,322.5 630.8,322.8 632.3,323.1 633.8,324.2 635.4,327.1 636.9,330.4 638.4,333.8 639.9,337.1 641.4,340.0 642.9,338.9 644.4,333.6 645.9,331.6 647.5,330.8 649.0,330.0 650.5,328.4 652.0,324.3 653.5,318.5" fill="none" stroke="#ff0000" stroke-width="2.5" stroke-linejoin="round"/><path d="M394.5 281.6h4.0v4.0h-4.0zM395.5 280.5h4.0v4.0h-4.0zM396.6 282.6h4.0v4.0h-4.0zM397.1 283.6h4.0v4.0h-4.0zM398.2 284.2h4.0v4.0h-4.0zM399.9 282.8h4.0v4.0h-4.0zM400.2 282.4h4.0v4.0h-4.0zM401.2 285.0h4.0v4.0h-4.0zM402.9 285.1h4.0v4.0h-4.0zM403.6 286.0h4.0v4.0h-4.0zM404.4 284.7h4.0v4.0h-4.0zM405.6 285.5h4.0v4.0h-4.0zM406.7 285.4h4.0v4.0h-4.0zM407.4 285.1h4.0v4.0h-4.0zM408.3 286.2h4.0v4.0h-4.0zM409.8 287.8h4.0v4.0h-4.0zM410.7 288.3h4.0v4.0h-4.0zM411.6 289.4h4.0v4.0h-4.0zM412.8 290.3h4.0v4.0h-4.0zM413.6 290.9h4.0v4.0h-4.0zM415.0 295.1h4.0v4.0h-4.0zM415.3 292.8h4.0v4.0h-4.0zM416.6 291.6h4.0v4.0h-4.0zM417.6 288.6h4.0v4.0h-4.0zM418.5 288.9h4.0v4.0h-4.0zM419.7 286.3h4.0v4.0h-4.0zM420.4 285.3h4.0v4.0h-4.0zM421.8 284.6h4.0v4.0h-4.0zM422.9 287.2h4.0v4.0h-4.0zM423.3 286.6h4.0v4.0h-4.0zM424.6 286.7h4.0v4.0h-4.0zM425.4 287.2h4.0v4.0h-4.0zM426.3 288.2h4.0v4.0h-4.0zM427.9 289.6h4.0v4.0h-4.0zM428.6 289.7h4.0v4.0h-4.0zM429.4 291.6h4.0v4.0h-4.0zM430.8 291.8h4.0v4.0h-4.0zM431.4 291.9h4.0v4.0h-4.0zM433.0 289.7h4.0v4.0h-4.0zM433.4 287.3h4.0v4.0h-4.0zM434.3 287.5h4.0v4.0h-4.0zM435.4 288.7h4.0v4.0h-4.0zM436.5 290.3h4.0v4.0h-4.0zM437.6 291.5h4.0v4.0h-4.0zM439.0 295.9h4.0v4.0h-4.0zM439.8 294.9h4.0v4.0h-4.0zM440.6 294.0h4.0v4.0h-4.0zM441.3 293.9h4.0v4.0h-4.0zM442.4 292.4h4.0v4.0h-4.0zM444.1 290.1h4.0v4.0h-4.0zM444.7 289.8h4.0v4.0h-4.0zM445.9 293.1h4.0v4.0h-4.0zM446.3 293.1h4.0v4.0h-4.0zM447.3 293.8h4.0v4.0h-4.0zM449.0 295.7h4.0v4.0h-4.0zM449.8 295.5h4.0v4.0h-4.0zM450.6 296.3h4.0v4.0h-4.0zM451.6 294.3h4.0v4.0h-4.0zM452.4 294.8h4.0v4.0h-4.0zM453.5 291.9h4.0v4.0h-4.0zM454.4 290.2h4.0v4.0h-4.0zM456.0 290.3h4.0v4.0h-4.0zM456.7 289.2h4.0v4.0h-4.0zM457.4 288.4h4.0v4.0h-4.0zM458.9 289.7h4.0v4.0h-4.0zM459.5 291.2h4.0v4.0h-4.0zM460.4 292.2h4.0v4.0h-4.0zM461.8 294.2h4.0v4.0h-4.0zM463.1 295.8h4.0v4.0h-4.0zM463.4 294.9h4.0v4.0h-4.0zM465.0 295.4h4.0v4.0h-4.0zM465.5 296.0h4.0v4.0h-4.0zM466.5 294.8h4.0v4.0h-4.0zM467.4 295.7h4.0v4.0h-4.0zM468.6 295.0h4.0v4.0h-4.0zM470.0 295.7h4.0v4.0h-4.0zM470.8 294.6h4.0v4.0h-4.0zM472.1 297.2h4.0v4.0h-4.0zM472.6 296.8h4.0v4.0h-4.0zM473.7 298.4h4.0v4.0h-4.0zM474.6 299.0h4.0v4.0h-4.0zM476.2 296.7h4.0v4.0h-4.0zM477.2 299.0h4.0v4.0h-4.0zM477.7 298.9h4.0v4.0h-4.0zM478.8 298.6h4.0v4.0h-4.0zM479.7 303.2h4.0v4.0h-4.0zM481.0 303.6h4.0v4.0h-4.0zM481.5 304.8h4.0v4.0h-4.0zM482.5 302.5h4.0v4.0h-4.0zM483.8 301.1h4.0v4.0h-4.0zM484.6 296.4h4.0v4.0h-4.0zM486.1 294.7h4.0v4.0h-4.0zM487.1 297.7h4.0v4.0h-4.0zM487.9 301.4h4.0v4.0h-4.0zM489.0 304.3h4.0v4.0h-4.0zM490.0 305.4h4.0v4.0h-4.0zM491.1 305.2h4.0v4.0h-4.0zM492.2 305.5h4.0v4.0h-4.0zM492.6 303.6h4.0v4.0h-4.0zM494.0 305.1h4.0v4.0h-4.0zM494.6 301.9h4.0v4.0h-4.0zM495.8 302.3h4.0v4.0h-4.0zM497.1 302.4h4.0v4.0h-4.0zM498.2 300.8h4.0v4.0h-4.0zM499.1 300.8h4.0v4.0h-4.0zM499.5 300.9h4.0v4.0h-4.0zM500.8 304.0h4.0v4.0h-4.0zM501.6 305.6h4.0v4.0h-4.0zM503.3 308.1h4.0v4.0h-4.0zM503.6 309.0h4.0v4.0h-4.0zM504.7 308.6h4.0v4.0h-4.0zM505.8 308.6h4.0v4.0h-4.0zM506.6 304.9h4.0v4.0h-4.0zM508.2 305.2h4.0v4.0h-4.0zM509.1 302.2h4.0v4.0h-4.0zM509.7 301.8h4.0v4.0h-4.0zM511.0 300.9h4.0v4.0h-4.0zM511.6 299.7h4.0v4.0h-4.0zM513.0 300.5h4.0v4.0h-4.0zM513.8 299.3h4.0v4.0h-4.0zM514.6 301.4h4.0v4.0h-4.0zM515.7 301.4h4.0v4.0h-4.0zM517.0 304.4h4.0v4.0h-4.0zM518.1 307.3h4.0v4.0h-4.0zM518.8 307.0h4.0v4.0h-4.0zM520.1 307.1h4.0v4.0h-4.0zM520.9 309.3h4.0v4.0h-4.0zM521.7 310.5h4.0v4.0h-4.0zM522.9 310.0h4.0v4.0h-4.0zM523.9 309.9h4.0v4.0h-4.0zM525.3 311.8h4.0v4.0h-4.0zM525.7 312.0h4.0v4.0h-4.0zM526.7 311.5h4.0v4.0h-4.0zM528.1 308.6h4.0v4.0h-4.0zM529.4 306.2h4.0v4.0h-4.0zM530.4 306.8h4.0v4.0h-4.0zM531.2 305.6h4.0v4.0h-4.0zM531.7 306.1h4.0v4.0h-4.0zM533.3 304.3h4.0v4.0h-4.0zM534.2 302.4h4.0v4.0h-4.0zM534.8 301.5h4.0v4.0h-4.0zM536.0 303.6h4.0v4.0h-4.0zM536.7 303.9h4.0v4.0h-4.0zM538.3 304.0h4.0v4.0h-4.0zM539.2 305.6h4.0v4.0h-4.0zM540.3 306.0h4.0v4.0h-4.0zM541.3 304.7h4.0v4.0h-4.0zM541.9 304.6h4.0v4.0h-4.0zM543.3 301.2h4.0v4.0h-4.0zM543.9 301.6h4.0v4.0h-4.0zM544.8 303.2h4.0v4.0h-4.0zM546.0 302.2h4.0v4.0h-4.0zM547.1 303.0h4.0v4.0h-4.0zM547.9 305.4h4.0v4.0h-4.0zM549.2 310.0h4.0v4.0h-4.0zM550.2 310.6h4.0v4.0h-4.0zM550.9 314.3h4.0v4.0h-4.0zM552.2 312.8h4.0v4.0h-4.0zM553.0 313.0h4.0v4.0h-4.0zM554.3 313.0h4.0v4.0h-4.0zM555.0 312.4h4.0v4.0h-4.0zM556.4 313.2h4.0v4.0h-4.0zM557.1 311.7h4.0v4.0h-4.0zM558.2 314.0h4.0v4.0h-4.0zM559.3 315.6h4.0v4.0h-4.0zM560.2 315.9h4.0v4.0h-4.0zM561.0 318.0h4.0v4.0h-4.0zM562.5 319.1h4.0v4.0h-4.0zM562.8 319.9h4.0v4.0h-4.0zM564.0 319.1h4.0v4.0h-4.0zM565.2 320.4h4.0v4.0h-4.0zM565.8 319.9h4.0v4.0h-4.0zM566.9 320.9h4.0v4.0h-4.0zM568.4 321.6h4.0v4.0h-4.0zM569.4 320.7h4.0v4.0h-4.0zM570.3 320.8h4.0v4.0h-4.0zM571.5 321.1h4.0v4.0h-4.0zM572.4 320.2h4.0v4.0h-4.0zM573.0 320.1h4.0v4.0h-4.0zM574.3 317.7h4.0v4.0h-4.0zM575.1 316.0h4.0v4.0h-4.0zM576.4 314.6h4.0v4.0h-4.0zM577.1 315.6h4.0v4.0h-4.0zM577.9 318.0h4.0v4.0h-4.0zM579.5 316.0h4.0v4.0h-4.0zM580.4 317.8h4.0v4.0h-4.0zM581.4 317.8h4.0v4.0h-4.0zM582.3 319.5h4.0v4.0h-4.0zM583.5 318.4h4.0v4.0h-4.0zM584.2 322.3h4.0v4.0h-4.0zM585.3 322.5h4.0v4.0h-4.0zM585.9 322.4h4.0v4.0h-4.0zM587.3 324.0h4.0v4.0h-4.0zM588.5 324.8h4.0v4.0h-4.0zM589.4 324.8h4.0v4.0h-4.0zM590.5 325.3h4.0v4.0h-4.0zM591.3 323.0h4.0v4.0h-4.0zM592.6 320.8h4.0v4.0h-4.0zM593.0 323.0h4.0v4.0h-4.0zM594.6 320.3h4.0v4.0h-4.0zM595.2 321.0h4.0v4.0h-4.0zM596.0 319.4h4.0v4.0h-4.0zM597.4 319.6h4.0v4.0h-4.0zM598.3 319.4h4.0v4.0h-4.0zM599.2 319.5h4.0v4.0h-4.0zM600.6 318.7h4.0v4.0h-4.0zM601.0 316.4h4.0v4.0h-4.0zM602.4 316.4h4.0v4.0h-4.0zM603.2 316.5h4.0v4.0h-4.0zM604.3 316.9h4.0v4.0h-4.0zM605.3 316.9h4.0v4.0h-4.0zM606.0 317.5h4.0v4.0h-4.0zM607.3 318.9h4.0v4.0h-4.0zM608.6 322.6h4.0v4.0h-4.0zM609.1 321.8h4.0v4.0h-4.0zM609.9 325.4h4.0v4.0h-4.0zM611.0 325.2h4.0v4.0h-4.0zM612.3 322.0h4.0v4.0h-4.0zM613.7 314.5h4.0v4.0h-4.0zM614.0 312.0h4.0v4.0h-4.0zM615.8 309.0h4.0v4.0h-4.0zM616.4 307.5h4.0v4.0h-4.0zM617.1 307.5h4.0v4.0h-4.0zM618.3 307.2h4.0v4.0h-4.0zM619.1 307.6h4.0v4.0h-4.0zM620.6 309.9h4.0v4.0h-4.0zM621.4 312.1h4.0v4.0h-4.0zM622.2 311.9h4.0v4.0h-4.0zM623.2 315.5h4.0v4.0h-4.0zM624.7 320.5h4.0v4.0h-4.0zM625.6 318.4h4.0v4.0h-4.0zM626.4 318.7h4.0v4.0h-4.0zM627.3 319.9h4.0v4.0h-4.0zM628.6 322.2h4.0v4.0h-4.0zM629.8 320.7h4.0v4.0h-4.0zM630.1 321.8h4.0v4.0h-4.0zM631.1 322.8h4.0v4.0h-4.0zM632.3 322.1h4.0v4.0h-4.0zM633.4 326.3h4.0v4.0h-4.0zM634.1 325.4h4.0v4.0h-4.0zM635.1 329.2h4.0v4.0h-4.0zM636.2 331.6h4.0v4.0h-4.0zM637.4 334.8h4.0v4.0h-4.0zM638.6 335.7h4.0v4.0h-4.0zM639.5 337.9h4.0v4.0h-4.0zM640.1 337.4h4.0v4.0h-4.0zM641.1 335.8h4.0v4.0h-4.0zM642.4 332.8h4.0v4.0h-4.0zM643.8 330.6h4.0v4.0h-4.0zM644.8 329.1h4.0v4.0h-4.0zM645.4 330.0h4.0v4.0h-4.0zM646.8 329.4h4.0v4.0h-4.0zM647.8 326.9h4.0v4.0h-4.0zM648.4 327.8h4.0v4.0h-4.0zM649.7 323.0h4.0v4.0h-4.0zM650.4 319.9h4.0v4.0h-4.0zM651.2 317.1h4.0v4.0h-4.0z" fill="#ff0000"/>
<polyline points="396.5,405.6 397.5,404.4 398.5,401.9 399.5,400.1 400.5,399.7 401.5,395.5 402.5,396.6 403.4,398.5 404.4,402.4 405.4,406.5 406.4,409.0 407.4,410.4 408.4,405.3 409.4,404.7 410.4,401.1 411.4,401.3 412.4,398.5 413.4,397.6 414.4,395.6 415.4,395.3 416.3,394.3 417.3,392.3 418.3,391.2 419.3,390.6 420.3,391.0 421.3,395.9 422.3,401.2 423.3,406.4 424.3,415.2 425.3,420.1 426.3,426.6 427.3,420.7 428.3,416.2 429.2,410.4 430.2,405.7 431.2,396.7 432.2,388.2 433.2,381.6 434.2,387.7 435.2,395.1 436.2,400.2 437.2,405.4 438.2,412.4 439.2,416.8 440.2,423.0 441.2,426.5 442.1,418.0 443.1,409.2 444.1,404.9 445.1,400.2 446.1,396.6 447.1,394.8 448.1,392.8 449.1,389.8 450.1,390.1 451.1,389.0 452.1,387.5 453.1,393.9 454.1,400.1 455.0,407.6 456.0,412.1 457.0,418.5 458.0,425.6 459.0,422.1 460.0,419.4 461.0,416.7 462.0,414.5 463.0,411.2 464.0,405.4 465.0,401.2 466.0,406.0 467.0,409.5 467.9,413.1 468.9,412.8 469.9,412.1 470.9,409.8 471.9,408.9 472.9,403.6 473.9,399.7 474.9,397.4 475.9,398.8 476.9,400.4 477.9,401.8 478.9,403.6 479.9,402.8 480.8,399.0 481.8,398.8 482.8,401.2 483.8,403.0 484.8,402.6 485.8,401.5 486.8,394.8 487.8,389.9 488.8,385.4 489.8,387.5 490.8,388.7 491.8,394.6 492.8,397.2 493.7,400.1 494.7,404.4 495.7,406.3 496.7,409.8 497.7,411.8 498.7,412.2 499.7,413.8 500.7,419.2 501.7,426.3 502.7,425.9 503.7,419.5 504.7,413.9 505.7,409.3 506.6,406.3 507.6,399.8 508.6,396.6 509.6,390.4 510.6,393.1 511.6,394.6 512.6,397.5 513.6,398.3 514.6,399.7 515.6,404.2 516.6,406.6 517.6,407.5 518.6,407.7 519.5,408.9 520.5,407.7 521.5,409.8 522.5,408.4 523.5,412.6 524.5,417.2 525.5,419.7 526.5,424.0 527.5,429.4 528.5,430.5 529.5,432.9 530.5,432.2 531.4,430.8 532.4,427.6 533.4,422.6 534.4,415.5 535.4,409.8 536.4,403.5 537.4,397.1 538.4,394.5 539.4,390.6 540.4,394.5 541.4,398.6 542.4,401.6 543.4,402.9 544.3,406.8 545.3,409.5 546.3,410.3 547.3,411.5 548.3,414.9 549.3,420.1 550.3,420.0 551.3,412.4 552.3,404.1 553.3,390.3 554.3,383.7 555.3,378.8 556.3,383.3 557.2,388.1 558.2,394.2 559.2,399.4 560.2,404.4 561.2,407.8 562.2,414.6 563.2,421.1 564.2,428.1 565.2,431.2 566.2,422.2 567.2,414.0 568.2,409.5 569.2,403.9 570.1,402.9 571.1,400.3 572.1,396.7 573.1,395.2 574.1,397.6 575.1,398.7 576.1,401.9 577.1,408.4 578.1,421.1 579.1,430.6 580.1,445.1 581.1,438.1 582.1,431.9 583.0,426.8 584.0,419.9 585.0,412.7 586.0,407.4 587.0,409.5 588.0,410.1 589.0,412.5 590.0,414.8 591.0,416.3 592.0,420.5 593.0,424.8 594.0,430.0 595.0,434.7 595.9,427.2 596.9,421.4 597.9,403.6 598.9,389.5 599.9,390.8 600.9,395.2 601.9,400.1 602.9,403.7 603.9,414.3 604.9,425.4 605.9,418.6 606.9,409.2 607.9,401.5 608.8,395.3 609.8,398.5 610.8,402.0 611.8,409.7 612.8,420.9 613.8,428.7 614.8,436.9 615.8,437.2 616.8,431.8 617.8,428.7 618.8,422.1 619.8,416.3 620.8,412.7 621.7,412.6 622.7,408.9 623.7,408.1 624.7,411.5 625.7,409.2 626.7,411.0 627.7,410.2 628.7,408.9 629.7,413.6 630.7,422.2 631.7,411.8 632.7,393.8 633.7,384.2 634.6,386.0 635.6,386.7 636.6,389.1 637.6,392.8 638.6,397.4 639.6,398.8 640.6,402.2 641.6,406.6 642.6,410.2 643.6,411.7 644.6,415.8 645.6,417.4 646.6,421.1 647.5,424.0 648.5,424.5 649.5,428.4 650.5,430.3 651.5,431.8 652.5,430.0 653.5,428.2" fill="none" stroke="#000" stroke-width="2.6" stroke-dasharray="3.2 1.5"/>
<path d="M403.6 404.7h3.7v3.7h-3.7zM406.6 403.5h3.7v3.7h-3.7zM409.5 399.5h3.7v3.7h-3.7zM410.5 396.7h3.7v3.7h-3.7zM411.5 395.7h3.7v3.7h-3.7zM412.5 393.7h3.7v3.7h-3.7zM413.5 393.4h3.7v3.7h-3.7zM416.5 389.3h3.7v3.7h-3.7zM420.4 399.4h3.7v3.7h-3.7zM421.4 404.6h3.7v3.7h-3.7zM422.4 413.3h3.7v3.7h-3.7zM423.4 418.2h3.7v3.7h-3.7zM424.4 424.8h3.7v3.7h-3.7zM425.4 418.9h3.7v3.7h-3.7zM426.4 414.3h3.7v3.7h-3.7zM430.4 386.3h3.7v3.7h-3.7zM431.4 379.8h3.7v3.7h-3.7zM432.4 385.9h3.7v3.7h-3.7zM433.3 393.3h3.7v3.7h-3.7zM434.3 398.3h3.7v3.7h-3.7zM435.3 403.6h3.7v3.7h-3.7zM437.3 414.9h3.7v3.7h-3.7zM440.3 416.2h3.7v3.7h-3.7zM441.3 407.4h3.7v3.7h-3.7zM443.3 398.4h3.7v3.7h-3.7zM445.3 393.0h3.7v3.7h-3.7zM447.2 388.0h3.7v3.7h-3.7zM449.2 387.2h3.7v3.7h-3.7zM452.2 398.2h3.7v3.7h-3.7zM453.2 405.7h3.7v3.7h-3.7zM454.2 410.2h3.7v3.7h-3.7zM455.2 416.7h3.7v3.7h-3.7zM456.2 423.7h3.7v3.7h-3.7zM457.2 420.2h3.7v3.7h-3.7zM458.2 417.6h3.7v3.7h-3.7zM459.1 414.8h3.7v3.7h-3.7zM461.1 409.4h3.7v3.7h-3.7zM464.1 404.1h3.7v3.7h-3.7zM465.1 407.7h3.7v3.7h-3.7zM468.1 410.2h3.7v3.7h-3.7zM470.1 407.1h3.7v3.7h-3.7zM473.0 395.5h3.7v3.7h-3.7zM475.0 398.5h3.7v3.7h-3.7zM476.0 400.0h3.7v3.7h-3.7zM477.0 401.7h3.7v3.7h-3.7zM480.0 396.9h3.7v3.7h-3.7zM482.0 401.1h3.7v3.7h-3.7zM483.0 400.7h3.7v3.7h-3.7zM484.9 392.9h3.7v3.7h-3.7zM485.9 388.1h3.7v3.7h-3.7zM487.9 385.6h3.7v3.7h-3.7zM488.9 386.9h3.7v3.7h-3.7zM489.9 392.8h3.7v3.7h-3.7zM493.9 404.4h3.7v3.7h-3.7zM494.9 407.9h3.7v3.7h-3.7zM496.9 410.3h3.7v3.7h-3.7zM497.8 411.9h3.7v3.7h-3.7zM499.8 424.5h3.7v3.7h-3.7zM500.8 424.0h3.7v3.7h-3.7zM501.8 417.6h3.7v3.7h-3.7zM502.8 412.0h3.7v3.7h-3.7zM503.8 407.5h3.7v3.7h-3.7zM507.8 388.5h3.7v3.7h-3.7zM509.8 392.8h3.7v3.7h-3.7zM511.7 396.5h3.7v3.7h-3.7zM512.7 397.9h3.7v3.7h-3.7zM513.7 402.3h3.7v3.7h-3.7zM514.7 404.7h3.7v3.7h-3.7zM516.7 405.8h3.7v3.7h-3.7zM517.7 407.1h3.7v3.7h-3.7zM518.7 405.8h3.7v3.7h-3.7zM520.7 406.6h3.7v3.7h-3.7zM521.7 410.8h3.7v3.7h-3.7zM522.7 415.3h3.7v3.7h-3.7zM523.6 417.9h3.7v3.7h-3.7zM525.6 427.6h3.7v3.7h-3.7zM527.6 431.0h3.7v3.7h-3.7zM529.6 428.9h3.7v3.7h-3.7zM532.6 413.7h3.7v3.7h-3.7zM534.6 401.7h3.7v3.7h-3.7zM536.5 392.7h3.7v3.7h-3.7zM537.5 388.7h3.7v3.7h-3.7zM539.5 396.7h3.7v3.7h-3.7zM540.5 399.7h3.7v3.7h-3.7zM543.5 407.7h3.7v3.7h-3.7zM544.5 408.5h3.7v3.7h-3.7zM545.5 409.6h3.7v3.7h-3.7zM546.5 413.0h3.7v3.7h-3.7zM547.5 418.3h3.7v3.7h-3.7zM549.4 410.5h3.7v3.7h-3.7zM550.4 402.2h3.7v3.7h-3.7zM551.4 388.4h3.7v3.7h-3.7zM552.4 381.8h3.7v3.7h-3.7zM553.4 377.0h3.7v3.7h-3.7zM554.4 381.4h3.7v3.7h-3.7zM556.4 392.4h3.7v3.7h-3.7zM557.4 397.5h3.7v3.7h-3.7zM559.4 405.9h3.7v3.7h-3.7zM560.4 412.8h3.7v3.7h-3.7zM561.4 419.2h3.7v3.7h-3.7zM563.3 429.4h3.7v3.7h-3.7zM565.3 412.2h3.7v3.7h-3.7zM567.3 402.0h3.7v3.7h-3.7zM569.3 398.4h3.7v3.7h-3.7zM570.3 394.9h3.7v3.7h-3.7zM571.3 393.4h3.7v3.7h-3.7zM572.3 395.7h3.7v3.7h-3.7zM573.3 396.8h3.7v3.7h-3.7zM574.3 400.0h3.7v3.7h-3.7zM576.2 419.3h3.7v3.7h-3.7zM577.2 428.8h3.7v3.7h-3.7zM579.2 436.2h3.7v3.7h-3.7zM580.2 430.0h3.7v3.7h-3.7zM581.2 425.0h3.7v3.7h-3.7zM582.2 418.1h3.7v3.7h-3.7zM583.2 410.8h3.7v3.7h-3.7zM585.2 407.7h3.7v3.7h-3.7zM586.2 408.2h3.7v3.7h-3.7zM587.2 410.6h3.7v3.7h-3.7zM589.1 414.4h3.7v3.7h-3.7zM592.1 428.2h3.7v3.7h-3.7zM593.1 432.8h3.7v3.7h-3.7zM594.1 425.3h3.7v3.7h-3.7zM598.1 388.9h3.7v3.7h-3.7zM599.1 393.3h3.7v3.7h-3.7zM600.1 398.3h3.7v3.7h-3.7zM602.0 412.4h3.7v3.7h-3.7zM606.0 399.7h3.7v3.7h-3.7zM608.0 396.7h3.7v3.7h-3.7zM609.0 400.2h3.7v3.7h-3.7zM611.0 419.0h3.7v3.7h-3.7zM612.0 426.9h3.7v3.7h-3.7zM613.0 435.1h3.7v3.7h-3.7zM613.9 435.4h3.7v3.7h-3.7zM615.9 426.9h3.7v3.7h-3.7zM617.9 414.5h3.7v3.7h-3.7zM618.9 410.9h3.7v3.7h-3.7zM619.9 410.7h3.7v3.7h-3.7zM620.9 407.1h3.7v3.7h-3.7zM623.9 407.4h3.7v3.7h-3.7zM627.8 411.7h3.7v3.7h-3.7zM628.8 420.4h3.7v3.7h-3.7zM629.8 410.0h3.7v3.7h-3.7zM634.8 387.2h3.7v3.7h-3.7zM635.8 391.0h3.7v3.7h-3.7zM636.8 395.6h3.7v3.7h-3.7zM637.8 397.0h3.7v3.7h-3.7zM638.8 400.4h3.7v3.7h-3.7zM639.7 404.7h3.7v3.7h-3.7zM640.7 408.3h3.7v3.7h-3.7zM641.7 409.8h3.7v3.7h-3.7zM644.7 419.3h3.7v3.7h-3.7zM646.7 422.7h3.7v3.7h-3.7zM647.7 426.6h3.7v3.7h-3.7zM649.7 430.0h3.7v3.7h-3.7zM650.7 428.1h3.7v3.7h-3.7zM651.6 426.4h3.7v3.7h-3.7z" fill="#000"/>
<path d="M536 268.9h26.7" stroke="#000" stroke-width="2"/><rect x="547.6" y="267.2" width="3.4" height="3.4" fill="#000"/>
<path d="M536 283.1h26.7" stroke="#ff0000" stroke-width="2"/><rect x="547.6" y="281.4" width="3.4" height="3.4" fill="#ff0000"/>
<text x="565.3" y="272.6" font-size="10.2" text-anchor="start" letter-spacing="0.75" fill="#1c1c1c" stroke="#1c1c1c" stroke-width="0.12" font-family='"Liberation Sans", sans-serif' >out of plane</text>
<text x="565.3" y="286.8" font-size="10.2" text-anchor="start" letter-spacing="0.75" fill="#1c1c1c" stroke="#1c1c1c" stroke-width="0.12" font-family='"Liberation Sans", sans-serif' >in plane</text>
<text x="417.8" y="270.5" font-size="20.5" text-anchor="middle" letter-spacing="1.4" fill="#111" stroke="#111" stroke-width="0.12" font-family='"Liberation Sans", sans-serif' >(d)</text>
<text x="391.0" y="267.1" font-size="8.4" text-anchor="end" fill="#2a2a2a" font-family='"Liberation Sans", sans-serif'><tspan letter-spacing="0.8">3.0x1</tspan><tspan>0</tspan><tspan font-size="5.4" dy="-4.2">-5</tspan></text>
<text x="391.0" y="314.9" font-size="8.4" text-anchor="end" fill="#2a2a2a" font-family='"Liberation Sans", sans-serif'><tspan letter-spacing="0.8">2.0x1</tspan><tspan>0</tspan><tspan font-size="5.4" dy="-4.2">-5</tspan></text>
<text x="391.0" y="362.7" font-size="8.4" text-anchor="end" fill="#2a2a2a" font-family='"Liberation Sans", sans-serif'><tspan letter-spacing="0.8">1.0x1</tspan><tspan>0</tspan><tspan font-size="5.4" dy="-4.2">-5</tspan></text>
<text x="390.6" y="409.1" font-size="8.4" text-anchor="end" letter-spacing="0.55" fill="#1c1c1c" stroke="#1c1c1c" stroke-width="0.12" font-family='"Liberation Sans", sans-serif' >0.0</text>
<text x="396.5" y="464.2" font-size="9" text-anchor="middle" letter-spacing="1.1" fill="#1c1c1c" stroke="#1c1c1c" stroke-width="0.12" font-family='"Liberation Sans", sans-serif' >50</text>
<text x="445.2" y="464.2" font-size="9" text-anchor="middle" letter-spacing="1.1" fill="#1c1c1c" stroke="#1c1c1c" stroke-width="0.12" font-family='"Liberation Sans", sans-serif' >100</text>
<text x="493.8" y="464.2" font-size="9" text-anchor="middle" letter-spacing="1.1" fill="#1c1c1c" stroke="#1c1c1c" stroke-width="0.12" font-family='"Liberation Sans", sans-serif' >150</text>
<text x="542.5" y="464.2" font-size="9" text-anchor="middle" letter-spacing="1.1" fill="#1c1c1c" stroke="#1c1c1c" stroke-width="0.12" font-family='"Liberation Sans", sans-serif' >200</text>
<text x="591.1" y="464.2" font-size="9" text-anchor="middle" letter-spacing="1.1" fill="#1c1c1c" stroke="#1c1c1c" stroke-width="0.12" font-family='"Liberation Sans", sans-serif' >250</text>
<text x="639.8" y="464.2" font-size="9" text-anchor="middle" letter-spacing="1.1" fill="#1c1c1c" stroke="#1c1c1c" stroke-width="0.12" font-family='"Liberation Sans", sans-serif' >300</text>
<text x="520.0" y="482.7" font-size="11.4" text-anchor="middle" letter-spacing="0.85" fill="#1c1c1c" stroke="#1c1c1c" stroke-width="0.12" font-family='"Liberation Sans", sans-serif' >Temperature (K)</text>
<text x="0.0" y="0.0" font-size="12.1" text-anchor="middle" letter-spacing="0.55" fill="#1c1c1c" stroke="#1c1c1c" stroke-width="0.12" font-family='"Liberation Sans", sans-serif' transform="translate(346 356.5) rotate(-90)">m' (emu)</text>
<rect x="5.5" y="489.5" width="330" height="136.7" fill="#dce4f0" stroke="#284b7e" stroke-width="3" rx="1"/>
<rect x="341.5" y="490.5" width="331" height="135.5" fill="#dce4f0" stroke="#284b7e" stroke-width="3" rx="1"/>
<defs>
<radialGradient id="au" cx="0.56" cy="0.44" r="0.6" fx="0.6" fy="0.4">
<stop offset="0" stop-color="#fbf2b4"/><stop offset="0.28" stop-color="#d2b55a"/><stop offset="0.7" stop-color="#a08330"/><stop offset="1" stop-color="#6c5616"/>
</radialGradient>
<marker id="ah" viewBox="0 0 10 10" refX="5" refY="5" markerWidth="4" markerHeight="4" orient="auto-start-reverse"><path d="M0 0L10 5L0 10z" fill="context-stroke"/></marker>
</defs>
<path d="M55.5 550.5L103.5 499.5" stroke="#1f9a3e" stroke-width="2.2" marker-end="url(#ah)"/>
<path d="M49.5 565L103.5 616" stroke="#c0161c" stroke-width="3"/><path d="M112 624.5L102.2 621.6L108.6 614.9Z" fill="#f41c1c"/>
<g><path d="M36.6 509.8L43.4 516.6" stroke="#de8aa0" stroke-width="2.6" stroke-linecap="round"/><path d="M43.4 516.6L50.2 523.4" stroke="#d05a76" stroke-width="2.6" stroke-linecap="round"/><circle cx="50.0" cy="523.2" r="1.5" fill="#c23a5a"/><path d="M43.7 506.2L50.5 513.0" stroke="#de8aa0" stroke-width="2.6" stroke-linecap="round"/><path d="M50.5 513.0L57.3 519.8" stroke="#d05a76" stroke-width="2.6" stroke-linecap="round"/><circle cx="57.1" cy="519.6" r="1.5" fill="#c23a5a"/><path d="M50.8 502.6L57.6 509.4" stroke="#de8aa0" stroke-width="2.6" stroke-linecap="round"/><path d="M57.6 509.4L64.4 516.2" stroke="#d05a76" stroke-width="2.6" stroke-linecap="round"/><circle cx="64.2" cy="516.0" r="1.5" fill="#c23a5a"/><circle cx="57.6" cy="509.4" r="5.0" fill="url(#au)"/><circle cx="50.5" cy="513.0" r="5.0" fill="url(#au)"/><circle cx="43.4" cy="516.6" r="5.0" fill="url(#au)"/><path d="M80.0 509.8L86.8 516.6" stroke="#de8aa0" stroke-width="2.6" stroke-linecap="round"/><path d="M86.8 516.6L93.6 523.4" stroke="#d05a76" stroke-width="2.6" stroke-linecap="round"/><circle cx="93.4" cy="523.2" r="1.5" fill="#c23a5a"/><path d="M87.1 506.2L93.9 513.0" stroke="#de8aa0" stroke-width="2.6" stroke-linecap="round"/><path d="M93.9 513.0L100.7 519.8" stroke="#d05a76" stroke-width="2.6" stroke-linecap="round"/><circle cx="100.5" cy="519.6" r="1.5" fill="#c23a5a"/><path d="M94.2 502.6L101.0 509.4" stroke="#de8aa0" stroke-width="2.6" stroke-linecap="round"/><path d="M101.0 509.4L107.8 516.2" stroke="#d05a76" stroke-width="2.6" stroke-linecap="round"/><circle cx="107.6" cy="516.0" r="1.5" fill="#c23a5a"/><circle cx="101.0" cy="509.4" r="5.0" fill="url(#au)"/><circle cx="93.9" cy="513.0" r="5.0" fill="url(#au)"/><circle cx="86.8" cy="516.6" r="5.0" fill="url(#au)"/><path d="M123.4 509.8L130.2 516.6" stroke="#de8aa0" stroke-width="2.6" stroke-linecap="round"/><path d="M130.2 516.6L137.0 523.4" stroke="#d05a76" stroke-width="2.6" stroke-linecap="round"/><circle cx="136.8" cy="523.2" r="1.5" fill="#c23a5a"/><path d="M130.5 506.2L137.3 513.0" stroke="#de8aa0" stroke-width="2.6" stroke-linecap="round"/><path d="M137.3 513.0L144.1 519.8" stroke="#d05a76" stroke-width="2.6" stroke-linecap="round"/><circle cx="143.9" cy="519.6" r="1.5" fill="#c23a5a"/><path d="M137.6 502.6L144.4 509.4" stroke="#de8aa0" stroke-width="2.6" stroke-linecap="round"/><path d="M144.4 509.4L151.2 516.2" stroke="#d05a76" stroke-width="2.6" stroke-linecap="round"/><circle cx="151.0" cy="516.0" r="1.5" fill="#c23a5a"/><circle cx="144.4" cy="509.4" r="5.0" fill="url(#au)"/><circle cx="137.3" cy="513.0" r="5.0" fill="url(#au)"/><circle cx="130.2" cy="516.6" r="5.0" fill="url(#au)"/><path d="M166.8 509.8L173.6 516.6" stroke="#de8aa0" stroke-width="2.6" stroke-linecap="round"/><path d="M173.6 516.6L180.4 523.4" stroke="#d05a76" stroke-width="2.6" stroke-linecap="round"/><circle cx="180.2" cy="523.2" r="1.5" fill="#c23a5a"/><path d="M173.9 506.2L180.7 513.0" stroke="#de8aa0" stroke-width="2.6" stroke-linecap="round"/><path d="M180.7 513.0L187.5 519.8" stroke="#d05a76" stroke-width="2.6" stroke-linecap="round"/><circle cx="187.3" cy="519.6" r="1.5" fill="#c23a5a"/><path d="M181.0 502.6L187.8 509.4" stroke="#de8aa0" stroke-width="2.6" stroke-linecap="round"/><path d="M187.8 509.4L194.6 516.2" stroke="#d05a76" stroke-width="2.6" stroke-linecap="round"/><circle cx="194.4" cy="516.0" r="1.5" fill="#c23a5a"/><circle cx="187.8" cy="509.4" r="5.0" fill="url(#au)"/><circle cx="180.7" cy="513.0" r="5.0" fill="url(#au)"/><circle cx="173.6" cy="516.6" r="5.0" fill="url(#au)"/><path d="M210.2 509.8L217.0 516.6" stroke="#de8aa0" stroke-width="2.6" stroke-linecap="round"/><path d="M217.0 516.6L223.8 523.4" stroke="#d05a76" stroke-width="2.6" stroke-linecap="round"/><circle cx="223.6" cy="523.2" r="1.5" fill="#c23a5a"/><path d="M217.3 506.2L224.1 513.0" stroke="#de8aa0" stroke-width="2.6" stroke-linecap="round"/><path d="M224.1 513.0L230.9 519.8" stroke="#d05a76" stroke-width="2.6" stroke-linecap="round"/><circle cx="230.7" cy="519.6" r="1.5" fill="#c23a5a"/><path d="M224.4 502.6L231.2 509.4" stroke="#de8aa0" stroke-width="2.6" stroke-linecap="round"/><path d="M231.2 509.4L238.0 516.2" stroke="#d05a76" stroke-width="2.6" stroke-linecap="round"/><circle cx="237.8" cy="516.0" r="1.5" fill="#c23a5a"/><circle cx="231.2" cy="509.4" r="5.0" fill="url(#au)"/><circle cx="224.1" cy="513.0" r="5.0" fill="url(#au)"/><circle cx="217.0" cy="516.6" r="5.0" fill="url(#au)"/><path d="M253.6 509.8L260.4 516.6" stroke="#de8aa0" stroke-width="2.6" stroke-linecap="round"/><path d="M260.4 516.6L267.2 523.4" stroke="#d05a76" stroke-width="2.6" stroke-linecap="round"/><circle cx="267.0" cy="523.2" r="1.5" fill="#c23a5a"/><path d="M260.7 506.2L267.5 513.0" stroke="#de8aa0" stroke-width="2.6" stroke-linecap="round"/><path d="M267.5 513.0L274.3 519.8" stroke="#d05a76" stroke-width="2.6" stroke-linecap="round"/><circle cx="274.1" cy="519.6" r="1.5" fill="#c23a5a"/><path d="M267.8 502.6L274.6 509.4" stroke="#de8aa0" stroke-width="2.6" stroke-linecap="round"/><path d="M274.6 509.4L281.4 516.2" stroke="#d05a76" stroke-width="2.6" stroke-linecap="round"/><circle cx="281.2" cy="516.0" r="1.5" fill="#c23a5a"/><circle cx="274.6" cy="509.4" r="5.0" fill="url(#au)"/><circle cx="267.5" cy="513.0" r="5.0" fill="url(#au)"/><circle cx="260.4" cy="516.6" r="5.0" fill="url(#au)"/><path d="M297.0 509.8L303.8 516.6" stroke="#de8aa0" stroke-width="2.6" stroke-linecap="round"/><path d="M303.8 516.6L310.6 523.4" stroke="#d05a76" stroke-width="2.6" stroke-linecap="round"/><circle cx="310.4" cy="523.2" r="1.5" fill="#c23a5a"/><path d="M304.1 506.2L310.9 513.0" stroke="#de8aa0" stroke-width="2.6" stroke-linecap="round"/><path d="M310.9 513.0L317.7 519.8" stroke="#d05a76" stroke-width="2.6" stroke-linecap="round"/><circle cx="317.5" cy="519.6" r="1.5" fill="#c23a5a"/><path d="M311.2 502.6L318.0 509.4" stroke="#de8aa0" stroke-width="2.6" stroke-linecap="round"/><path d="M318.0 509.4L324.8 516.2" stroke="#d05a76" stroke-width="2.6" stroke-linecap="round"/><circle cx="324.6" cy="516.0" r="1.5" fill="#c23a5a"/><circle cx="318.0" cy="509.4" r="5.0" fill="url(#au)"/><circle cx="310.9" cy="513.0" r="5.0" fill="url(#au)"/><circle cx="303.8" cy="516.6" r="5.0" fill="url(#au)"/><path d="M38.8 554.2L45.6 561.0" stroke="#de8aa0" stroke-width="2.6" stroke-linecap="round"/><path d="M45.6 561.0L52.4 567.8" stroke="#d05a76" stroke-width="2.6" stroke-linecap="round"/><circle cx="52.2" cy="567.6" r="1.5" fill="#c23a5a"/><path d="M45.9 550.6L52.7 557.4" stroke="#de8aa0" stroke-width="2.6" stroke-linecap="round"/><path d="M52.7 557.4L59.5 564.2" stroke="#d05a76" stroke-width="2.6" stroke-linecap="round"/><circle cx="59.3" cy="564.0" r="1.5" fill="#c23a5a"/><path d="M53.0 547.0L59.8 553.8" stroke="#de8aa0" stroke-width="2.6" stroke-linecap="round"/><path d="M59.8 553.8L66.6 560.6" stroke="#d05a76" stroke-width="2.6" stroke-linecap="round"/><circle cx="66.4" cy="560.4" r="1.5" fill="#c23a5a"/><circle cx="59.8" cy="553.8" r="5.0" fill="url(#au)"/><circle cx="52.7" cy="557.4" r="5.0" fill="url(#au)"/><circle cx="45.6" cy="561.0" r="5.0" fill="url(#au)"/><path d="M82.2 554.2L89.0 561.0" stroke="#de8aa0" stroke-width="2.6" stroke-linecap="round"/><path d="M89.0 561.0L95.8 567.8" stroke="#d05a76" stroke-width="2.6" stroke-linecap="round"/><circle cx="95.6" cy="567.6" r="1.5" fill="#c23a5a"/><path d="M89.3 550.6L96.1 557.4" stroke="#de8aa0" stroke-width="2.6" stroke-linecap="round"/><path d="M96.1 557.4L102.9 564.2" stroke="#d05a76" stroke-width="2.6" stroke-linecap="round"/><circle cx="102.7" cy="564.0" r="1.5" fill="#c23a5a"/><path d="M96.4 547.0L103.2 553.8" stroke="#de8aa0" stroke-width="2.6" stroke-linecap="round"/><path d="M103.2 553.8L110.0 560.6" stroke="#d05a76" stroke-width="2.6" stroke-linecap="round"/><circle cx="109.8" cy="560.4" r="1.5" fill="#c23a5a"/><circle cx="103.2" cy="553.8" r="5.0" fill="url(#au)"/><circle cx="96.1" cy="557.4" r="5.0" fill="url(#au)"/><circle cx="89.0" cy="561.0" r="5.0" fill="url(#au)"/><path d="M125.6 554.2L132.4 561.0" stroke="#de8aa0" stroke-width="2.6" stroke-linecap="round"/><path d="M132.4 561.0L139.2 567.8" stroke="#d05a76" stroke-width="2.6" stroke-linecap="round"/><circle cx="139.0" cy="567.6" r="1.5" fill="#c23a5a"/><path d="M132.7 550.6L139.5 557.4" stroke="#de8aa0" stroke-width="2.6" stroke-linecap="round"/><path d="M139.5 557.4L146.3 564.2" stroke="#d05a76" stroke-width="2.6" stroke-linecap="round"/><circle cx="146.1" cy="564.0" r="1.5" fill="#c23a5a"/><path d="M139.8 547.0L146.6 553.8" stroke="#de8aa0" stroke-width="2.6" stroke-linecap="round"/><path d="M146.6 553.8L153.4 560.6" stroke="#d05a76" stroke-width="2.6" stroke-linecap="round"/><circle cx="153.2" cy="560.4" r="1.5" fill="#c23a5a"/><circle cx="146.6" cy="553.8" r="5.0" fill="url(#au)"/><circle cx="139.5" cy="557.4" r="5.0" fill="url(#au)"/><circle cx="132.4" cy="561.0" r="5.0" fill="url(#au)"/><path d="M169.0 554.2L175.8 561.0" stroke="#de8aa0" stroke-width="2.6" stroke-linecap="round"/><path d="M175.8 561.0L182.6 567.8" stroke="#d05a76" stroke-width="2.6" stroke-linecap="round"/><circle cx="182.4" cy="567.6" r="1.5" fill="#c23a5a"/><path d="M176.1 550.6L182.9 557.4" stroke="#de8aa0" stroke-width="2.6" stroke-linecap="round"/><path d="M182.9 557.4L189.7 564.2" stroke="#d05a76" stroke-width="2.6" stroke-linecap="round"/><circle cx="189.5" cy="564.0" r="1.5" fill="#c23a5a"/><path d="M183.2 547.0L190.0 553.8" stroke="#de8aa0" stroke-width="2.6" stroke-linecap="round"/><path d="M190.0 553.8L196.8 560.6" stroke="#d05a76" stroke-width="2.6" stroke-linecap="round"/><circle cx="196.6" cy="560.4" r="1.5" fill="#c23a5a"/><circle cx="190.0" cy="553.8" r="5.0" fill="url(#au)"/><circle cx="182.9" cy="557.4" r="5.0" fill="url(#au)"/><circle cx="175.8" cy="561.0" r="5.0" fill="url(#au)"/><path d="M212.4 554.2L219.2 561.0" stroke="#de8aa0" stroke-width="2.6" stroke-linecap="round"/><path d="M219.2 561.0L226.0 567.8" stroke="#d05a76" stroke-width="2.6" stroke-linecap="round"/><circle cx="225.8" cy="567.6" r="1.5" fill="#c23a5a"/><path d="M219.5 550.6L226.3 557.4" stroke="#de8aa0" stroke-width="2.6" stroke-linecap="round"/><path d="M226.3 557.4L233.1 564.2" stroke="#d05a76" stroke-width="2.6" stroke-linecap="round"/><circle cx="232.9" cy="564.0" r="1.5" fill="#c23a5a"/><path d="M226.6 547.0L233.4 553.8" stroke="#de8aa0" stroke-width="2.6" stroke-linecap="round"/><path d="M233.4 553.8L240.2 560.6" stroke="#d05a76" stroke-width="2.6" stroke-linecap="round"/><circle cx="240.0" cy="560.4" r="1.5" fill="#c23a5a"/><circle cx="233.4" cy="553.8" r="5.0" fill="url(#au)"/><circle cx="226.3" cy="557.4" r="5.0" fill="url(#au)"/><circle cx="219.2" cy="561.0" r="5.0" fill="url(#au)"/><path d="M255.8 554.2L262.6 561.0" stroke="#de8aa0" stroke-width="2.6" stroke-linecap="round"/><path d="M262.6 561.0L269.4 567.8" stroke="#d05a76" stroke-width="2.6" stroke-linecap="round"/><circle cx="269.2" cy="567.6" r="1.5" fill="#c23a5a"/><path d="M262.9 550.6L269.7 557.4" stroke="#de8aa0" stroke-width="2.6" stroke-linecap="round"/><path d="M269.7 557.4L276.5 564.2" stroke="#d05a76" stroke-width="2.6" stroke-linecap="round"/><circle cx="276.3" cy="564.0" r="1.5" fill="#c23a5a"/><path d="M270.0 547.0L276.8 553.8" stroke="#de8aa0" stroke-width="2.6" stroke-linecap="round"/><path d="M276.8 553.8L283.6 560.6" stroke="#d05a76" stroke-width="2.6" stroke-linecap="round"/><circle cx="283.4" cy="560.4" r="1.5" fill="#c23a5a"/><circle cx="276.8" cy="553.8" r="5.0" fill="url(#au)"/><circle cx="269.7" cy="557.4" r="5.0" fill="url(#au)"/><circle cx="262.6" cy="561.0" r="5.0" fill="url(#au)"/><path d="M299.2 554.2L306.0 561.0" stroke="#de8aa0" stroke-width="2.6" stroke-linecap="round"/><path d="M306.0 561.0L312.8 567.8" stroke="#d05a76" stroke-width="2.6" stroke-linecap="round"/><circle cx="312.6" cy="567.6" r="1.5" fill="#c23a5a"/><path d="M306.3 550.6L313.1 557.4" stroke="#de8aa0" stroke-width="2.6" stroke-linecap="round"/><path d="M313.1 557.4L319.9 564.2" stroke="#d05a76" stroke-width="2.6" stroke-linecap="round"/><circle cx="319.7" cy="564.0" r="1.5" fill="#c23a5a"/><path d="M313.4 547.0L320.2 553.8" stroke="#de8aa0" stroke-width="2.6" stroke-linecap="round"/><path d="M320.2 553.8L327.0 560.6" stroke="#d05a76" stroke-width="2.6" stroke-linecap="round"/><circle cx="326.8" cy="560.4" r="1.5" fill="#c23a5a"/><circle cx="320.2" cy="553.8" r="5.0" fill="url(#au)"/><circle cx="313.1" cy="557.4" r="5.0" fill="url(#au)"/><circle cx="306.0" cy="561.0" r="5.0" fill="url(#au)"/><path d="M41.0 598.6L47.8 605.4" stroke="#de8aa0" stroke-width="2.6" stroke-linecap="round"/><path d="M47.8 605.4L54.6 612.2" stroke="#d05a76" stroke-width="2.6" stroke-linecap="round"/><circle cx="54.4" cy="612.0" r="1.5" fill="#c23a5a"/><path d="M48.1 595.0L54.9 601.8" stroke="#de8aa0" stroke-width="2.6" stroke-linecap="round"/><path d="M54.9 601.8L61.7 608.6" stroke="#d05a76" stroke-width="2.6" stroke-linecap="round"/><circle cx="61.5" cy="608.4" r="1.5" fill="#c23a5a"/><path d="M55.2 591.4L62.0 598.2" stroke="#de8aa0" stroke-width="2.6" stroke-linecap="round"/><path d="M62.0 598.2L68.8 605.0" stroke="#d05a76" stroke-width="2.6" stroke-linecap="round"/><circle cx="68.6" cy="604.8" r="1.5" fill="#c23a5a"/><circle cx="62.0" cy="598.2" r="5.0" fill="url(#au)"/><circle cx="54.9" cy="601.8" r="5.0" fill="url(#au)"/><circle cx="47.8" cy="605.4" r="5.0" fill="url(#au)"/><path d="M84.4 598.6L91.2 605.4" stroke="#de8aa0" stroke-width="2.6" stroke-linecap="round"/><path d="M91.2 605.4L98.0 612.2" stroke="#d05a76" stroke-width="2.6" stroke-linecap="round"/><circle cx="97.8" cy="612.0" r="1.5" fill="#c23a5a"/><path d="M91.5 595.0L98.3 601.8" stroke="#de8aa0" stroke-width="2.6" stroke-linecap="round"/><path d="M98.3 601.8L105.1 608.6" stroke="#d05a76" stroke-width="2.6" stroke-linecap="round"/><circle cx="104.9" cy="608.4" r="1.5" fill="#c23a5a"/><path d="M98.6 591.4L105.4 598.2" stroke="#de8aa0" stroke-width="2.6" stroke-linecap="round"/><path d="M105.4 598.2L112.2 605.0" stroke="#d05a76" stroke-width="2.6" stroke-linecap="round"/><circle cx="112.0" cy="604.8" r="1.5" fill="#c23a5a"/><circle cx="105.4" cy="598.2" r="5.0" fill="url(#au)"/><circle cx="98.3" cy="601.8" r="5.0" fill="url(#au)"/><circle cx="91.2" cy="605.4" r="5.0" fill="url(#au)"/><path d="M127.8 598.6L134.6 605.4" stroke="#de8aa0" stroke-width="2.6" stroke-linecap="round"/><path d="M134.6 605.4L141.4 612.2" stroke="#d05a76" stroke-width="2.6" stroke-linecap="round"/><circle cx="141.2" cy="612.0" r="1.5" fill="#c23a5a"/><path d="M134.9 595.0L141.7 601.8" stroke="#de8aa0" stroke-width="2.6" stroke-linecap="round"/><path d="M141.7 601.8L148.5 608.6" stroke="#d05a76" stroke-width="2.6" stroke-linecap="round"/><circle cx="148.3" cy="608.4" r="1.5" fill="#c23a5a"/><path d="M142.0 591.4L148.8 598.2" stroke="#de8aa0" stroke-width="2.6" stroke-linecap="round"/><path d="M148.8 598.2L155.6 605.0" stroke="#d05a76" stroke-width="2.6" stroke-linecap="round"/><circle cx="155.4" cy="604.8" r="1.5" fill="#c23a5a"/><circle cx="148.8" cy="598.2" r="5.0" fill="url(#au)"/><circle cx="141.7" cy="601.8" r="5.0" fill="url(#au)"/><circle cx="134.6" cy="605.4" r="5.0" fill="url(#au)"/><path d="M171.2 598.6L178.0 605.4" stroke="#de8aa0" stroke-width="2.6" stroke-linecap="round"/><path d="M178.0 605.4L184.8 612.2" stroke="#d05a76" stroke-width="2.6" stroke-linecap="round"/><circle cx="184.6" cy="612.0" r="1.5" fill="#c23a5a"/><path d="M178.3 595.0L185.1 601.8" stroke="#de8aa0" stroke-width="2.6" stroke-linecap="round"/><path d="M185.1 601.8L191.9 608.6" stroke="#d05a76" stroke-width="2.6" stroke-linecap="round"/><circle cx="191.7" cy="608.4" r="1.5" fill="#c23a5a"/><path d="M185.4 591.4L192.2 598.2" stroke="#de8aa0" stroke-width="2.6" stroke-linecap="round"/><path d="M192.2 598.2L199.0 605.0" stroke="#d05a76" stroke-width="2.6" stroke-linecap="round"/><circle cx="198.8" cy="604.8" r="1.5" fill="#c23a5a"/><circle cx="192.2" cy="598.2" r="5.0" fill="url(#au)"/><circle cx="185.1" cy="601.8" r="5.0" fill="url(#au)"/><circle cx="178.0" cy="605.4" r="5.0" fill="url(#au)"/><path d="M214.6 598.6L221.4 605.4" stroke="#de8aa0" stroke-width="2.6" stroke-linecap="round"/><path d="M221.4 605.4L228.2 612.2" stroke="#d05a76" stroke-width="2.6" stroke-linecap="round"/><circle cx="228.0" cy="612.0" r="1.5" fill="#c23a5a"/><path d="M221.7 595.0L228.5 601.8" stroke="#de8aa0" stroke-width="2.6" stroke-linecap="round"/><path d="M228.5 601.8L235.3 608.6" stroke="#d05a76" stroke-width="2.6" stroke-linecap="round"/><circle cx="235.1" cy="608.4" r="1.5" fill="#c23a5a"/><path d="M228.8 591.4L235.6 598.2" stroke="#de8aa0" stroke-width="2.6" stroke-linecap="round"/><path d="M235.6 598.2L242.4 605.0" stroke="#d05a76" stroke-width="2.6" stroke-linecap="round"/><circle cx="242.2" cy="604.8" r="1.5" fill="#c23a5a"/><circle cx="235.6" cy="598.2" r="5.0" fill="url(#au)"/><circle cx="228.5" cy="601.8" r="5.0" fill="url(#au)"/><circle cx="221.4" cy="605.4" r="5.0" fill="url(#au)"/><path d="M258.0 598.6L264.8 605.4" stroke="#de8aa0" stroke-width="2.6" stroke-linecap="round"/><path d="M264.8 605.4L271.6 612.2" stroke="#d05a76" stroke-width="2.6" stroke-linecap="round"/><circle cx="271.4" cy="612.0" r="1.5" fill="#c23a5a"/><path d="M265.1 595.0L271.9 601.8" stroke="#de8aa0" stroke-width="2.6" stroke-linecap="round"/><path d="M271.9 601.8L278.7 608.6" stroke="#d05a76" stroke-width="2.6" stroke-linecap="round"/><circle cx="278.5" cy="608.4" r="1.5" fill="#c23a5a"/><path d="M272.2 591.4L279.0 598.2" stroke="#de8aa0" stroke-width="2.6" stroke-linecap="round"/><path d="M279.0 598.2L285.8 605.0" stroke="#d05a76" stroke-width="2.6" stroke-linecap="round"/><circle cx="285.6" cy="604.8" r="1.5" fill="#c23a5a"/><circle cx="279.0" cy="598.2" r="5.0" fill="url(#au)"/><circle cx="271.9" cy="601.8" r="5.0" fill="url(#au)"/><circle cx="264.8" cy="605.4" r="5.0" fill="url(#au)"/><path d="M301.4 598.6L308.2 605.4" stroke="#de8aa0" stroke-width="2.6" stroke-linecap="round"/><path d="M308.2 605.4L315.0 612.2" stroke="#d05a76" stroke-width="2.6" stroke-linecap="round"/><circle cx="314.8" cy="612.0" r="1.5" fill="#c23a5a"/><path d="M308.5 595.0L315.3 601.8" stroke="#de8aa0" stroke-width="2.6" stroke-linecap="round"/><path d="M315.3 601.8L322.1 608.6" stroke="#d05a76" stroke-width="2.6" stroke-linecap="round"/><circle cx="321.9" cy="608.4" r="1.5" fill="#c23a5a"/><path d="M315.6 591.4L322.4 598.2" stroke="#de8aa0" stroke-width="2.6" stroke-linecap="round"/><path d="M322.4 598.2L329.2 605.0" stroke="#d05a76" stroke-width="2.6" stroke-linecap="round"/><circle cx="329.0" cy="604.8" r="1.5" fill="#c23a5a"/><circle cx="322.4" cy="598.2" r="5.0" fill="url(#au)"/><circle cx="315.3" cy="601.8" r="5.0" fill="url(#au)"/><circle cx="308.2" cy="605.4" r="5.0" fill="url(#au)"/></g>
<path d="M103 509.7L149.1 553.3L105.1 596.2L60 553.3Z" fill="none" stroke="#000" stroke-width="2.9" stroke-linejoin="miter"/>
<path d="M105.1 596.2L92.2 604.8M60 553.3L50 559" stroke="#000" stroke-width="2.9"/>
<path d="M95 522.5L131 555.5M131 557L105.5 593" stroke="#000" stroke-width="3" stroke-dasharray="2.8 2.4"/>
<path d="M47.5 560L81 540.5" stroke="#3a62d4" stroke-width="1.8" marker-end="url(#ah)"/>
<text x="113.5" y="502.0" font-size="13.5" text-anchor="middle" letter-spacing="0" fill="#111" stroke="#111" stroke-width="0.12" font-family='"Liberation Serif", serif' >b</text>
<text x="115.0" y="623.5" font-size="13.5" text-anchor="middle" letter-spacing="0" fill="#111" stroke="#111" stroke-width="0.12" font-family='"Liberation Serif", serif' >a</text>
<text x="89.0" y="542.5" font-size="13.5" text-anchor="middle" letter-spacing="0" fill="#111" stroke="#111" stroke-width="0.12" font-family='"Liberation Serif", serif' >c</text>
<text x="20.5" y="507.6" font-size="19.5" text-anchor="middle" letter-spacing="0.1" fill="#111" stroke="#111" stroke-width="0.12" font-family='"Liberation Sans", sans-serif' >(e)</text>
<path d="M32.4 619.5V592M32.4 619.5H57.5" stroke="#000" stroke-width="2.4" fill="none"/><path d="M28.3 596.3L32.4 591L36.5 596.3M53.7 615.4L58.9 619.5L53.7 623.6" stroke="#000" stroke-width="2.2" fill="none"/>
<text x="35.2" y="583.2" font-size="14.6" text-anchor="middle" letter-spacing="0" fill="#222" stroke="#222" stroke-width="0.12" font-family='"Liberation Serif", serif' >[-110]</text>
<text x="79.6" y="624.3" font-size="14.6" text-anchor="middle" letter-spacing="0" fill="#222" stroke="#222" stroke-width="0.12" font-family='"Liberation Serif", serif' >[110]</text>
<g><path d="M364.8 540.6L379.8 539.4" stroke="#d94a66" stroke-width="2.2" stroke-linecap="round"/><path d="M374.9 532.4L389.9 531.2" stroke="#d94a66" stroke-width="2.2" stroke-linecap="round"/><path d="M385.0 524.2L400.0 523.0" stroke="#d94a66" stroke-width="2.2" stroke-linecap="round"/><circle cx="392.5" cy="523.6" r="5.2" fill="url(#au)"/><circle cx="382.4" cy="531.8" r="5.2" fill="url(#au)"/><circle cx="372.3" cy="540.0" r="5.2" fill="url(#au)"/><path d="M408.8 540.6L423.8 539.4" stroke="#d94a66" stroke-width="2.2" stroke-linecap="round"/><path d="M418.9 532.4L433.9 531.2" stroke="#d94a66" stroke-width="2.2" stroke-linecap="round"/><path d="M429.0 524.2L444.0 523.0" stroke="#d94a66" stroke-width="2.2" stroke-linecap="round"/><circle cx="436.5" cy="523.6" r="5.2" fill="url(#au)"/><circle cx="426.4" cy="531.8" r="5.2" fill="url(#au)"/><circle cx="416.3" cy="540.0" r="5.2" fill="url(#au)"/><path d="M452.8 540.6L467.8 539.4" stroke="#d94a66" stroke-width="2.2" stroke-linecap="round"/><path d="M462.9 532.4L477.9 531.2" stroke="#d94a66" stroke-width="2.2" stroke-linecap="round"/><path d="M473.0 524.2L488.0 523.0" stroke="#d94a66" stroke-width="2.2" stroke-linecap="round"/><circle cx="480.5" cy="523.6" r="5.2" fill="url(#au)"/><circle cx="470.4" cy="531.8" r="5.2" fill="url(#au)"/><circle cx="460.3" cy="540.0" r="5.2" fill="url(#au)"/><path d="M496.8 540.6L511.8 539.4" stroke="#d94a66" stroke-width="2.2" stroke-linecap="round"/><path d="M506.9 532.4L521.9 531.2" stroke="#d94a66" stroke-width="2.2" stroke-linecap="round"/><path d="M517.0 524.2L532.0 523.0" stroke="#d94a66" stroke-width="2.2" stroke-linecap="round"/><circle cx="524.5" cy="523.6" r="5.2" fill="url(#au)"/><circle cx="514.4" cy="531.8" r="5.2" fill="url(#au)"/><circle cx="504.3" cy="540.0" r="5.2" fill="url(#au)"/><path d="M540.8 540.6L555.8 539.4" stroke="#d94a66" stroke-width="2.2" stroke-linecap="round"/><path d="M550.9 532.4L565.9 531.2" stroke="#d94a66" stroke-width="2.2" stroke-linecap="round"/><path d="M561.0 524.2L576.0 523.0" stroke="#d94a66" stroke-width="2.2" stroke-linecap="round"/><circle cx="568.5" cy="523.6" r="5.2" fill="url(#au)"/><circle cx="558.4" cy="531.8" r="5.2" fill="url(#au)"/><circle cx="548.3" cy="540.0" r="5.2" fill="url(#au)"/><path d="M584.8 540.6L599.8 539.4" stroke="#d94a66" stroke-width="2.2" stroke-linecap="round"/><path d="M594.9 532.4L609.9 531.2" stroke="#d94a66" stroke-width="2.2" stroke-linecap="round"/><path d="M605.0 524.2L620.0 523.0" stroke="#d94a66" stroke-width="2.2" stroke-linecap="round"/><circle cx="612.5" cy="523.6" r="5.2" fill="url(#au)"/><circle cx="602.4" cy="531.8" r="5.2" fill="url(#au)"/><circle cx="592.3" cy="540.0" r="5.2" fill="url(#au)"/><path d="M628.8 540.6L643.8 539.4" stroke="#d94a66" stroke-width="2.2" stroke-linecap="round"/><path d="M638.9 532.4L653.9 531.2" stroke="#d94a66" stroke-width="2.2" stroke-linecap="round"/><path d="M649.0 524.2L664.0 523.0" stroke="#d94a66" stroke-width="2.2" stroke-linecap="round"/><circle cx="656.5" cy="523.6" r="5.2" fill="url(#au)"/><circle cx="646.4" cy="531.8" r="5.2" fill="url(#au)"/><circle cx="636.3" cy="540.0" r="5.2" fill="url(#au)"/><path d="M365.6 565.8L380.6 564.6" stroke="#d94a66" stroke-width="2.2" stroke-linecap="round"/><path d="M375.7 557.6L390.7 556.4" stroke="#d94a66" stroke-width="2.2" stroke-linecap="round"/><path d="M385.8 549.4L400.8 548.2" stroke="#d94a66" stroke-width="2.2" stroke-linecap="round"/><circle cx="393.3" cy="548.8" r="5.2" fill="url(#au)"/><circle cx="383.2" cy="557.0" r="5.2" fill="url(#au)"/><circle cx="373.1" cy="565.2" r="5.2" fill="url(#au)"/><path d="M409.6 565.8L424.6 564.6" stroke="#d94a66" stroke-width="2.2" stroke-linecap="round"/><path d="M419.7 557.6L434.7 556.4" stroke="#d94a66" stroke-width="2.2" stroke-linecap="round"/><path d="M429.8 549.4L444.8 548.2" stroke="#d94a66" stroke-width="2.2" stroke-linecap="round"/><circle cx="437.3" cy="548.8" r="5.2" fill="url(#au)"/><circle cx="427.2" cy="557.0" r="5.2" fill="url(#au)"/><circle cx="417.1" cy="565.2" r="5.2" fill="url(#au)"/><path d="M453.6 565.8L468.6 564.6" stroke="#d94a66" stroke-width="2.2" stroke-linecap="round"/><path d="M463.7 557.6L478.7 556.4" stroke="#d94a66" stroke-width="2.2" stroke-linecap="round"/><path d="M473.8 549.4L488.8 548.2" stroke="#d94a66" stroke-width="2.2" stroke-linecap="round"/><circle cx="481.3" cy="548.8" r="5.2" fill="url(#au)"/><circle cx="471.2" cy="557.0" r="5.2" fill="url(#au)"/><circle cx="461.1" cy="565.2" r="5.2" fill="url(#au)"/><path d="M497.6 565.8L512.6 564.6" stroke="#d94a66" stroke-width="2.2" stroke-linecap="round"/><path d="M507.7 557.6L522.7 556.4" stroke="#d94a66" stroke-width="2.2" stroke-linecap="round"/><path d="M517.8 549.4L532.8 548.2" stroke="#d94a66" stroke-width="2.2" stroke-linecap="round"/><circle cx="525.3" cy="548.8" r="5.2" fill="url(#au)"/><circle cx="515.2" cy="557.0" r="5.2" fill="url(#au)"/><circle cx="505.1" cy="565.2" r="5.2" fill="url(#au)"/><path d="M541.6 565.8L556.6 564.6" stroke="#d94a66" stroke-width="2.2" stroke-linecap="round"/><path d="M551.7 557.6L566.7 556.4" stroke="#d94a66" stroke-width="2.2" stroke-linecap="round"/><path d="M561.8 549.4L576.8 548.2" stroke="#d94a66" stroke-width="2.2" stroke-linecap="round"/><circle cx="569.3" cy="548.8" r="5.2" fill="url(#au)"/><circle cx="559.2" cy="557.0" r="5.2" fill="url(#au)"/><circle cx="549.1" cy="565.2" r="5.2" fill="url(#au)"/><path d="M585.6 565.8L600.6 564.6" stroke="#d94a66" stroke-width="2.2" stroke-linecap="round"/><path d="M595.7 557.6L610.7 556.4" stroke="#d94a66" stroke-width="2.2" stroke-linecap="round"/><path d="M605.8 549.4L620.8 548.2" stroke="#d94a66" stroke-width="2.2" stroke-linecap="round"/><circle cx="613.3" cy="548.8" r="5.2" fill="url(#au)"/><circle cx="603.2" cy="557.0" r="5.2" fill="url(#au)"/><circle cx="593.1" cy="565.2" r="5.2" fill="url(#au)"/><path d="M629.6 565.8L644.6 564.6" stroke="#d94a66" stroke-width="2.2" stroke-linecap="round"/><path d="M639.7 557.6L654.7 556.4" stroke="#d94a66" stroke-width="2.2" stroke-linecap="round"/><path d="M649.8 549.4L664.8 548.2" stroke="#d94a66" stroke-width="2.2" stroke-linecap="round"/><circle cx="657.3" cy="548.8" r="5.2" fill="url(#au)"/><circle cx="647.2" cy="557.0" r="5.2" fill="url(#au)"/><circle cx="637.1" cy="565.2" r="5.2" fill="url(#au)"/><path d="M366.4 591.0L381.4 589.8" stroke="#d94a66" stroke-width="2.2" stroke-linecap="round"/><path d="M376.5 582.8L391.5 581.6" stroke="#d94a66" stroke-width="2.2" stroke-linecap="round"/><path d="M386.6 574.6L401.6 573.4" stroke="#d94a66" stroke-width="2.2" stroke-linecap="round"/><circle cx="394.1" cy="574.0" r="5.2" fill="url(#au)"/><circle cx="384.0" cy="582.2" r="5.2" fill="url(#au)"/><circle cx="373.9" cy="590.4" r="5.2" fill="url(#au)"/><path d="M410.4 591.0L425.4 589.8" stroke="#d94a66" stroke-width="2.2" stroke-linecap="round"/><path d="M420.5 582.8L435.5 581.6" stroke="#d94a66" stroke-width="2.2" stroke-linecap="round"/><path d="M430.6 574.6L445.6 573.4" stroke="#d94a66" stroke-width="2.2" stroke-linecap="round"/><circle cx="438.1" cy="574.0" r="5.2" fill="url(#au)"/><circle cx="428.0" cy="582.2" r="5.2" fill="url(#au)"/><circle cx="417.9" cy="590.4" r="5.2" fill="url(#au)"/><path d="M454.4 591.0L469.4 589.8" stroke="#d94a66" stroke-width="2.2" stroke-linecap="round"/><path d="M464.5 582.8L479.5 581.6" stroke="#d94a66" stroke-width="2.2" stroke-linecap="round"/><path d="M474.6 574.6L489.6 573.4" stroke="#d94a66" stroke-width="2.2" stroke-linecap="round"/><circle cx="482.1" cy="574.0" r="5.2" fill="url(#au)"/><circle cx="472.0" cy="582.2" r="5.2" fill="url(#au)"/><circle cx="461.9" cy="590.4" r="5.2" fill="url(#au)"/><path d="M498.4 591.0L513.4 589.8" stroke="#d94a66" stroke-width="2.2" stroke-linecap="round"/><path d="M508.5 582.8L523.5 581.6" stroke="#d94a66" stroke-width="2.2" stroke-linecap="round"/><path d="M518.6 574.6L533.6 573.4" stroke="#d94a66" stroke-width="2.2" stroke-linecap="round"/><circle cx="526.1" cy="574.0" r="5.2" fill="url(#au)"/><circle cx="516.0" cy="582.2" r="5.2" fill="url(#au)"/><circle cx="505.9" cy="590.4" r="5.2" fill="url(#au)"/><path d="M542.4 591.0L557.4 589.8" stroke="#d94a66" stroke-width="2.2" stroke-linecap="round"/><path d="M552.5 582.8L567.5 581.6" stroke="#d94a66" stroke-width="2.2" stroke-linecap="round"/><path d="M562.6 574.6L577.6 573.4" stroke="#d94a66" stroke-width="2.2" stroke-linecap="round"/><circle cx="570.1" cy="574.0" r="5.2" fill="url(#au)"/><circle cx="560.0" cy="582.2" r="5.2" fill="url(#au)"/><circle cx="549.9" cy="590.4" r="5.2" fill="url(#au)"/><path d="M586.4 591.0L601.4 589.8" stroke="#d94a66" stroke-width="2.2" stroke-linecap="round"/><path d="M596.5 582.8L611.5 581.6" stroke="#d94a66" stroke-width="2.2" stroke-linecap="round"/><path d="M606.6 574.6L621.6 573.4" stroke="#d94a66" stroke-width="2.2" stroke-linecap="round"/><circle cx="614.1" cy="574.0" r="5.2" fill="url(#au)"/><circle cx="604.0" cy="582.2" r="5.2" fill="url(#au)"/><circle cx="593.9" cy="590.4" r="5.2" fill="url(#au)"/><path d="M630.4 591.0L645.4 589.8" stroke="#d94a66" stroke-width="2.2" stroke-linecap="round"/><path d="M640.5 582.8L655.5 581.6" stroke="#d94a66" stroke-width="2.2" stroke-linecap="round"/><path d="M650.6 574.6L665.6 573.4" stroke="#d94a66" stroke-width="2.2" stroke-linecap="round"/><circle cx="658.1" cy="574.0" r="5.2" fill="url(#au)"/><circle cx="648.0" cy="582.2" r="5.2" fill="url(#au)"/><circle cx="637.9" cy="590.4" r="5.2" fill="url(#au)"/></g>
<path d="M386.3 531.1L435.2 522.9L469.4 530.3L415.6 539.2Z M415.6 539.2V588 M469.4 530.3V580 M417.3 588.5L470.5 580" fill="none" stroke="#000" stroke-width="2.4"/>
<path d="M435.5 527V574 M384 582L436.5 574.5 M437 574.5L469 580" fill="none" stroke="#000" stroke-width="2.4" stroke-dasharray="2.2 2.2"/>
<path d="M382.3 582.6L381.3 520" stroke="#3a62d4" stroke-width="2" marker-end="url(#ah)"/>
<path d="M382.3 582.6L443 596.2" stroke="#1c9a50" stroke-width="2.8" marker-end="url(#ah)"/>
<path d="M444.6 573L452.5 572.7" stroke="#e81a1a" stroke-width="1.8" marker-end="url(#ah)"/>
<text x="387.0" y="521.5" font-size="13.5" text-anchor="middle" letter-spacing="0" fill="#111" stroke="#111" stroke-width="0.12" font-family='"Liberation Serif", serif' >c</text>
<text x="453.0" y="603.5" font-size="13.5" text-anchor="middle" letter-spacing="0" fill="#111" stroke="#111" stroke-width="0.12" font-family='"Liberation Serif", serif' >b</text>
<text x="448.3" y="571.0" font-size="13.5" text-anchor="middle" letter-spacing="0" fill="#111" stroke="#111" stroke-width="0.12" font-family='"Liberation Serif", serif' >a</text>
<text x="356.9" y="510.2" font-size="19.5" text-anchor="middle" letter-spacing="0.4" fill="#111" stroke="#111" stroke-width="0.12" font-family='"Liberation Sans", sans-serif' >(f)</text>
<path d="M359.5 617.5V592M359.5 617.5H383.5" stroke="#000" stroke-width="2.4" fill="none"/><path d="M355.4 596.3L359.5 591L363.6 596.3M379.7 613.4L384.9 617.5L379.7 621.6" stroke="#000" stroke-width="2.2" fill="none"/>
<text x="360.0" y="582.2" font-size="14.6" text-anchor="middle" letter-spacing="0" fill="#222" stroke="#222" stroke-width="0.12" font-family='"Liberation Serif", serif' >[001]</text>
<text x="406.8" y="623.8" font-size="14.6" text-anchor="middle" letter-spacing="0" fill="#222" stroke="#222" stroke-width="0.12" font-family='"Liberation Serif", serif' >[110]</text>
</svg>
</body></html>
